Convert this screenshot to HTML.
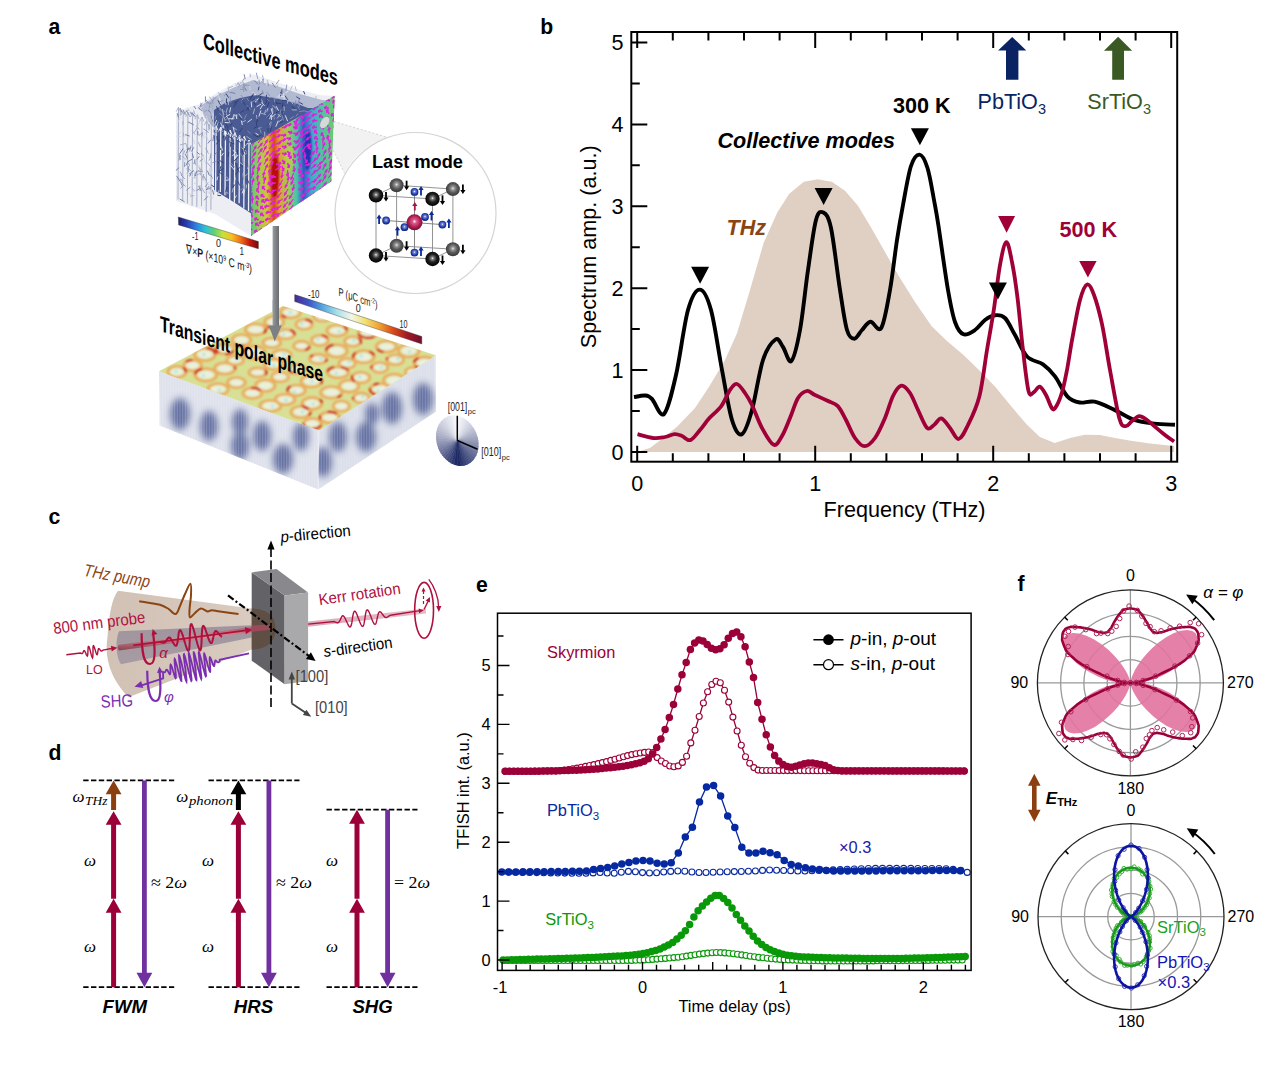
<!DOCTYPE html>
<html><head><meta charset="utf-8"><style>
html,body{margin:0;padding:0;background:#fff;overflow:hidden;}
svg{display:block;}
</style></head><body>
<svg width="1275" height="1086" viewBox="0 0 1275 1086">
<rect width="1275" height="1086" fill="#fff"/>
<path d="M637.0,452.0 L649.8,448.0 L662.0,439.0 L677.5,426.2 L695.0,408.0 L709.2,386.6 L725.0,360.0 L737.0,333.2 L750.0,290.0 L763.6,243.0 L777.4,212.2 L789.0,194.0 L803.8,181.8 L817.8,179.3 L831.8,181.8 L845.0,190.8 L858.0,205.7 L871.2,227.7 L885.0,252.0 L898.0,274.8 L915.0,302.0 L931.7,326.3 L947.0,341.0 L963.5,354.9 L980.0,371.0 L995.2,386.7 L1011.0,406.0 L1027.0,424.8 L1039.9,437.0 L1054.8,443.0 L1070.0,438.0 L1084.7,434.8 L1100.0,435.0 L1115.0,438.0 L1129.4,440.5 L1150.0,443.5 L1174.1,446.0 L1174.1,452.0 Z" fill="#e0d0c4"/>
<path d="M634.0,397.2 C635.8,396.9 642.0,395.2 645.0,395.5 C648.0,395.8 648.8,395.9 652.0,399.0 C655.2,402.1 660.0,418.0 664.0,414.0 C668.0,410.0 672.0,392.3 676.0,375.0 C680.0,357.7 684.0,324.2 688.0,310.0 C692.0,295.8 695.9,289.6 699.7,289.6 C703.5,289.6 707.3,296.6 711.0,310.0 C714.7,323.4 718.5,351.7 722.0,370.0 C725.5,388.3 728.7,409.3 732.0,420.0 C735.3,430.7 738.6,435.9 741.9,434.2 C745.2,432.5 748.5,422.4 752.0,410.0 C755.5,397.6 759.1,371.8 763.0,360.0 C766.9,348.2 772.2,341.7 775.5,339.5 C778.8,337.3 780.4,343.4 783.0,347.0 C785.6,350.6 788.5,363.8 791.3,361.0 C794.1,358.2 797.2,345.2 800.0,330.0 C802.8,314.8 805.3,288.3 808.0,270.0 C810.7,251.7 813.4,229.6 816.0,220.0 C818.6,210.4 820.9,211.3 823.4,212.6 C825.9,213.9 828.2,215.1 831.0,228.0 C833.8,240.9 837.3,273.0 840.0,290.0 C842.7,307.0 844.6,321.9 847.0,330.0 C849.4,338.1 851.9,338.7 854.4,338.7 C856.9,338.7 859.3,332.8 862.0,330.0 C864.7,327.2 867.3,322.2 870.5,321.8 C873.7,321.4 878.0,333.2 881.3,327.9 C884.5,322.6 887.4,304.6 890.0,290.0 C892.6,275.4 894.8,254.2 897.0,240.0 C899.2,225.8 900.7,217.3 903.0,205.0 C905.3,192.7 908.2,174.4 911.0,166.0 C913.8,157.6 916.9,154.3 919.6,154.6 C922.4,154.9 925.1,160.4 927.5,168.0 C929.9,175.6 932.2,190.3 934.0,200.0 C935.8,209.7 936.2,211.0 938.5,226.0 C940.8,241.0 945.2,274.0 948.0,290.0 C950.8,306.0 952.4,314.6 955.0,322.0 C957.6,329.4 960.2,333.0 963.5,334.3 C966.8,335.6 971.4,332.4 975.0,330.0 C978.6,327.6 981.6,322.5 985.0,320.0 C988.4,317.5 991.9,315.5 995.2,315.2 C998.5,314.9 1001.7,314.7 1005.0,318.0 C1008.3,321.3 1011.3,328.6 1015.0,335.0 C1018.7,341.4 1022.3,351.6 1027.0,356.5 C1031.7,361.4 1038.3,361.1 1043.0,364.4 C1047.7,367.7 1051.0,371.1 1055.0,376.4 C1059.0,381.7 1063.2,391.9 1067.3,396.3 C1071.4,400.7 1075.2,401.6 1079.7,402.5 C1084.2,403.4 1088.8,400.5 1094.6,401.7 C1100.4,402.9 1107.9,406.9 1114.5,409.9 C1121.1,412.9 1127.7,417.6 1134.3,419.9 C1140.9,422.2 1147.4,422.8 1154.2,423.6 C1161.0,424.4 1171.5,424.6 1175.0,424.8" fill="none" stroke="#000" stroke-width="3.9" stroke-linejoin="round"/>
<path d="M637.5,434.2 C640.2,434.9 649.2,437.6 653.8,438.1 C658.4,438.6 661.5,437.6 665.0,437.0 C668.5,436.4 671.8,434.4 674.6,434.2 C677.4,434.0 679.4,435.0 682.0,436.0 C684.6,437.0 687.4,441.1 690.4,440.1 C693.4,439.1 696.9,433.6 700.0,430.0 C703.1,426.4 705.7,422.2 709.2,418.3 C712.7,414.4 717.6,411.1 721.1,406.4 C724.6,401.7 727.4,393.7 730.0,390.0 C732.6,386.3 734.4,383.5 736.9,384.0 C739.4,384.5 742.5,389.5 745.0,393.0 C747.5,396.5 749.2,399.2 752.0,405.0 C754.8,410.8 758.4,421.4 762.0,428.0 C765.6,434.6 770.4,443.5 773.7,444.8 C777.0,446.1 779.3,440.5 782.0,436.0 C784.7,431.5 787.3,424.3 790.0,418.0 C792.7,411.7 795.2,402.5 798.0,398.0 C800.8,393.5 804.0,391.5 806.8,391.0 C809.6,390.5 811.5,393.4 815.0,395.0 C818.5,396.6 823.7,399.0 827.5,400.8 C831.3,402.6 834.5,402.7 837.6,405.9 C840.7,409.1 843.1,414.6 846.0,420.0 C848.9,425.4 851.9,433.6 855.0,438.0 C858.1,442.4 861.2,446.2 864.5,446.2 C867.8,446.2 871.6,442.7 875.0,438.0 C878.4,433.3 882.0,425.0 885.0,418.0 C888.0,411.0 890.3,401.4 893.0,396.0 C895.7,390.6 898.6,386.2 901.4,385.7 C904.2,385.2 907.2,388.9 910.0,393.0 C912.8,397.1 915.2,404.2 918.0,410.0 C920.8,415.8 924.3,425.4 927.0,427.9 C929.7,430.4 931.6,426.6 934.0,425.0 C936.4,423.4 938.6,417.9 941.3,418.4 C944.0,418.9 947.1,424.6 950.0,428.0 C952.9,431.4 955.7,439.5 958.7,439.0 C961.7,438.5 964.5,432.1 968.0,425.0 C971.5,417.9 976.2,408.7 979.4,396.2 C982.6,383.7 984.6,364.3 987.0,350.0 C989.4,335.7 991.5,324.7 993.7,310.5 C995.9,296.3 997.9,276.4 1000.0,265.0 C1002.1,253.6 1004.3,242.7 1006.3,242.2 C1008.3,241.7 1010.1,252.7 1012.0,262.0 C1013.9,271.3 1015.7,283.1 1017.5,297.8 C1019.3,312.5 1021.1,334.4 1023.0,350.0 C1024.8,365.6 1026.8,384.4 1028.6,391.4 C1030.4,398.4 1032.2,392.8 1034.0,392.0 C1035.8,391.2 1037.7,386.2 1039.7,386.7 C1041.7,387.2 1043.9,391.3 1046.0,395.0 C1048.1,398.7 1050.6,407.2 1052.4,408.9 C1054.2,410.6 1055.3,407.9 1057.0,405.0 C1058.7,402.1 1060.6,397.1 1062.3,391.3 C1064.0,385.5 1065.3,378.7 1067.0,370.0 C1068.7,361.3 1070.0,350.8 1072.2,339.1 C1074.4,327.4 1077.5,309.1 1080.0,300.0 C1082.5,290.9 1084.8,285.3 1087.1,284.5 C1089.4,283.7 1091.5,288.4 1094.0,295.0 C1096.5,301.6 1099.3,311.7 1102.0,324.2 C1104.7,336.7 1107.1,354.3 1110.0,370.0 C1112.9,385.7 1116.8,409.2 1119.4,418.6 C1122.0,428.0 1123.6,425.7 1125.7,426.1 C1127.8,426.5 1129.7,422.7 1132.0,421.0 C1134.3,419.3 1136.8,416.3 1139.3,416.1 C1141.8,415.9 1144.5,418.3 1147.0,420.0 C1149.5,421.7 1151.2,423.6 1154.2,426.1 C1157.2,428.6 1161.7,432.4 1165.0,435.0 C1168.3,437.6 1172.6,440.4 1174.1,441.5" fill="none" stroke="#a00038" stroke-width="3.8" stroke-linejoin="round"/>
<rect x="631.3" y="32.0" width="545.9000000000001" height="429.7" fill="none" stroke="#000" stroke-width="2"/>
<path d="M631.3,452.0h16 M631.3,411.1h8.5 M631.3,370.1h16 M631.3,329.1h8.5 M631.3,288.2h16 M631.3,247.2h8.5 M631.3,206.3h16 M631.3,165.3h8.5 M631.3,124.4h16 M631.3,83.4h8.5 M631.3,42.5h16 M637.2,461.7v-16 M637.2,32.0v16 M672.8,461.7v-8.5 M672.8,32.0v8.5 M708.4,461.7v-8.5 M708.4,32.0v8.5 M744.0,461.7v-8.5 M744.0,32.0v8.5 M779.6,461.7v-8.5 M779.6,32.0v8.5 M815.2,461.7v-16 M815.2,32.0v16 M850.8,461.7v-8.5 M850.8,32.0v8.5 M886.4,461.7v-8.5 M886.4,32.0v8.5 M922.0,461.7v-8.5 M922.0,32.0v8.5 M957.6,461.7v-8.5 M957.6,32.0v8.5 M993.2,461.7v-16 M993.2,32.0v16 M1028.8,461.7v-8.5 M1028.8,32.0v8.5 M1064.4,461.7v-8.5 M1064.4,32.0v8.5 M1100.0,461.7v-8.5 M1100.0,32.0v8.5 M1135.6,461.7v-8.5 M1135.6,32.0v8.5 M1171.2,461.7v-16 M1171.2,32.0v16" stroke="#000" stroke-width="2" fill="none"/>
<text x="623.5" y="459.6" font-family='"Liberation Sans", sans-serif' font-size="21.6" fill="#000" font-weight="normal" font-style="normal" text-anchor="end" >0</text>
<text x="623.5" y="377.7" font-family='"Liberation Sans", sans-serif' font-size="21.6" fill="#000" font-weight="normal" font-style="normal" text-anchor="end" >1</text>
<text x="623.5" y="295.8" font-family='"Liberation Sans", sans-serif' font-size="21.6" fill="#000" font-weight="normal" font-style="normal" text-anchor="end" >2</text>
<text x="623.5" y="213.9" font-family='"Liberation Sans", sans-serif' font-size="21.6" fill="#000" font-weight="normal" font-style="normal" text-anchor="end" >3</text>
<text x="623.5" y="132.0" font-family='"Liberation Sans", sans-serif' font-size="21.6" fill="#000" font-weight="normal" font-style="normal" text-anchor="end" >4</text>
<text x="623.5" y="50.1" font-family='"Liberation Sans", sans-serif' font-size="21.6" fill="#000" font-weight="normal" font-style="normal" text-anchor="end" >5</text>
<text x="637.2" y="491.0" font-family='"Liberation Sans", sans-serif' font-size="21.6" fill="#000" font-weight="normal" font-style="normal" text-anchor="middle" >0</text>
<text x="815.2" y="491.0" font-family='"Liberation Sans", sans-serif' font-size="21.6" fill="#000" font-weight="normal" font-style="normal" text-anchor="middle" >1</text>
<text x="993.2" y="491.0" font-family='"Liberation Sans", sans-serif' font-size="21.6" fill="#000" font-weight="normal" font-style="normal" text-anchor="middle" >2</text>
<text x="1171.2" y="491.0" font-family='"Liberation Sans", sans-serif' font-size="21.6" fill="#000" font-weight="normal" font-style="normal" text-anchor="middle" >3</text>
<text x="904.5" y="517.3" font-family='"Liberation Sans", sans-serif' font-size="21.6" fill="#000" font-weight="normal" font-style="normal" text-anchor="middle" >Frequency (THz)</text>
<text transform="translate(596.3,246.8) rotate(-90)" font-family='"Liberation Sans", sans-serif' font-size="21.6" text-anchor="middle">Spectrum amp. (a.u.)</text>
<path d="M691.1,266.8 L709.1,266.8 L700.1,283.8Z" fill="#000"/>
<path d="M814.6,188.0 L832.6,188.0 L823.6,205.0Z" fill="#000"/>
<path d="M910.9,128.3 L928.9,128.3 L919.9,145.3Z" fill="#000"/>
<path d="M988.9,282.5 L1006.9,282.5 L997.9,299.5Z" fill="#000"/>
<path d="M998.1,215.9 L1015.1,215.9 L1006.6,232.7Z" fill="#a00038"/>
<path d="M1079.2,260.9 L1096.6,260.9 L1087.9,277.5Z" fill="#a00038"/>
<text x="893.0" y="112.8" font-family='"Liberation Sans", sans-serif' font-size="21.6" fill="#000" font-weight="bold" font-style="normal" text-anchor="start" >300 K</text>
<text x="1059.5" y="237.3" font-family='"Liberation Sans", sans-serif' font-size="21.6" fill="#a00038" font-weight="bold" font-style="normal" text-anchor="start" >500 K</text>
<text x="717.5" y="148.3" font-family='"Liberation Sans", sans-serif' font-size="21.6" fill="#000" font-weight="bold" font-style="italic" text-anchor="start" >Collective modes</text>
<text x="726.5" y="235.3" font-family='"Liberation Sans", sans-serif' font-size="21.6" fill="#8b4513" font-weight="bold" font-style="italic" text-anchor="start" >THz</text>
<path d="M1012.2,36.9 L1026.3,50.6 L1018.4,50.6 L1018.4,79.7 L1006.0,79.7 L1006.0,50.6 L998.1,50.6Z" fill="#0a2463"/>
<path d="M1118.1,36.8 L1132.2,50.7 L1124.0,50.7 L1124.0,79.7 L1112.2,79.7 L1112.2,50.7 L1104.0,50.7Z" fill="#3b5a23"/>
<text x="977.5" y="109.2" font-family='"Liberation Sans", sans-serif' font-size="21.6" fill="#0a2463">PbTiO<tspan font-size="14.5" dy="5">3</tspan></text>
<text x="1087.3" y="109.0" font-family='"Liberation Sans", sans-serif' font-size="21.6" fill="#3b5a23">SrTiO<tspan font-size="14.5" dy="5">3</tspan></text>
<path d="M505.5,771.3 L509.7,771.2 L514.0,771.2 L518.2,771.2 L522.4,771.2 L526.6,771.2 L530.8,771.2 L535.0,771.1 L539.2,771.1 L543.4,771.0 L547.6,770.9 L551.8,770.8 L556.1,770.7 L560.3,770.5 L564.5,770.1 L568.7,769.6 L572.9,768.8 L577.1,768.1 L581.3,767.2 L585.5,766.4 L589.7,765.5 L593.9,764.6 L598.2,763.6 L602.4,762.6 L606.6,761.6 L610.8,760.4 L615.0,759.2 L619.2,758.0 L623.4,756.8 L627.6,755.6 L631.8,754.6 L636.0,753.7 L640.3,753.0 L644.5,752.4 L648.7,752.0 L652.9,752.6 L657.1,757.6 L661.3,761.0 L665.5,763.5 L669.7,766.0 L673.9,766.7 L678.2,765.9 L682.4,762.4 L686.6,756.3 L690.8,742.9 L695.0,730.2 L699.2,716.5 L703.4,703.0 L707.6,691.7 L711.8,684.5 L716.0,681.2 L720.3,682.8 L724.5,690.2 L728.7,702.1 L732.9,717.1 L737.1,731.0 L741.3,745.2 L745.5,756.8 L749.7,763.3 L753.9,767.6 L758.1,770.1 L762.4,770.5 L766.6,770.5 L770.8,770.5 L775.0,770.5 L779.2,770.6 L783.4,770.6 L787.6,770.6 L791.8,770.6 L796.0,770.6 L800.2,770.6 L804.5,770.7 L808.7,770.7 L812.9,770.7 L817.1,770.7 L821.3,770.7 L825.5,770.7 L829.7,770.7 L833.9,770.7 L838.1,770.8 L842.3,770.8 L846.6,770.8 L850.8,770.8 L855.0,770.8 L859.2,770.8 L863.4,770.8 L867.6,770.8 L871.8,770.8 L876.0,770.8 L880.2,770.8 L884.4,770.8 L888.7,770.9 L892.9,770.9 L897.1,770.9 L901.3,770.9 L905.5,770.9 L909.7,770.9 L913.9,770.9 L918.1,770.9 L922.3,770.9 L926.5,770.9 L930.8,770.9 L935.0,770.9 L939.2,770.9 L943.4,770.9 L947.6,771.0 L951.8,771.0 L956.0,771.0 L960.2,771.0 L964.4,771.0" fill="none" stroke="#9b0038" stroke-width="1.3"/>
<g fill="#fff" stroke="#9b0038" stroke-width="1.1"><circle cx="505.5" cy="771.3" r="3.0"/><circle cx="509.7" cy="771.2" r="3.0"/><circle cx="514.0" cy="771.2" r="3.0"/><circle cx="518.2" cy="771.2" r="3.0"/><circle cx="522.4" cy="771.2" r="3.0"/><circle cx="526.6" cy="771.2" r="3.0"/><circle cx="530.8" cy="771.2" r="3.0"/><circle cx="535.0" cy="771.1" r="3.0"/><circle cx="539.2" cy="771.1" r="3.0"/><circle cx="543.4" cy="771.0" r="3.0"/><circle cx="547.6" cy="770.9" r="3.0"/><circle cx="551.8" cy="770.8" r="3.0"/><circle cx="556.1" cy="770.7" r="3.0"/><circle cx="560.3" cy="770.5" r="3.0"/><circle cx="564.5" cy="770.1" r="3.0"/><circle cx="568.7" cy="769.6" r="3.0"/><circle cx="572.9" cy="768.8" r="3.0"/><circle cx="577.1" cy="768.1" r="3.0"/><circle cx="581.3" cy="767.2" r="3.0"/><circle cx="585.5" cy="766.4" r="3.0"/><circle cx="589.7" cy="765.5" r="3.0"/><circle cx="593.9" cy="764.6" r="3.0"/><circle cx="598.2" cy="763.6" r="3.0"/><circle cx="602.4" cy="762.6" r="3.0"/><circle cx="606.6" cy="761.6" r="3.0"/><circle cx="610.8" cy="760.4" r="3.0"/><circle cx="615.0" cy="759.2" r="3.0"/><circle cx="619.2" cy="758.0" r="3.0"/><circle cx="623.4" cy="756.8" r="3.0"/><circle cx="627.6" cy="755.6" r="3.0"/><circle cx="631.8" cy="754.6" r="3.0"/><circle cx="636.0" cy="753.7" r="3.0"/><circle cx="640.3" cy="753.0" r="3.0"/><circle cx="644.5" cy="752.4" r="3.0"/><circle cx="648.7" cy="752.0" r="3.0"/><circle cx="652.9" cy="752.6" r="3.0"/><circle cx="657.1" cy="757.6" r="3.0"/><circle cx="661.3" cy="761.0" r="3.0"/><circle cx="665.5" cy="763.5" r="3.0"/><circle cx="669.7" cy="766.0" r="3.0"/><circle cx="673.9" cy="766.7" r="3.0"/><circle cx="678.2" cy="765.9" r="3.0"/><circle cx="682.4" cy="762.4" r="3.0"/><circle cx="686.6" cy="756.3" r="3.0"/><circle cx="690.8" cy="742.9" r="3.0"/><circle cx="695.0" cy="730.2" r="3.0"/><circle cx="699.2" cy="716.5" r="3.0"/><circle cx="703.4" cy="703.0" r="3.0"/><circle cx="707.6" cy="691.7" r="3.0"/><circle cx="711.8" cy="684.5" r="3.0"/><circle cx="716.0" cy="681.2" r="3.0"/><circle cx="720.3" cy="682.8" r="3.0"/><circle cx="724.5" cy="690.2" r="3.0"/><circle cx="728.7" cy="702.1" r="3.0"/><circle cx="732.9" cy="717.1" r="3.0"/><circle cx="737.1" cy="731.0" r="3.0"/><circle cx="741.3" cy="745.2" r="3.0"/><circle cx="745.5" cy="756.8" r="3.0"/><circle cx="749.7" cy="763.3" r="3.0"/><circle cx="753.9" cy="767.6" r="3.0"/><circle cx="758.1" cy="770.1" r="3.0"/><circle cx="762.4" cy="770.5" r="3.0"/><circle cx="766.6" cy="770.5" r="3.0"/><circle cx="770.8" cy="770.5" r="3.0"/><circle cx="775.0" cy="770.5" r="3.0"/><circle cx="779.2" cy="770.6" r="3.0"/><circle cx="783.4" cy="770.6" r="3.0"/><circle cx="787.6" cy="770.6" r="3.0"/><circle cx="791.8" cy="770.6" r="3.0"/><circle cx="796.0" cy="770.6" r="3.0"/><circle cx="800.2" cy="770.6" r="3.0"/><circle cx="804.5" cy="770.7" r="3.0"/><circle cx="808.7" cy="770.7" r="3.0"/><circle cx="812.9" cy="770.7" r="3.0"/><circle cx="817.1" cy="770.7" r="3.0"/><circle cx="821.3" cy="770.7" r="3.0"/><circle cx="825.5" cy="770.7" r="3.0"/><circle cx="829.7" cy="770.7" r="3.0"/><circle cx="833.9" cy="770.7" r="3.0"/><circle cx="838.1" cy="770.8" r="3.0"/><circle cx="842.3" cy="770.8" r="3.0"/><circle cx="846.6" cy="770.8" r="3.0"/><circle cx="850.8" cy="770.8" r="3.0"/><circle cx="855.0" cy="770.8" r="3.0"/><circle cx="859.2" cy="770.8" r="3.0"/><circle cx="863.4" cy="770.8" r="3.0"/><circle cx="867.6" cy="770.8" r="3.0"/><circle cx="871.8" cy="770.8" r="3.0"/><circle cx="876.0" cy="770.8" r="3.0"/><circle cx="880.2" cy="770.8" r="3.0"/><circle cx="884.4" cy="770.8" r="3.0"/><circle cx="888.7" cy="770.9" r="3.0"/><circle cx="892.9" cy="770.9" r="3.0"/><circle cx="897.1" cy="770.9" r="3.0"/><circle cx="901.3" cy="770.9" r="3.0"/><circle cx="905.5" cy="770.9" r="3.0"/><circle cx="909.7" cy="770.9" r="3.0"/><circle cx="913.9" cy="770.9" r="3.0"/><circle cx="918.1" cy="770.9" r="3.0"/><circle cx="922.3" cy="770.9" r="3.0"/><circle cx="926.5" cy="770.9" r="3.0"/><circle cx="930.8" cy="770.9" r="3.0"/><circle cx="935.0" cy="770.9" r="3.0"/><circle cx="939.2" cy="770.9" r="3.0"/><circle cx="943.4" cy="770.9" r="3.0"/><circle cx="947.6" cy="771.0" r="3.0"/><circle cx="951.8" cy="771.0" r="3.0"/><circle cx="956.0" cy="771.0" r="3.0"/><circle cx="960.2" cy="771.0" r="3.0"/><circle cx="964.4" cy="771.0" r="3.0"/></g>
<g fill="#9b0038"><path d="M505.1,771.3 L509.3,771.3 L513.6,771.3 L517.8,771.3 L522.0,771.3 L526.2,771.3 L530.4,771.3 L534.6,771.3 L538.8,771.2 L543.0,771.1 L547.2,771.1 L551.4,771.0 L555.7,770.9 L559.9,770.8 L564.1,770.6 L568.3,770.5 L572.5,770.3 L576.7,770.2 L580.9,770.0 L585.1,769.7 L589.3,769.5 L593.5,769.2 L597.8,768.9 L602.0,768.5 L606.2,768.1 L610.4,767.8 L614.6,767.3 L618.8,766.8 L623.0,766.2 L627.2,765.5 L631.4,764.7 L635.6,763.8 L639.9,762.8 L644.1,761.2 L648.3,758.7 L652.5,754.0 L656.7,747.6 L660.9,739.0 L665.1,729.6 L669.3,717.5 L673.5,704.5 L677.8,689.0 L682.0,674.8 L686.2,662.6 L690.4,649.4 L694.6,643.0 L698.8,640.1 L703.0,641.0 L707.2,644.6 L711.4,648.3 L715.6,649.8 L719.9,648.7 L724.1,644.7 L728.3,638.2 L732.5,633.6 L736.7,631.9 L740.9,636.8 L745.1,646.7 L749.3,662.0 L753.5,677.5 L757.7,702.5 L762.0,719.2 L766.2,734.8 L770.4,747.1 L774.6,755.5 L778.8,761.1 L783.0,764.6 L787.2,766.6 L791.4,767.2 L795.6,766.2 L799.8,764.9 L804.1,763.7 L808.3,763.1 L812.5,763.0 L816.7,763.7 L820.9,764.4 L825.1,765.5 L829.3,767.8 L833.5,769.8 L837.7,770.6 L841.9,770.9 L846.2,771.0 L850.4,771.0 L854.6,771.0 L858.8,771.1 L863.0,771.1 L867.2,771.1 L871.4,771.1 L875.6,771.1 L879.8,771.1 L884.0,771.1 L888.3,771.1 L892.5,771.1 L896.7,771.1 L900.9,771.1 L905.1,771.1 L909.3,771.1 L913.5,771.0 L917.7,771.0 L921.9,771.0 L926.1,771.0 L930.4,771.0 L934.6,771.0 L938.8,771.0 L943.0,770.9 L947.2,770.9 L951.4,770.9 L955.6,770.9 L959.8,770.9 L964.0,770.9" fill="none" stroke="#9b0038" stroke-width="1.3"/>
<circle cx="505.1" cy="771.3" r="3.75"/><circle cx="509.3" cy="771.3" r="3.75"/><circle cx="513.6" cy="771.3" r="3.75"/><circle cx="517.8" cy="771.3" r="3.75"/><circle cx="522.0" cy="771.3" r="3.75"/><circle cx="526.2" cy="771.3" r="3.75"/><circle cx="530.4" cy="771.3" r="3.75"/><circle cx="534.6" cy="771.3" r="3.75"/><circle cx="538.8" cy="771.2" r="3.75"/><circle cx="543.0" cy="771.1" r="3.75"/><circle cx="547.2" cy="771.1" r="3.75"/><circle cx="551.4" cy="771.0" r="3.75"/><circle cx="555.7" cy="770.9" r="3.75"/><circle cx="559.9" cy="770.8" r="3.75"/><circle cx="564.1" cy="770.6" r="3.75"/><circle cx="568.3" cy="770.5" r="3.75"/><circle cx="572.5" cy="770.3" r="3.75"/><circle cx="576.7" cy="770.2" r="3.75"/><circle cx="580.9" cy="770.0" r="3.75"/><circle cx="585.1" cy="769.7" r="3.75"/><circle cx="589.3" cy="769.5" r="3.75"/><circle cx="593.5" cy="769.2" r="3.75"/><circle cx="597.8" cy="768.9" r="3.75"/><circle cx="602.0" cy="768.5" r="3.75"/><circle cx="606.2" cy="768.1" r="3.75"/><circle cx="610.4" cy="767.8" r="3.75"/><circle cx="614.6" cy="767.3" r="3.75"/><circle cx="618.8" cy="766.8" r="3.75"/><circle cx="623.0" cy="766.2" r="3.75"/><circle cx="627.2" cy="765.5" r="3.75"/><circle cx="631.4" cy="764.7" r="3.75"/><circle cx="635.6" cy="763.8" r="3.75"/><circle cx="639.9" cy="762.8" r="3.75"/><circle cx="644.1" cy="761.2" r="3.75"/><circle cx="648.3" cy="758.7" r="3.75"/><circle cx="652.5" cy="754.0" r="3.75"/><circle cx="656.7" cy="747.6" r="3.75"/><circle cx="660.9" cy="739.0" r="3.75"/><circle cx="665.1" cy="729.6" r="3.75"/><circle cx="669.3" cy="717.5" r="3.75"/><circle cx="673.5" cy="704.5" r="3.75"/><circle cx="677.8" cy="689.0" r="3.75"/><circle cx="682.0" cy="674.8" r="3.75"/><circle cx="686.2" cy="662.6" r="3.75"/><circle cx="690.4" cy="649.4" r="3.75"/><circle cx="694.6" cy="643.0" r="3.75"/><circle cx="698.8" cy="640.1" r="3.75"/><circle cx="703.0" cy="641.0" r="3.75"/><circle cx="707.2" cy="644.6" r="3.75"/><circle cx="711.4" cy="648.3" r="3.75"/><circle cx="715.6" cy="649.8" r="3.75"/><circle cx="719.9" cy="648.7" r="3.75"/><circle cx="724.1" cy="644.7" r="3.75"/><circle cx="728.3" cy="638.2" r="3.75"/><circle cx="732.5" cy="633.6" r="3.75"/><circle cx="736.7" cy="631.9" r="3.75"/><circle cx="740.9" cy="636.8" r="3.75"/><circle cx="745.1" cy="646.7" r="3.75"/><circle cx="749.3" cy="662.0" r="3.75"/><circle cx="753.5" cy="677.5" r="3.75"/><circle cx="757.7" cy="702.5" r="3.75"/><circle cx="762.0" cy="719.2" r="3.75"/><circle cx="766.2" cy="734.8" r="3.75"/><circle cx="770.4" cy="747.1" r="3.75"/><circle cx="774.6" cy="755.5" r="3.75"/><circle cx="778.8" cy="761.1" r="3.75"/><circle cx="783.0" cy="764.6" r="3.75"/><circle cx="787.2" cy="766.6" r="3.75"/><circle cx="791.4" cy="767.2" r="3.75"/><circle cx="795.6" cy="766.2" r="3.75"/><circle cx="799.8" cy="764.9" r="3.75"/><circle cx="804.1" cy="763.7" r="3.75"/><circle cx="808.3" cy="763.1" r="3.75"/><circle cx="812.5" cy="763.0" r="3.75"/><circle cx="816.7" cy="763.7" r="3.75"/><circle cx="820.9" cy="764.4" r="3.75"/><circle cx="825.1" cy="765.5" r="3.75"/><circle cx="829.3" cy="767.8" r="3.75"/><circle cx="833.5" cy="769.8" r="3.75"/><circle cx="837.7" cy="770.6" r="3.75"/><circle cx="841.9" cy="770.9" r="3.75"/><circle cx="846.2" cy="771.0" r="3.75"/><circle cx="850.4" cy="771.0" r="3.75"/><circle cx="854.6" cy="771.0" r="3.75"/><circle cx="858.8" cy="771.1" r="3.75"/><circle cx="863.0" cy="771.1" r="3.75"/><circle cx="867.2" cy="771.1" r="3.75"/><circle cx="871.4" cy="771.1" r="3.75"/><circle cx="875.6" cy="771.1" r="3.75"/><circle cx="879.8" cy="771.1" r="3.75"/><circle cx="884.0" cy="771.1" r="3.75"/><circle cx="888.3" cy="771.1" r="3.75"/><circle cx="892.5" cy="771.1" r="3.75"/><circle cx="896.7" cy="771.1" r="3.75"/><circle cx="900.9" cy="771.1" r="3.75"/><circle cx="905.1" cy="771.1" r="3.75"/><circle cx="909.3" cy="771.1" r="3.75"/><circle cx="913.5" cy="771.0" r="3.75"/><circle cx="917.7" cy="771.0" r="3.75"/><circle cx="921.9" cy="771.0" r="3.75"/><circle cx="926.1" cy="771.0" r="3.75"/><circle cx="930.4" cy="771.0" r="3.75"/><circle cx="934.6" cy="771.0" r="3.75"/><circle cx="938.8" cy="771.0" r="3.75"/><circle cx="943.0" cy="770.9" r="3.75"/><circle cx="947.2" cy="770.9" r="3.75"/><circle cx="951.4" cy="770.9" r="3.75"/><circle cx="955.6" cy="770.9" r="3.75"/><circle cx="959.8" cy="770.9" r="3.75"/><circle cx="964.0" cy="770.9" r="3.75"/></g>

<g fill="#fff" stroke="#0628a0" stroke-width="1.1"><circle cx="508.3" cy="872.1" r="3.0"/><circle cx="515.4" cy="872.2" r="3.0"/><circle cx="522.5" cy="872.4" r="3.0"/><circle cx="529.5" cy="872.5" r="3.0"/><circle cx="536.6" cy="872.6" r="3.0"/><circle cx="543.6" cy="872.8" r="3.0"/><circle cx="550.7" cy="872.9" r="3.0"/><circle cx="557.8" cy="873.0" r="3.0"/><circle cx="564.8" cy="873.1" r="3.0"/><circle cx="571.9" cy="873.2" r="3.0"/><circle cx="578.9" cy="873.3" r="3.0"/><circle cx="586.0" cy="873.3" r="3.0"/><circle cx="593.1" cy="872.9" r="3.0"/><circle cx="600.1" cy="872.5" r="3.0"/><circle cx="607.2" cy="873.0" r="3.0"/><circle cx="614.2" cy="873.3" r="3.0"/><circle cx="621.3" cy="872.3" r="3.0"/><circle cx="628.4" cy="871.4" r="3.0"/><circle cx="635.4" cy="871.8" r="3.0"/><circle cx="642.5" cy="872.6" r="3.0"/><circle cx="649.5" cy="873.0" r="3.0"/><circle cx="656.6" cy="872.7" r="3.0"/><circle cx="663.7" cy="872.0" r="3.0"/><circle cx="670.7" cy="871.4" r="3.0"/><circle cx="677.8" cy="871.0" r="3.0"/><circle cx="684.8" cy="871.3" r="3.0"/><circle cx="691.9" cy="872.0" r="3.0"/><circle cx="699.0" cy="872.5" r="3.0"/><circle cx="706.0" cy="872.5" r="3.0"/><circle cx="713.1" cy="872.3" r="3.0"/><circle cx="720.1" cy="872.0" r="3.0"/><circle cx="727.2" cy="871.8" r="3.0"/><circle cx="734.3" cy="871.6" r="3.0"/><circle cx="741.3" cy="871.5" r="3.0"/><circle cx="748.4" cy="871.2" r="3.0"/><circle cx="755.4" cy="871.0" r="3.0"/><circle cx="762.5" cy="870.4" r="3.0"/><circle cx="769.6" cy="870.0" r="3.0"/><circle cx="776.6" cy="870.2" r="3.0"/><circle cx="783.7" cy="870.5" r="3.0"/><circle cx="790.7" cy="870.8" r="3.0"/><circle cx="797.8" cy="871.0" r="3.0"/><circle cx="804.9" cy="871.0" r="3.0"/><circle cx="811.9" cy="870.8" r="3.0"/><circle cx="819.0" cy="870.5" r="3.0"/><circle cx="826.0" cy="870.2" r="3.0"/><circle cx="833.1" cy="869.9" r="3.0"/><circle cx="840.2" cy="869.6" r="3.0"/><circle cx="847.2" cy="869.3" r="3.0"/><circle cx="854.3" cy="869.0" r="3.0"/><circle cx="861.3" cy="868.7" r="3.0"/><circle cx="868.4" cy="868.5" r="3.0"/><circle cx="875.5" cy="868.4" r="3.0"/><circle cx="882.5" cy="868.4" r="3.0"/><circle cx="889.6" cy="868.4" r="3.0"/><circle cx="896.6" cy="868.4" r="3.0"/><circle cx="903.7" cy="868.4" r="3.0"/><circle cx="910.8" cy="868.4" r="3.0"/><circle cx="917.8" cy="868.5" r="3.0"/><circle cx="924.9" cy="868.5" r="3.0"/><circle cx="931.9" cy="868.5" r="3.0"/><circle cx="939.0" cy="868.5" r="3.0"/><circle cx="946.1" cy="868.7" r="3.0"/><circle cx="953.1" cy="869.4" r="3.0"/><circle cx="960.2" cy="870.9" r="3.0"/><circle cx="967.2" cy="872.4" r="3.0"/></g>
<g fill="#0628a0"><path d="M501.8,872.0 L508.8,871.9 L515.9,871.9 L523.0,871.8 L530.0,871.8 L537.1,871.7 L544.1,871.7 L551.2,871.6 L558.3,871.5 L565.3,871.4 L572.4,871.3 L579.4,871.2 L586.5,871.0 L593.6,869.6 L600.6,868.6 L607.7,867.6 L614.7,866.0 L621.8,864.0 L628.9,862.4 L635.9,861.1 L643.0,860.6 L650.0,860.9 L657.1,863.2 L664.2,864.1 L671.2,862.8 L678.3,853.0 L685.3,836.9 L692.4,827.2 L699.5,802.0 L706.5,786.9 L713.6,785.6 L720.6,796.1 L727.7,816.1 L734.8,827.6 L741.8,847.2 L748.9,852.9 L755.9,852.9 L763.0,851.2 L770.1,852.7 L777.1,854.7 L784.2,860.5 L791.2,864.4 L798.3,866.0 L805.4,867.7 L812.4,869.0 L819.5,869.6 L826.5,870.4 L833.6,870.9 L840.7,870.9 L847.7,870.9 L854.8,870.9 L861.8,870.9 L868.9,870.9 L876.0,870.9 L883.0,870.8 L890.1,870.8 L897.1,870.8 L904.2,870.8 L911.3,870.7 L918.3,870.7 L925.4,870.7 L932.4,870.6 L939.5,870.6 L946.6,870.6 L953.6,870.5 L960.7,870.5" fill="none" stroke="#0628a0" stroke-width="1.3"/>
<circle cx="501.8" cy="872.0" r="3.75"/><circle cx="508.8" cy="871.9" r="3.75"/><circle cx="515.9" cy="871.9" r="3.75"/><circle cx="523.0" cy="871.8" r="3.75"/><circle cx="530.0" cy="871.8" r="3.75"/><circle cx="537.1" cy="871.7" r="3.75"/><circle cx="544.1" cy="871.7" r="3.75"/><circle cx="551.2" cy="871.6" r="3.75"/><circle cx="558.3" cy="871.5" r="3.75"/><circle cx="565.3" cy="871.4" r="3.75"/><circle cx="572.4" cy="871.3" r="3.75"/><circle cx="579.4" cy="871.2" r="3.75"/><circle cx="586.5" cy="871.0" r="3.75"/><circle cx="593.6" cy="869.6" r="3.75"/><circle cx="600.6" cy="868.6" r="3.75"/><circle cx="607.7" cy="867.6" r="3.75"/><circle cx="614.7" cy="866.0" r="3.75"/><circle cx="621.8" cy="864.0" r="3.75"/><circle cx="628.9" cy="862.4" r="3.75"/><circle cx="635.9" cy="861.1" r="3.75"/><circle cx="643.0" cy="860.6" r="3.75"/><circle cx="650.0" cy="860.9" r="3.75"/><circle cx="657.1" cy="863.2" r="3.75"/><circle cx="664.2" cy="864.1" r="3.75"/><circle cx="671.2" cy="862.8" r="3.75"/><circle cx="678.3" cy="853.0" r="3.75"/><circle cx="685.3" cy="836.9" r="3.75"/><circle cx="692.4" cy="827.2" r="3.75"/><circle cx="699.5" cy="802.0" r="3.75"/><circle cx="706.5" cy="786.9" r="3.75"/><circle cx="713.6" cy="785.6" r="3.75"/><circle cx="720.6" cy="796.1" r="3.75"/><circle cx="727.7" cy="816.1" r="3.75"/><circle cx="734.8" cy="827.6" r="3.75"/><circle cx="741.8" cy="847.2" r="3.75"/><circle cx="748.9" cy="852.9" r="3.75"/><circle cx="755.9" cy="852.9" r="3.75"/><circle cx="763.0" cy="851.2" r="3.75"/><circle cx="770.1" cy="852.7" r="3.75"/><circle cx="777.1" cy="854.7" r="3.75"/><circle cx="784.2" cy="860.5" r="3.75"/><circle cx="791.2" cy="864.4" r="3.75"/><circle cx="798.3" cy="866.0" r="3.75"/><circle cx="805.4" cy="867.7" r="3.75"/><circle cx="812.4" cy="869.0" r="3.75"/><circle cx="819.5" cy="869.6" r="3.75"/><circle cx="826.5" cy="870.4" r="3.75"/><circle cx="833.6" cy="870.9" r="3.75"/><circle cx="840.7" cy="870.9" r="3.75"/><circle cx="847.7" cy="870.9" r="3.75"/><circle cx="854.8" cy="870.9" r="3.75"/><circle cx="861.8" cy="870.9" r="3.75"/><circle cx="868.9" cy="870.9" r="3.75"/><circle cx="876.0" cy="870.9" r="3.75"/><circle cx="883.0" cy="870.8" r="3.75"/><circle cx="890.1" cy="870.8" r="3.75"/><circle cx="897.1" cy="870.8" r="3.75"/><circle cx="904.2" cy="870.8" r="3.75"/><circle cx="911.3" cy="870.7" r="3.75"/><circle cx="918.3" cy="870.7" r="3.75"/><circle cx="925.4" cy="870.7" r="3.75"/><circle cx="932.4" cy="870.6" r="3.75"/><circle cx="939.5" cy="870.6" r="3.75"/><circle cx="946.6" cy="870.6" r="3.75"/><circle cx="953.6" cy="870.5" r="3.75"/><circle cx="960.7" cy="870.5" r="3.75"/></g>

<g fill="#fff" stroke="#089808" stroke-width="1.1"><circle cx="504.3" cy="960.5" r="3.0"/><circle cx="508.6" cy="960.5" r="3.0"/><circle cx="512.8" cy="960.5" r="3.0"/><circle cx="517.0" cy="960.5" r="3.0"/><circle cx="521.3" cy="960.5" r="3.0"/><circle cx="525.5" cy="960.5" r="3.0"/><circle cx="529.8" cy="960.5" r="3.0"/><circle cx="534.0" cy="960.5" r="3.0"/><circle cx="538.2" cy="960.5" r="3.0"/><circle cx="542.5" cy="960.5" r="3.0"/><circle cx="546.7" cy="960.5" r="3.0"/><circle cx="551.0" cy="960.5" r="3.0"/><circle cx="555.2" cy="960.5" r="3.0"/><circle cx="559.4" cy="960.5" r="3.0"/><circle cx="563.7" cy="960.5" r="3.0"/><circle cx="567.9" cy="960.5" r="3.0"/><circle cx="572.2" cy="960.5" r="3.0"/><circle cx="576.4" cy="960.5" r="3.0"/><circle cx="580.6" cy="960.5" r="3.0"/><circle cx="584.9" cy="960.5" r="3.0"/><circle cx="589.1" cy="960.5" r="3.0"/><circle cx="593.4" cy="960.5" r="3.0"/><circle cx="597.6" cy="960.5" r="3.0"/><circle cx="601.8" cy="960.5" r="3.0"/><circle cx="606.1" cy="960.5" r="3.0"/><circle cx="610.3" cy="960.5" r="3.0"/><circle cx="614.6" cy="960.5" r="3.0"/><circle cx="618.8" cy="960.5" r="3.0"/><circle cx="623.0" cy="960.5" r="3.0"/><circle cx="627.3" cy="960.4" r="3.0"/><circle cx="631.5" cy="960.4" r="3.0"/><circle cx="635.8" cy="960.3" r="3.0"/><circle cx="640.0" cy="960.1" r="3.0"/><circle cx="644.2" cy="959.9" r="3.0"/><circle cx="648.5" cy="959.7" r="3.0"/><circle cx="652.7" cy="959.4" r="3.0"/><circle cx="657.0" cy="959.1" r="3.0"/><circle cx="661.2" cy="958.7" r="3.0"/><circle cx="665.4" cy="958.4" r="3.0"/><circle cx="669.7" cy="958.0" r="3.0"/><circle cx="673.9" cy="957.6" r="3.0"/><circle cx="678.2" cy="957.2" r="3.0"/><circle cx="682.4" cy="956.7" r="3.0"/><circle cx="686.6" cy="956.1" r="3.0"/><circle cx="690.9" cy="955.4" r="3.0"/><circle cx="695.1" cy="954.7" r="3.0"/><circle cx="699.4" cy="954.1" r="3.0"/><circle cx="703.6" cy="953.6" r="3.0"/><circle cx="707.8" cy="953.1" r="3.0"/><circle cx="712.1" cy="952.7" r="3.0"/><circle cx="716.3" cy="952.5" r="3.0"/><circle cx="720.6" cy="952.6" r="3.0"/><circle cx="724.8" cy="952.9" r="3.0"/><circle cx="729.0" cy="953.3" r="3.0"/><circle cx="733.3" cy="953.8" r="3.0"/><circle cx="737.5" cy="954.3" r="3.0"/><circle cx="741.8" cy="954.9" r="3.0"/><circle cx="746.0" cy="955.5" r="3.0"/><circle cx="750.2" cy="956.2" r="3.0"/><circle cx="754.5" cy="956.8" r="3.0"/><circle cx="758.7" cy="957.4" r="3.0"/><circle cx="763.0" cy="957.8" r="3.0"/><circle cx="767.2" cy="958.3" r="3.0"/><circle cx="771.4" cy="958.7" r="3.0"/><circle cx="775.7" cy="959.1" r="3.0"/><circle cx="779.9" cy="959.4" r="3.0"/><circle cx="784.2" cy="959.7" r="3.0"/><circle cx="788.4" cy="959.9" r="3.0"/><circle cx="792.6" cy="960.1" r="3.0"/><circle cx="796.9" cy="960.3" r="3.0"/><circle cx="801.1" cy="960.4" r="3.0"/><circle cx="805.4" cy="960.5" r="3.0"/><circle cx="809.6" cy="960.7" r="3.0"/><circle cx="813.8" cy="960.8" r="3.0"/><circle cx="818.1" cy="960.8" r="3.0"/><circle cx="822.3" cy="960.9" r="3.0"/><circle cx="826.6" cy="960.9" r="3.0"/><circle cx="830.8" cy="961.0" r="3.0"/><circle cx="835.0" cy="961.0" r="3.0"/><circle cx="839.3" cy="961.0" r="3.0"/><circle cx="843.5" cy="961.0" r="3.0"/><circle cx="847.8" cy="961.0" r="3.0"/><circle cx="852.0" cy="961.0" r="3.0"/><circle cx="856.2" cy="961.0" r="3.0"/><circle cx="860.5" cy="961.0" r="3.0"/><circle cx="864.7" cy="960.9" r="3.0"/><circle cx="869.0" cy="960.9" r="3.0"/><circle cx="873.2" cy="960.9" r="3.0"/><circle cx="877.4" cy="960.8" r="3.0"/><circle cx="881.7" cy="960.8" r="3.0"/><circle cx="885.9" cy="960.8" r="3.0"/><circle cx="890.2" cy="960.7" r="3.0"/><circle cx="894.4" cy="960.7" r="3.0"/><circle cx="898.6" cy="960.7" r="3.0"/><circle cx="902.9" cy="960.6" r="3.0"/><circle cx="907.1" cy="960.6" r="3.0"/><circle cx="911.4" cy="960.5" r="3.0"/><circle cx="915.6" cy="960.5" r="3.0"/><circle cx="919.8" cy="960.5" r="3.0"/><circle cx="924.1" cy="960.4" r="3.0"/><circle cx="928.3" cy="960.4" r="3.0"/><circle cx="932.6" cy="960.3" r="3.0"/><circle cx="936.8" cy="960.3" r="3.0"/><circle cx="941.0" cy="960.2" r="3.0"/><circle cx="945.3" cy="960.2" r="3.0"/><circle cx="949.5" cy="960.1" r="3.0"/><circle cx="953.8" cy="960.1" r="3.0"/><circle cx="958.0" cy="960.1" r="3.0"/><circle cx="962.2" cy="960.0" r="3.0"/></g>
<g fill="#089808">
<circle cx="503.1" cy="960.0" r="3.75"/><circle cx="507.3" cy="959.9" r="3.75"/><circle cx="511.6" cy="959.8" r="3.75"/><circle cx="515.8" cy="959.7" r="3.75"/><circle cx="520.0" cy="959.6" r="3.75"/><circle cx="524.3" cy="959.4" r="3.75"/><circle cx="528.5" cy="959.3" r="3.75"/><circle cx="532.8" cy="959.2" r="3.75"/><circle cx="537.0" cy="959.1" r="3.75"/><circle cx="541.2" cy="959.0" r="3.75"/><circle cx="545.5" cy="958.9" r="3.75"/><circle cx="549.7" cy="958.8" r="3.75"/><circle cx="554.0" cy="958.7" r="3.75"/><circle cx="558.2" cy="958.6" r="3.75"/><circle cx="562.4" cy="958.4" r="3.75"/><circle cx="566.7" cy="958.3" r="3.75"/><circle cx="570.9" cy="958.2" r="3.75"/><circle cx="575.2" cy="958.1" r="3.75"/><circle cx="579.4" cy="957.9" r="3.75"/><circle cx="583.6" cy="957.8" r="3.75"/><circle cx="587.9" cy="957.6" r="3.75"/><circle cx="592.1" cy="957.4" r="3.75"/><circle cx="596.4" cy="957.2" r="3.75"/><circle cx="600.6" cy="957.0" r="3.75"/><circle cx="604.8" cy="956.7" r="3.75"/><circle cx="609.1" cy="956.5" r="3.75"/><circle cx="613.3" cy="956.3" r="3.75"/><circle cx="617.6" cy="956.1" r="3.75"/><circle cx="621.8" cy="955.9" r="3.75"/><circle cx="626.0" cy="955.6" r="3.75"/><circle cx="630.3" cy="955.2" r="3.75"/><circle cx="634.5" cy="954.7" r="3.75"/><circle cx="638.8" cy="954.2" r="3.75"/><circle cx="643.0" cy="953.5" r="3.75"/><circle cx="647.2" cy="952.7" r="3.75"/><circle cx="651.5" cy="951.6" r="3.75"/><circle cx="655.7" cy="950.4" r="3.75"/><circle cx="660.0" cy="948.9" r="3.75"/><circle cx="664.2" cy="947.1" r="3.75"/><circle cx="668.4" cy="945.0" r="3.75"/><circle cx="672.7" cy="942.4" r="3.75"/><circle cx="676.9" cy="939.1" r="3.75"/><circle cx="681.2" cy="935.2" r="3.75"/><circle cx="685.4" cy="930.7" r="3.75"/><circle cx="689.6" cy="924.6" r="3.75"/><circle cx="693.9" cy="917.0" r="3.75"/><circle cx="698.1" cy="910.8" r="3.75"/><circle cx="702.4" cy="906.0" r="3.75"/><circle cx="706.6" cy="901.9" r="3.75"/><circle cx="710.8" cy="898.3" r="3.75"/><circle cx="715.1" cy="895.6" r="3.75"/><circle cx="719.3" cy="895.6" r="3.75"/><circle cx="723.6" cy="898.4" r="3.75"/><circle cx="727.8" cy="902.5" r="3.75"/><circle cx="732.0" cy="908.1" r="3.75"/><circle cx="736.3" cy="914.5" r="3.75"/><circle cx="740.5" cy="920.3" r="3.75"/><circle cx="744.8" cy="925.9" r="3.75"/><circle cx="749.0" cy="931.1" r="3.75"/><circle cx="753.2" cy="936.3" r="3.75"/><circle cx="757.5" cy="940.9" r="3.75"/><circle cx="761.7" cy="944.5" r="3.75"/><circle cx="766.0" cy="947.4" r="3.75"/><circle cx="770.2" cy="949.7" r="3.75"/><circle cx="774.4" cy="951.6" r="3.75"/><circle cx="778.7" cy="953.1" r="3.75"/><circle cx="782.9" cy="954.3" r="3.75"/><circle cx="787.2" cy="955.2" r="3.75"/><circle cx="791.4" cy="955.8" r="3.75"/><circle cx="795.6" cy="956.3" r="3.75"/><circle cx="799.9" cy="956.7" r="3.75"/><circle cx="804.1" cy="956.9" r="3.75"/><circle cx="808.4" cy="957.1" r="3.75"/><circle cx="812.6" cy="957.3" r="3.75"/><circle cx="816.8" cy="957.4" r="3.75"/><circle cx="821.1" cy="957.5" r="3.75"/><circle cx="825.3" cy="957.7" r="3.75"/><circle cx="829.6" cy="957.8" r="3.75"/><circle cx="833.8" cy="957.9" r="3.75"/><circle cx="838.0" cy="958.0" r="3.75"/><circle cx="842.3" cy="958.1" r="3.75"/><circle cx="846.5" cy="958.1" r="3.75"/><circle cx="850.8" cy="958.2" r="3.75"/><circle cx="855.0" cy="958.3" r="3.75"/><circle cx="859.2" cy="958.3" r="3.75"/><circle cx="863.5" cy="958.4" r="3.75"/><circle cx="867.7" cy="958.4" r="3.75"/><circle cx="872.0" cy="958.5" r="3.75"/><circle cx="876.2" cy="958.5" r="3.75"/><circle cx="880.4" cy="958.5" r="3.75"/><circle cx="884.7" cy="958.5" r="3.75"/><circle cx="888.9" cy="958.5" r="3.75"/><circle cx="893.2" cy="958.5" r="3.75"/><circle cx="897.4" cy="958.4" r="3.75"/><circle cx="901.6" cy="958.4" r="3.75"/><circle cx="905.9" cy="958.3" r="3.75"/><circle cx="910.1" cy="958.2" r="3.75"/><circle cx="914.4" cy="958.1" r="3.75"/><circle cx="918.6" cy="958.0" r="3.75"/><circle cx="922.8" cy="957.9" r="3.75"/><circle cx="927.1" cy="957.8" r="3.75"/><circle cx="931.3" cy="957.7" r="3.75"/><circle cx="935.6" cy="957.6" r="3.75"/><circle cx="939.8" cy="957.4" r="3.75"/><circle cx="944.0" cy="957.3" r="3.75"/><circle cx="948.3" cy="957.1" r="3.75"/><circle cx="952.5" cy="957.0" r="3.75"/><circle cx="956.8" cy="956.8" r="3.75"/><circle cx="961.0" cy="956.7" r="3.75"/><circle cx="965.2" cy="956.5" r="3.75"/></g>
<rect x="497.5" y="613.2" width="473.6" height="357.19999999999993" fill="none" stroke="#000" stroke-width="1.5"/>
<path d="M497.5,960.0h12 M497.5,930.5h6 M497.5,901.1h12 M497.5,871.6h6 M497.5,842.2h12 M497.5,812.8h6 M497.5,783.3h12 M497.5,753.9h6 M497.5,724.4h12 M497.5,695.0h6 M497.5,665.5h12 M497.5,636.0h6 M502.1,970.4v-8.5 M516.1,970.4v-5.7 M530.2,970.4v-5.7 M544.2,970.4v-5.7 M558.3,970.4v-5.7 M572.3,970.4v-8.5 M586.3,970.4v-5.7 M600.4,970.4v-5.7 M614.4,970.4v-5.7 M628.5,970.4v-5.7 M642.5,970.4v-8.5 M656.5,970.4v-5.7 M670.6,970.4v-5.7 M684.6,970.4v-5.7 M698.7,970.4v-5.7 M712.7,970.4v-8.5 M726.7,970.4v-5.7 M740.8,970.4v-5.7 M754.8,970.4v-5.7 M768.9,970.4v-5.7 M782.9,970.4v-8.5 M796.9,970.4v-5.7 M811.0,970.4v-5.7 M825.0,970.4v-5.7 M839.1,970.4v-5.7 M853.1,970.4v-8.5 M867.1,970.4v-5.7 M881.2,970.4v-5.7 M895.2,970.4v-5.7 M909.3,970.4v-5.7 M923.3,970.4v-8.5 M937.3,970.4v-5.7 M951.4,970.4v-5.7 M965.4,970.4v-5.7" stroke="#000" stroke-width="1.4" fill="none"/>
<text x="490.5" y="965.9" font-family='"Liberation Sans", sans-serif' font-size="16.4" fill="#000" font-weight="normal" font-style="normal" text-anchor="end" >0</text>
<text x="490.5" y="907.0" font-family='"Liberation Sans", sans-serif' font-size="16.4" fill="#000" font-weight="normal" font-style="normal" text-anchor="end" >1</text>
<text x="490.5" y="848.1" font-family='"Liberation Sans", sans-serif' font-size="16.4" fill="#000" font-weight="normal" font-style="normal" text-anchor="end" >2</text>
<text x="490.5" y="789.2" font-family='"Liberation Sans", sans-serif' font-size="16.4" fill="#000" font-weight="normal" font-style="normal" text-anchor="end" >3</text>
<text x="490.5" y="730.3" font-family='"Liberation Sans", sans-serif' font-size="16.4" fill="#000" font-weight="normal" font-style="normal" text-anchor="end" >4</text>
<text x="490.5" y="671.4" font-family='"Liberation Sans", sans-serif' font-size="16.4" fill="#000" font-weight="normal" font-style="normal" text-anchor="end" >5</text>
<text x="500.1" y="992.6" font-family='"Liberation Sans", sans-serif' font-size="16.4" fill="#000" font-weight="normal" font-style="normal" text-anchor="middle" >-1</text>
<text x="642.5" y="992.6" font-family='"Liberation Sans", sans-serif' font-size="16.4" fill="#000" font-weight="normal" font-style="normal" text-anchor="middle" >0</text>
<text x="782.9" y="992.6" font-family='"Liberation Sans", sans-serif' font-size="16.4" fill="#000" font-weight="normal" font-style="normal" text-anchor="middle" >1</text>
<text x="923.3" y="992.6" font-family='"Liberation Sans", sans-serif' font-size="16.4" fill="#000" font-weight="normal" font-style="normal" text-anchor="middle" >2</text>
<text x="734.6" y="1011.8" font-family='"Liberation Sans", sans-serif' font-size="16.4" fill="#000" font-weight="normal" font-style="normal" text-anchor="middle" >Time delay (ps)</text>
<text transform="translate(468.9,790.6) rotate(-90)" font-family='"Liberation Sans", sans-serif' font-size="16.4" text-anchor="middle">TFISH int. (a.u.)</text>
<text x="547.0" y="658.1" font-family='"Liberation Sans", sans-serif' font-size="16.4" fill="#9b0038" font-weight="normal" font-style="normal" text-anchor="start" >Skyrmion</text>
<text x="546.9" y="815.7" font-family='"Liberation Sans", sans-serif' font-size="16.4" fill="#0628a0">PbTiO<tspan font-size="11.5" dy="4">3</tspan></text>
<text x="545.3" y="925.0" font-family='"Liberation Sans", sans-serif' font-size="16.4" fill="#089808">SrTiO<tspan font-size="11.5" dy="4">3</tspan></text>
<text x="839.0" y="853.2" font-family='"Liberation Sans", sans-serif' font-size="16.4" fill="#1a1aa8" font-weight="normal" font-style="normal" text-anchor="start" >×0.3</text>
<path d="M813.4,639.7h30.1 M813.4,664.7h30.1" stroke="#000" stroke-width="1.5"/>
<circle cx="828.5" cy="639.7" r="5.4" fill="#000"/><circle cx="828.5" cy="664.7" r="5.0" fill="#fff" stroke="#000" stroke-width="1.2"/>
<text x="850.5" y="645.4" font-family='"Liberation Sans", sans-serif' font-size="19"><tspan font-style="italic">p</tspan>-in, <tspan font-style="italic">p</tspan>-out</text>
<text x="850.5" y="670.4" font-family='"Liberation Sans", sans-serif' font-size="19"><tspan font-style="italic">s</tspan>-in, <tspan font-style="italic">p</tspan>-out</text>
<path d="M83.2,780.4h91 M83.2,987.2h91" stroke="#000" stroke-width="1.8" stroke-dasharray="5.4 2.4"/>
<path d="M208.5,780.4h91 M208.5,987.2h91" stroke="#000" stroke-width="1.8" stroke-dasharray="5.4 2.4"/>
<path d="M326.5,809.7h91 M326.5,987.2h91" stroke="#000" stroke-width="1.8" stroke-dasharray="5.4 2.4"/>
<path d="M113.6,898.8 L121.5,912.8 L116.1,912.8 L116.1,987.2 L111.1,987.2 L111.1,912.8 L105.7,912.8Z" fill="#9b0038"/>
<path d="M113.6,811.2 L121.5,824.8 L116.1,824.8 L116.1,898.8 L111.1,898.8 L111.1,824.8 L105.7,824.8Z" fill="#9b0038"/>
<path d="M113.6,780.4 L121.5,794.2 L116.1,794.2 L116.1,809.9 L111.1,809.9 L111.1,794.2 L105.7,794.2Z" fill="#8b3f10"/>
<path d="M142.0,780.4 L146.8,780.4 L146.8,972.8 L152.3,972.8 L144.4,987.2 L136.5,972.8 L142.0,972.8Z" fill="#7030a0"/>
<path d="M238.4,898.8 L246.3,912.8 L240.9,912.8 L240.9,987.2 L235.9,987.2 L235.9,912.8 L230.5,912.8Z" fill="#9b0038"/>
<path d="M238.4,811.2 L246.3,824.8 L240.9,824.8 L240.9,898.8 L235.9,898.8 L235.9,824.8 L230.5,824.8Z" fill="#9b0038"/>
<path d="M238.4,780.4 L246.3,794.2 L240.9,794.2 L240.9,809.9 L235.9,809.9 L235.9,794.2 L230.5,794.2Z" fill="#000"/>
<path d="M266.5,780.4 L271.3,780.4 L271.3,972.8 L276.8,972.8 L268.9,987.2 L261.0,972.8 L266.5,972.8Z" fill="#7030a0"/>
<path d="M357.0,898.8 L364.9,912.8 L359.5,912.8 L359.5,987.2 L354.5,987.2 L354.5,912.8 L349.1,912.8Z" fill="#9b0038"/>
<path d="M357.0,809.7 L364.9,823.7 L359.5,823.7 L359.5,898.8 L354.5,898.8 L354.5,823.7 L349.1,823.7Z" fill="#9b0038"/>
<path d="M385.2,809.7 L390.0,809.7 L390.0,972.8 L395.5,972.8 L387.6,987.2 L379.7,972.8 L385.2,972.8Z" fill="#7030a0"/>
<text x="84.0" y="866.3" font-family='"Liberation Serif", serif' font-size="17" font-style="italic">ω</text>
<text x="84.0" y="952.0" font-family='"Liberation Serif", serif' font-size="17" font-style="italic">ω</text>
<text x="202.0" y="866.3" font-family='"Liberation Serif", serif' font-size="17" font-style="italic">ω</text>
<text x="202.0" y="952.0" font-family='"Liberation Serif", serif' font-size="17" font-style="italic">ω</text>
<text x="326.0" y="866.3" font-family='"Liberation Serif", serif' font-size="17" font-style="italic">ω</text>
<text x="326.0" y="952.0" font-family='"Liberation Serif", serif' font-size="17" font-style="italic">ω</text>
<text x="151" y="888.1" font-family='"Liberation Serif", serif' font-size="16.4" textLength="36" lengthAdjust="spacingAndGlyphs">≈ 2<tspan font-style="italic">ω</tspan></text>
<text x="276" y="888.1" font-family='"Liberation Serif", serif' font-size="16.4" textLength="36" lengthAdjust="spacingAndGlyphs">≈ 2<tspan font-style="italic">ω</tspan></text>
<text x="394" y="888.1" font-family='"Liberation Serif", serif' font-size="16.4" textLength="36" lengthAdjust="spacingAndGlyphs">= 2<tspan font-style="italic">ω</tspan></text>
<text x="72.4" y="801.9" font-family='"Liberation Serif", serif' font-size="17" font-style="italic">ω</text>
<text x="85.0" y="804.8" font-family='"Liberation Serif", serif' font-size="11.5" font-style="italic" textLength="22.4" lengthAdjust="spacingAndGlyphs">THz</text>
<text x="176.3" y="801.9" font-family='"Liberation Serif", serif' font-size="17" font-style="italic">ω</text>
<text x="189.0" y="804.8" font-family='"Liberation Serif", serif' font-size="11.5" font-style="italic" textLength="44" lengthAdjust="spacingAndGlyphs">phonon</text>
<text x="124.8" y="1013.0" font-family='"Liberation Sans", sans-serif' font-size="18.6" fill="#000" font-weight="bold" font-style="italic" text-anchor="middle" >FWM</text>
<text x="253.5" y="1013.0" font-family='"Liberation Sans", sans-serif' font-size="18.6" fill="#000" font-weight="bold" font-style="italic" text-anchor="middle" >HRS</text>
<text x="372.6" y="1013.0" font-family='"Liberation Sans", sans-serif' font-size="18.6" fill="#000" font-weight="bold" font-style="italic" text-anchor="middle" >SHG</text>
<g fill="none" stroke="#999" stroke-width="1.3"><circle cx="1130.4" cy="682.9" r="23.25"/><circle cx="1130.4" cy="682.9" r="46.5"/><circle cx="1130.4" cy="682.9" r="69.75"/><path d="M1037.4,682.9H1223.4 M1130.4,589.9V775.9"/></g>
<path d="M1130.4,682.9 L1130.4,682.9 L1130.4,682.9 L1130.4,682.9 L1130.4,682.9 L1130.4,682.9 L1130.4,682.9 L1130.4,682.9 L1130.4,682.9 L1130.4,682.9 L1130.5,682.9 L1130.6,683.0 L1130.8,683.0 L1131.2,683.1 L1131.8,683.2 L1132.9,683.3 L1134.6,683.3 L1137.0,683.1 L1140.2,682.7 L1144.5,681.9 L1149.7,680.5 L1155.9,678.4 L1162.7,675.4 L1170.0,671.5 L1177.3,666.7 L1184.2,661.2 L1190.0,655.1 L1194.4,648.9 L1196.9,642.9 L1197.5,637.7 L1195.9,633.6 L1192.4,630.9 L1187.2,630.0 L1180.7,630.8 L1173.5,633.3 L1166.1,637.2 L1158.9,642.2 L1152.3,647.9 L1146.5,653.9 L1141.7,659.7 L1138.0,665.0 L1135.2,669.6 L1133.3,673.5 L1132.0,676.5 L1131.2,678.8 L1130.8,680.4 L1130.5,681.4 L1130.4,682.1 L1130.4,682.5 L1130.4,682.7 L1130.4,682.8 L1130.4,682.9 L1130.4,682.9 L1130.4,682.9 L1130.4,682.9 L1130.4,682.9 L1130.4,682.9 L1130.4,682.9 L1130.4,682.9 L1130.4,682.9 L1130.4,682.9Z M1130.4,682.9 L1130.4,682.9 L1130.4,682.9 L1130.4,682.9 L1130.4,682.9 L1130.4,682.9 L1130.4,682.9 L1130.4,682.9 L1130.4,682.9 L1130.4,682.9 L1130.4,682.8 L1130.4,682.7 L1130.4,682.5 L1130.3,682.1 L1130.2,681.5 L1130.0,680.4 L1129.5,678.9 L1128.6,676.7 L1127.3,673.8 L1125.2,670.1 L1122.3,665.6 L1118.5,660.5 L1113.6,655.0 L1107.8,649.3 L1101.1,644.0 L1093.8,639.3 L1086.4,635.7 L1079.2,633.5 L1072.9,632.9 L1067.8,634.0 L1064.5,636.7 L1063.1,640.8 L1063.8,646.0 L1066.5,651.7 L1071.0,657.7 L1076.9,663.4 L1083.8,668.7 L1091.1,673.1 L1098.4,676.7 L1105.3,679.4 L1111.4,681.2 L1116.6,682.4 L1120.7,683.1 L1123.9,683.4 L1126.3,683.4 L1127.9,683.3 L1129.0,683.2 L1129.6,683.1 L1130.0,683.0 L1130.2,683.0 L1130.3,682.9 L1130.4,682.9 L1130.4,682.9 L1130.4,682.9 L1130.4,682.9 L1130.4,682.9 L1130.4,682.9 L1130.4,682.9 L1130.4,682.9 L1130.4,682.9 L1130.4,682.9Z M1130.4,682.9 L1130.4,682.9 L1130.4,682.9 L1130.4,682.9 L1130.4,682.9 L1130.4,682.9 L1130.4,682.9 L1130.4,682.9 L1130.4,682.9 L1130.4,682.9 L1130.3,682.9 L1130.2,682.8 L1130.0,682.8 L1129.6,682.7 L1129.0,682.6 L1127.9,682.5 L1126.3,682.5 L1124.0,682.6 L1120.8,682.9 L1116.6,683.6 L1111.5,684.9 L1105.5,686.8 L1098.7,689.6 L1091.5,693.3 L1084.3,697.9 L1077.6,703.2 L1071.8,709.0 L1067.4,715.0 L1064.8,720.8 L1064.2,725.9 L1065.7,729.9 L1069.1,732.6 L1074.1,733.6 L1080.4,732.9 L1087.5,730.6 L1094.8,726.9 L1101.9,722.1 L1108.5,716.6 L1114.2,710.9 L1118.9,705.4 L1122.7,700.2 L1125.5,695.8 L1127.4,692.0 L1128.7,689.1 L1129.5,686.9 L1130.0,685.4 L1130.2,684.3 L1130.4,683.7 L1130.4,683.3 L1130.4,683.1 L1130.4,683.0 L1130.4,682.9 L1130.4,682.9 L1130.4,682.9 L1130.4,682.9 L1130.4,682.9 L1130.4,682.9 L1130.4,682.9 L1130.4,682.9 L1130.4,682.9 L1130.4,682.9Z M1130.4,682.9 L1130.4,682.9 L1130.4,682.9 L1130.4,682.9 L1130.4,682.9 L1130.4,682.9 L1130.4,682.9 L1130.4,682.9 L1130.4,682.9 L1130.4,682.9 L1130.4,683.0 L1130.4,683.1 L1130.4,683.3 L1130.5,683.7 L1130.6,684.3 L1130.8,685.3 L1131.3,686.9 L1132.1,689.0 L1133.5,691.9 L1135.5,695.5 L1138.3,699.9 L1142.1,704.9 L1146.9,710.3 L1152.6,715.8 L1159.2,721.1 L1166.3,725.7 L1173.6,729.2 L1180.6,731.4 L1186.8,732.0 L1191.8,730.9 L1195.1,728.2 L1196.5,724.2 L1195.8,719.2 L1193.1,713.5 L1188.7,707.6 L1182.9,702.0 L1176.1,696.9 L1169.0,692.5 L1161.8,689.0 L1155.1,686.4 L1149.1,684.5 L1144.0,683.4 L1139.9,682.7 L1136.7,682.5 L1134.4,682.4 L1132.8,682.5 L1131.8,682.6 L1131.1,682.7 L1130.8,682.8 L1130.6,682.8 L1130.5,682.9 L1130.4,682.9 L1130.4,682.9 L1130.4,682.9 L1130.4,682.9 L1130.4,682.9 L1130.4,682.9 L1130.4,682.9 L1130.4,682.9 L1130.4,682.9 L1130.4,682.9Z" fill="#e2729f" fill-opacity="0.9"/>
<path d="M1130.4,682.9 L1131.6,682.9 L1132.8,682.8 L1134.0,682.7 L1135.2,682.6 L1136.4,682.4 L1137.7,682.1 L1139.1,681.8 L1140.5,681.5 L1141.8,681.1 L1143.1,680.7 L1144.9,680.1 L1147.9,679.2 L1150.8,678.2 L1153.6,677.1 L1156.5,675.9 L1159.3,674.6 L1162.0,673.2 L1166.1,671.3 L1170.6,669.1 L1175.0,666.7 L1179.4,664.1 L1183.0,661.7 L1185.8,659.4 L1188.5,657.0 L1191.2,654.6 L1193.8,652.0 L1195.0,650.0 L1195.8,648.1 L1196.6,646.2 L1197.3,644.3 L1198.0,642.3 L1198.7,640.2 L1198.6,638.6 L1198.5,637.0 L1198.4,635.3 L1198.2,633.6 L1197.7,632.2 L1196.9,630.9 L1196.0,629.8 L1195.1,628.6 L1193.6,628.0 L1192.0,627.4 L1190.4,626.9 L1188.4,626.9 L1186.3,627.0 L1184.3,627.1 L1182.3,627.2 L1180.3,627.4 L1178.4,627.7 L1176.5,628.0 L1174.5,628.4 L1172.6,628.8 L1170.8,629.3 L1168.9,629.8 L1167.1,630.4 L1165.4,631.1 L1163.6,631.7 L1162.1,632.1 L1160.8,632.3 L1159.5,632.5 L1158.2,632.7 L1156.9,633.0 L1156.0,632.7 L1155.0,632.5 L1154.0,632.2 L1153.1,632.0 L1152.3,631.2 L1151.7,630.3 L1150.9,629.4 L1150.2,628.5 L1149.4,627.6 L1148.8,626.2 L1148.1,624.9 L1147.4,623.5 L1146.7,622.2 L1145.9,620.9 L1145.0,619.5 L1144.2,618.1 L1143.3,616.8 L1142.3,615.4 L1141.3,614.1 L1140.3,612.8 L1139.2,611.5 L1138.0,610.2 L1136.8,609.7 L1135.5,609.3 L1134.3,609.0 L1133.0,608.7 L1131.7,608.5 L1130.4,608.2 L1129.1,608.5 L1127.8,608.7 L1126.5,609.0 L1125.3,609.3 L1124.0,609.7 L1122.8,610.2 L1121.6,611.5 L1120.5,612.8 L1119.5,614.1 L1118.5,615.4 L1117.5,616.8 L1116.6,618.1 L1115.8,619.5 L1114.9,620.9 L1114.1,622.2 L1113.4,623.5 L1112.7,624.9 L1112.0,626.2 L1111.4,627.6 L1110.6,628.5 L1109.9,629.4 L1109.1,630.3 L1108.5,631.2 L1107.7,632.0 L1106.8,632.2 L1105.8,632.5 L1104.8,632.7 L1103.9,633.0 L1102.6,632.7 L1101.3,632.5 L1100.0,632.3 L1098.7,632.1 L1097.2,631.7 L1095.4,631.1 L1093.7,630.4 L1091.9,629.8 L1090.0,629.3 L1088.2,628.8 L1086.3,628.4 L1084.3,628.0 L1082.4,627.7 L1080.5,627.4 L1078.5,627.2 L1076.5,627.1 L1074.5,627.0 L1072.4,626.9 L1070.4,626.9 L1068.8,627.4 L1067.2,628.0 L1065.7,628.6 L1064.8,629.8 L1063.9,630.9 L1063.1,632.2 L1062.6,633.6 L1062.4,635.3 L1062.3,637.0 L1062.2,638.6 L1062.1,640.2 L1062.8,642.3 L1063.5,644.3 L1064.2,646.2 L1065.0,648.1 L1065.8,650.0 L1067.0,652.0 L1069.6,654.6 L1072.3,657.0 L1075.0,659.4 L1077.8,661.7 L1081.4,664.1 L1085.8,666.7 L1090.2,669.1 L1094.7,671.3 L1098.8,673.2 L1101.5,674.6 L1104.3,675.9 L1107.2,677.1 L1110.0,678.2 L1112.9,679.2 L1115.9,680.1 L1117.7,680.7 L1119.0,681.1 L1120.3,681.5 L1121.7,681.8 L1123.1,682.1 L1124.4,682.4 L1125.6,682.6 L1126.8,682.7 L1128.0,682.8 L1129.2,682.9 L1130.4,682.9 L1129.2,682.9 L1128.0,683.0 L1126.8,683.1 L1125.6,683.2 L1124.4,683.4 L1123.1,683.7 L1121.7,684.0 L1120.3,684.3 L1119.0,684.7 L1117.7,685.1 L1115.9,685.7 L1112.9,686.6 L1110.0,687.6 L1107.2,688.7 L1104.3,689.9 L1101.5,691.2 L1098.8,692.6 L1094.7,694.5 L1090.2,696.7 L1085.8,699.1 L1081.4,701.7 L1077.8,704.1 L1075.0,706.4 L1072.3,708.8 L1069.6,711.2 L1067.0,713.8 L1065.8,715.8 L1065.0,717.7 L1064.2,719.6 L1063.5,721.5 L1062.8,723.5 L1062.1,725.6 L1062.2,727.2 L1062.3,728.8 L1062.4,730.5 L1062.6,732.2 L1063.1,733.6 L1063.9,734.9 L1064.8,736.0 L1065.7,737.2 L1067.2,737.8 L1068.8,738.4 L1070.4,738.9 L1072.4,738.9 L1074.5,738.8 L1076.5,738.7 L1078.5,738.6 L1080.5,738.4 L1082.4,738.1 L1084.3,737.8 L1086.3,737.4 L1088.2,737.0 L1090.0,736.5 L1091.9,736.0 L1093.7,735.4 L1095.4,734.7 L1097.2,734.1 L1098.7,733.7 L1100.0,733.5 L1101.3,733.3 L1102.6,733.1 L1103.9,732.8 L1104.8,733.1 L1105.8,733.3 L1106.8,733.6 L1107.7,733.8 L1108.5,734.6 L1109.1,735.5 L1109.9,736.4 L1110.6,737.3 L1111.4,738.2 L1112.0,739.6 L1112.7,740.9 L1113.4,742.3 L1114.1,743.6 L1114.9,744.9 L1115.8,746.3 L1116.6,747.7 L1117.5,749.0 L1118.5,750.4 L1119.5,751.7 L1120.5,753.0 L1121.6,754.3 L1122.8,755.6 L1124.0,756.1 L1125.3,756.5 L1126.5,756.8 L1127.8,757.1 L1129.1,757.3 L1130.4,757.6 L1131.7,757.3 L1133.0,757.1 L1134.3,756.8 L1135.5,756.5 L1136.8,756.1 L1138.0,755.6 L1139.2,754.3 L1140.3,753.0 L1141.3,751.7 L1142.3,750.4 L1143.3,749.0 L1144.2,747.7 L1145.0,746.3 L1145.9,744.9 L1146.7,743.6 L1147.4,742.3 L1148.1,740.9 L1148.8,739.6 L1149.4,738.2 L1150.2,737.3 L1150.9,736.4 L1151.7,735.5 L1152.3,734.6 L1153.1,733.8 L1154.0,733.6 L1155.0,733.3 L1156.0,733.1 L1156.9,732.8 L1158.2,733.1 L1159.5,733.3 L1160.8,733.5 L1162.1,733.7 L1163.6,734.1 L1165.4,734.7 L1167.1,735.4 L1168.9,736.0 L1170.8,736.5 L1172.6,737.0 L1174.5,737.4 L1176.5,737.8 L1178.4,738.1 L1180.3,738.4 L1182.3,738.6 L1184.3,738.7 L1186.3,738.8 L1188.4,738.9 L1190.4,738.9 L1192.0,738.4 L1193.6,737.8 L1195.1,737.2 L1196.0,736.0 L1196.9,734.9 L1197.7,733.6 L1198.2,732.2 L1198.4,730.5 L1198.5,728.8 L1198.6,727.2 L1198.7,725.6 L1198.0,723.5 L1197.3,721.5 L1196.6,719.6 L1195.8,717.7 L1195.0,715.8 L1193.8,713.8 L1191.2,711.2 L1188.5,708.8 L1185.8,706.4 L1183.0,704.1 L1179.4,701.7 L1175.0,699.1 L1170.6,696.7 L1166.1,694.5 L1162.0,692.6 L1159.3,691.2 L1156.5,689.9 L1153.6,688.7 L1150.8,687.6 L1147.9,686.6 L1144.9,685.7 L1143.1,685.1 L1141.8,684.7 L1140.5,684.3 L1139.1,684.0 L1137.7,683.7 L1136.4,683.4 L1135.2,683.2 L1134.0,683.1 L1132.8,683.0 L1131.6,682.9 L1130.4,682.9Z" fill="none" stroke="#9b0038" stroke-width="2.6" stroke-linejoin="round"/>
<g fill="none" stroke="#b0245a" stroke-width="1.0"><circle cx="1130.4" cy="682.9" r="2.3"/><circle cx="1136.4" cy="682.4" r="2.3"/><circle cx="1143.1" cy="680.6" r="2.3"/><circle cx="1155.7" cy="676.1" r="2.3"/><circle cx="1175.0" cy="666.1" r="2.3"/><circle cx="1189.6" cy="655.8" r="2.3"/><circle cx="1197.6" cy="643.1" r="2.3"/><circle cx="1201.6" cy="634.7" r="2.3"/><circle cx="1198.6" cy="623.7" r="2.3"/><circle cx="1190.2" cy="622.6" r="2.3"/><circle cx="1179.6" cy="626.2" r="2.3"/><circle cx="1170.2" cy="627.9" r="2.3"/><circle cx="1161.1" cy="630.8" r="2.3"/><circle cx="1154.4" cy="631.7" r="2.3"/><circle cx="1150.1" cy="626.6" r="2.3"/><circle cx="1146.0" cy="623.4" r="2.3"/><circle cx="1141.8" cy="616.1" r="2.3"/><circle cx="1137.3" cy="610.4" r="2.3"/><circle cx="1129.1" cy="606.1" r="2.3"/><circle cx="1123.6" cy="610.8" r="2.3"/><circle cx="1119.7" cy="618.5" r="2.3"/><circle cx="1116.2" cy="626.4" r="2.3"/><circle cx="1111.8" cy="631.2" r="2.3"/><circle cx="1107.7" cy="633.6" r="2.3"/><circle cx="1100.9" cy="633.1" r="2.3"/><circle cx="1096.6" cy="633.6" r="2.3"/><circle cx="1085.8" cy="629.6" r="2.3"/><circle cx="1075.0" cy="627.1" r="2.3"/><circle cx="1068.5" cy="631.4" r="2.3"/><circle cx="1064.9" cy="636.3" r="2.3"/><circle cx="1068.2" cy="646.5" r="2.3"/><circle cx="1067.9" cy="654.5" r="2.3"/><circle cx="1086.8" cy="666.6" r="2.3"/><circle cx="1106.9" cy="676.2" r="2.3"/><circle cx="1117.7" cy="680.5" r="2.3"/><circle cx="1124.4" cy="682.4" r="2.3"/><circle cx="1130.4" cy="682.9" r="2.3"/><circle cx="1124.4" cy="683.5" r="2.3"/><circle cx="1117.7" cy="685.1" r="2.3"/><circle cx="1107.7" cy="688.8" r="2.3"/><circle cx="1085.7" cy="699.7" r="2.3"/><circle cx="1070.8" cy="711.7" r="2.3"/><circle cx="1061.5" cy="722.3" r="2.3"/><circle cx="1058.9" cy="733.5" r="2.3"/><circle cx="1064.8" cy="739.9" r="2.3"/><circle cx="1072.9" cy="739.5" r="2.3"/><circle cx="1081.5" cy="740.5" r="2.3"/><circle cx="1091.2" cy="737.2" r="2.3"/><circle cx="1100.8" cy="734.5" r="2.3"/><circle cx="1106.5" cy="734.7" r="2.3"/><circle cx="1109.9" cy="738.8" r="2.3"/><circle cx="1113.9" cy="744.4" r="2.3"/><circle cx="1119.2" cy="751.4" r="2.3"/><circle cx="1123.2" cy="755.0" r="2.3"/><circle cx="1131.2" cy="759.0" r="2.3"/><circle cx="1135.7" cy="751.8" r="2.3"/><circle cx="1142.8" cy="747.2" r="2.3"/><circle cx="1146.3" cy="738.6" r="2.3"/><circle cx="1149.5" cy="734.8" r="2.3"/><circle cx="1151.9" cy="730.6" r="2.3"/><circle cx="1157.2" cy="727.6" r="2.3"/><circle cx="1163.7" cy="729.8" r="2.3"/><circle cx="1172.7" cy="732.1" r="2.3"/><circle cx="1182.3" cy="735.6" r="2.3"/><circle cx="1190.7" cy="732.7" r="2.3"/><circle cx="1191.8" cy="726.7" r="2.3"/><circle cx="1192.7" cy="717.9" r="2.3"/><circle cx="1190.5" cy="711.5" r="2.3"/><circle cx="1176.5" cy="700.2" r="2.3"/><circle cx="1155.1" cy="689.7" r="2.3"/><circle cx="1143.1" cy="685.3" r="2.3"/><circle cx="1136.4" cy="683.5" r="2.3"/></g>
<circle cx="1130.4" cy="682.9" r="93.0" fill="none" stroke="#222" stroke-width="1.3"/>
<path d="M1196.2,617.1L1193.0,620.3 M1064.6,617.1L1067.8,620.3 M1064.6,748.7L1067.8,745.5 M1196.2,748.7L1193.0,745.5" stroke="#000" stroke-width="1.5"/>
<path d="M1214.2,620.2 A104.6,104.6 0 0 0 1190.4,597.2" fill="none" stroke="#000" stroke-width="2"/>
<path d="M1186.1,594.4 L1197.7,595.8 L1192.4,604.2Z" fill="#000"/>
<text x="1130.4" y="581.2" font-family='"Liberation Sans", sans-serif' font-size="16" fill="#000" font-weight="normal" font-style="normal" text-anchor="middle" >0</text>
<text x="1028.2" y="687.8" font-family='"Liberation Sans", sans-serif' font-size="16" fill="#000" font-weight="normal" font-style="normal" text-anchor="end" >90</text>
<text x="1227.0" y="687.8" font-family='"Liberation Sans", sans-serif' font-size="16" fill="#000" font-weight="normal" font-style="normal" text-anchor="start" >270</text>
<text x="1130.8" y="793.6" font-family='"Liberation Sans", sans-serif' font-size="16" fill="#000" font-weight="normal" font-style="normal" text-anchor="middle" >180</text>
<text x="1203.3" y="598.0" font-family='"Liberation Sans", sans-serif' font-size="17" font-style="italic">α = φ</text>
<g fill="none" stroke="#999" stroke-width="1.3"><circle cx="1131.0" cy="916.7" r="23.25"/><circle cx="1131.0" cy="916.7" r="46.5"/><circle cx="1131.0" cy="916.7" r="69.75"/><path d="M1038.0,916.7H1224.0 M1131.0,823.7V1009.7"/></g>
<g fill="none" stroke="#33b033" stroke-width="1"><circle cx="1131.1" cy="868.8" r="2.0"/><circle cx="1134.2" cy="866.8" r="2.0"/><circle cx="1138.5" cy="869.0" r="2.0"/><circle cx="1141.1" cy="870.8" r="2.0"/><circle cx="1142.6" cy="874.1" r="2.0"/><circle cx="1145.7" cy="874.1" r="2.0"/><circle cx="1148.4" cy="878.4" r="2.0"/><circle cx="1148.9" cy="881.7" r="2.0"/><circle cx="1150.0" cy="886.2" r="2.0"/><circle cx="1150.7" cy="889.2" r="2.0"/><circle cx="1149.7" cy="893.7" r="2.0"/><circle cx="1149.3" cy="898.0" r="2.0"/><circle cx="1147.6" cy="902.0" r="2.0"/><circle cx="1146.4" cy="905.0" r="2.0"/><circle cx="1144.3" cy="907.6" r="2.0"/><circle cx="1142.2" cy="910.5" r="2.0"/><circle cx="1140.3" cy="912.1" r="2.0"/><circle cx="1137.2" cy="914.3" r="2.0"/><circle cx="1135.0" cy="915.4" r="2.0"/><circle cx="1134.0" cy="916.0" r="2.0"/><circle cx="1133.1" cy="916.3" r="2.0"/><circle cx="1132.5" cy="916.6" r="2.0"/><circle cx="1130.7" cy="916.7" r="2.0"/><circle cx="1131.3" cy="916.7" r="2.0"/><circle cx="1132.5" cy="916.9" r="2.0"/><circle cx="1133.0" cy="917.0" r="2.0"/><circle cx="1133.7" cy="917.3" r="2.0"/><circle cx="1134.7" cy="917.9" r="2.0"/><circle cx="1137.6" cy="919.4" r="2.0"/><circle cx="1140.7" cy="921.5" r="2.0"/><circle cx="1140.1" cy="921.8" r="2.0"/><circle cx="1143.9" cy="925.3" r="2.0"/><circle cx="1144.6" cy="927.1" r="2.0"/><circle cx="1148.0" cy="932.4" r="2.0"/><circle cx="1149.4" cy="935.7" r="2.0"/><circle cx="1149.7" cy="938.8" r="2.0"/><circle cx="1149.7" cy="941.9" r="2.0"/><circle cx="1150.2" cy="948.2" r="2.0"/><circle cx="1148.6" cy="950.8" r="2.0"/><circle cx="1147.3" cy="953.7" r="2.0"/><circle cx="1146.2" cy="956.8" r="2.0"/><circle cx="1143.3" cy="961.7" r="2.0"/><circle cx="1140.7" cy="964.1" r="2.0"/><circle cx="1137.9" cy="963.1" r="2.0"/><circle cx="1134.4" cy="964.7" r="2.0"/><circle cx="1131.5" cy="965.4" r="2.0"/><circle cx="1127.4" cy="965.3" r="2.0"/><circle cx="1124.5" cy="965.4" r="2.0"/><circle cx="1120.6" cy="961.9" r="2.0"/><circle cx="1119.4" cy="959.4" r="2.0"/><circle cx="1116.3" cy="955.5" r="2.0"/><circle cx="1114.1" cy="953.9" r="2.0"/><circle cx="1112.8" cy="951.6" r="2.0"/><circle cx="1113.0" cy="946.6" r="2.0"/><circle cx="1113.0" cy="941.6" r="2.0"/><circle cx="1113.1" cy="937.5" r="2.0"/><circle cx="1114.1" cy="934.6" r="2.0"/><circle cx="1114.9" cy="931.1" r="2.0"/><circle cx="1116.1" cy="928.2" r="2.0"/><circle cx="1117.5" cy="925.6" r="2.0"/><circle cx="1121.4" cy="922.2" r="2.0"/><circle cx="1123.4" cy="920.4" r="2.0"/><circle cx="1124.2" cy="919.6" r="2.0"/><circle cx="1127.7" cy="917.8" r="2.0"/><circle cx="1128.5" cy="917.3" r="2.0"/><circle cx="1129.6" cy="916.9" r="2.0"/><circle cx="1129.7" cy="916.8" r="2.0"/><circle cx="1130.1" cy="916.7" r="2.0"/><circle cx="1132.1" cy="916.8" r="2.0"/><circle cx="1129.6" cy="916.5" r="2.0"/><circle cx="1129.9" cy="916.5" r="2.0"/><circle cx="1126.9" cy="915.7" r="2.0"/><circle cx="1126.5" cy="915.2" r="2.0"/><circle cx="1123.4" cy="913.5" r="2.0"/><circle cx="1122.2" cy="912.2" r="2.0"/><circle cx="1121.0" cy="910.9" r="2.0"/><circle cx="1117.3" cy="907.3" r="2.0"/><circle cx="1115.7" cy="904.6" r="2.0"/><circle cx="1114.0" cy="901.7" r="2.0"/><circle cx="1112.2" cy="896.5" r="2.0"/><circle cx="1111.9" cy="893.9" r="2.0"/><circle cx="1111.4" cy="890.1" r="2.0"/><circle cx="1112.7" cy="886.5" r="2.0"/><circle cx="1113.0" cy="883.9" r="2.0"/><circle cx="1114.1" cy="878.5" r="2.0"/><circle cx="1116.7" cy="877.4" r="2.0"/><circle cx="1119.3" cy="874.0" r="2.0"/><circle cx="1121.9" cy="871.5" r="2.0"/><circle cx="1123.9" cy="868.4" r="2.0"/><circle cx="1127.1" cy="869.2" r="2.0"/></g>
<path d="M1131.0,867.7 L1132.7,867.8 L1134.4,868.1 L1136.1,868.5 L1137.7,869.1 L1139.3,869.9 L1140.7,870.8 L1142.2,871.9 L1143.5,873.2 L1144.7,874.5 L1145.8,876.0 L1146.8,877.6 L1147.6,879.3 L1148.4,881.1 L1148.9,883.0 L1149.4,884.9 L1149.7,886.8 L1149.8,888.8 L1149.9,890.8 L1149.7,892.7 L1149.5,894.7 L1149.1,896.6 L1148.6,898.5 L1148.0,900.3 L1147.3,902.0 L1146.5,903.7 L1145.6,905.3 L1144.7,906.7 L1143.7,908.1 L1142.7,909.4 L1141.6,910.6 L1140.5,911.6 L1139.5,912.6 L1138.4,913.4 L1137.4,914.1 L1136.4,914.7 L1135.5,915.3 L1134.6,915.7 L1133.8,916.0 L1133.1,916.3 L1132.5,916.4 L1131.9,916.6 L1131.5,916.6 L1131.2,916.7 L1131.1,916.7 L1131.0,916.7 L1131.1,916.7 L1131.2,916.7 L1131.5,916.8 L1131.9,916.8 L1132.5,917.0 L1133.1,917.1 L1133.8,917.4 L1134.6,917.7 L1135.5,918.1 L1136.4,918.7 L1137.4,919.3 L1138.4,920.0 L1139.5,920.8 L1140.5,921.8 L1141.6,922.8 L1142.7,924.0 L1143.7,925.3 L1144.7,926.7 L1145.6,928.1 L1146.5,929.7 L1147.3,931.4 L1148.0,933.1 L1148.6,934.9 L1149.1,936.8 L1149.5,938.7 L1149.7,940.7 L1149.9,942.6 L1149.8,944.6 L1149.7,946.6 L1149.4,948.5 L1148.9,950.4 L1148.4,952.3 L1147.6,954.1 L1146.8,955.8 L1145.8,957.4 L1144.7,958.9 L1143.5,960.2 L1142.2,961.5 L1140.7,962.6 L1139.3,963.5 L1137.7,964.3 L1136.1,964.9 L1134.4,965.3 L1132.7,965.6 L1131.0,965.7 L1129.3,965.6 L1127.6,965.3 L1125.9,964.9 L1124.3,964.3 L1122.7,963.5 L1121.3,962.6 L1119.8,961.5 L1118.5,960.2 L1117.3,958.9 L1116.2,957.4 L1115.2,955.8 L1114.4,954.1 L1113.6,952.3 L1113.1,950.4 L1112.6,948.5 L1112.3,946.6 L1112.2,944.6 L1112.1,942.6 L1112.3,940.7 L1112.5,938.7 L1112.9,936.8 L1113.4,934.9 L1114.0,933.1 L1114.7,931.4 L1115.5,929.7 L1116.4,928.1 L1117.3,926.7 L1118.3,925.3 L1119.3,924.0 L1120.4,922.8 L1121.5,921.8 L1122.5,920.8 L1123.6,920.0 L1124.6,919.3 L1125.6,918.7 L1126.5,918.1 L1127.4,917.7 L1128.2,917.4 L1128.9,917.1 L1129.5,917.0 L1130.1,916.8 L1130.5,916.8 L1130.8,916.7 L1130.9,916.7 L1131.0,916.7 L1130.9,916.7 L1130.8,916.7 L1130.5,916.6 L1130.1,916.6 L1129.5,916.4 L1128.9,916.3 L1128.2,916.0 L1127.4,915.7 L1126.5,915.3 L1125.6,914.7 L1124.6,914.1 L1123.6,913.4 L1122.5,912.6 L1121.5,911.6 L1120.4,910.6 L1119.3,909.4 L1118.3,908.1 L1117.3,906.7 L1116.4,905.3 L1115.5,903.7 L1114.7,902.0 L1114.0,900.3 L1113.4,898.5 L1112.9,896.6 L1112.5,894.7 L1112.3,892.7 L1112.1,890.8 L1112.2,888.8 L1112.3,886.8 L1112.6,884.9 L1113.1,883.0 L1113.6,881.1 L1114.4,879.3 L1115.2,877.6 L1116.2,876.0 L1117.3,874.5 L1118.5,873.2 L1119.8,871.9 L1121.3,870.8 L1122.7,869.9 L1124.3,869.1 L1125.9,868.5 L1127.6,868.1 L1129.3,867.8 L1131.0,867.7" fill="none" stroke="#1a9a1a" stroke-width="2.4"/>
<g fill="none" stroke="#3a3ab0" stroke-width="1"><circle cx="1131.0" cy="845.0" r="2.1"/><circle cx="1139.0" cy="848.4" r="2.1"/><circle cx="1144.6" cy="857.3" r="2.1"/><circle cx="1147.1" cy="869.7" r="2.1"/><circle cx="1147.9" cy="877.8" r="2.1"/><circle cx="1146.5" cy="889.4" r="2.1"/><circle cx="1142.6" cy="900.9" r="2.1"/><circle cx="1138.7" cy="908.3" r="2.1"/><circle cx="1135.7" cy="912.5" r="2.1"/><circle cx="1135.2" cy="920.4" r="2.1"/><circle cx="1140.2" cy="927.1" r="2.1"/><circle cx="1142.3" cy="932.3" r="2.1"/><circle cx="1145.9" cy="941.8" r="2.1"/><circle cx="1147.4" cy="955.1" r="2.1"/><circle cx="1146.6" cy="966.4" r="2.1"/><circle cx="1144.2" cy="975.7" r="2.1"/><circle cx="1137.7" cy="984.8" r="2.1"/><circle cx="1131.4" cy="988.1" r="2.1"/><circle cx="1124.6" cy="986.4" r="2.1"/><circle cx="1118.7" cy="978.7" r="2.1"/><circle cx="1115.2" cy="966.8" r="2.1"/><circle cx="1114.3" cy="954.1" r="2.1"/><circle cx="1116.0" cy="942.9" r="2.1"/><circle cx="1119.9" cy="931.9" r="2.1"/><circle cx="1122.4" cy="926.5" r="2.1"/><circle cx="1126.3" cy="920.9" r="2.1"/><circle cx="1125.2" cy="911.4" r="2.1"/><circle cx="1123.2" cy="907.7" r="2.1"/><circle cx="1118.8" cy="900.0" r="2.1"/><circle cx="1115.7" cy="890.3" r="2.1"/><circle cx="1114.8" cy="881.4" r="2.1"/><circle cx="1115.0" cy="869.6" r="2.1"/><circle cx="1118.1" cy="855.7" r="2.1"/><circle cx="1124.1" cy="849.3" r="2.1"/></g>
<path d="M1131.0,845.7 L1133.5,846.0 L1135.9,846.9 L1138.2,848.4 L1140.3,850.4 L1142.2,852.9 L1143.9,855.9 L1145.3,859.2 L1146.4,862.9 L1147.2,866.7 L1147.7,870.8 L1147.9,874.9 L1147.8,879.0 L1147.4,883.1 L1146.8,887.0 L1146.0,890.8 L1145.0,894.3 L1143.9,897.6 L1142.7,900.6 L1141.5,903.3 L1140.2,905.7 L1139.0,907.8 L1137.8,909.6 L1136.7,911.2 L1135.7,912.4 L1134.8,913.5 L1134.0,914.3 L1133.4,915.0 L1132.8,915.5 L1132.3,915.9 L1132.0,916.1 L1131.7,916.3 L1131.5,916.5 L1131.3,916.6 L1131.2,916.6 L1131.1,916.7 L1131.1,916.7 L1131.0,916.7 L1131.0,916.7 L1131.0,916.7 L1131.0,916.7 L1131.0,916.7 L1131.0,916.7 L1131.0,916.7 L1131.0,916.7 L1131.0,916.7 L1131.0,916.7 L1131.0,916.7 L1131.0,916.7 L1131.0,916.7 L1131.0,916.7 L1131.0,916.7 L1131.0,916.7 L1131.0,916.7 L1131.1,916.7 L1131.1,916.7 L1131.2,916.8 L1131.3,916.8 L1131.5,916.9 L1131.7,917.1 L1132.0,917.3 L1132.3,917.5 L1132.8,917.9 L1133.4,918.4 L1134.0,919.1 L1134.8,919.9 L1135.7,921.0 L1136.7,922.2 L1137.8,923.8 L1139.0,925.6 L1140.2,927.7 L1141.5,930.1 L1142.7,932.8 L1143.9,935.8 L1145.0,939.1 L1146.0,942.6 L1146.8,946.4 L1147.4,950.3 L1147.8,954.4 L1147.9,958.5 L1147.7,962.6 L1147.2,966.7 L1146.4,970.5 L1145.3,974.2 L1143.9,977.5 L1142.2,980.5 L1140.3,983.0 L1138.2,985.0 L1135.9,986.5 L1133.5,987.4 L1131.0,987.7 L1128.5,987.4 L1126.1,986.5 L1123.8,985.0 L1121.7,983.0 L1119.8,980.5 L1118.1,977.5 L1116.7,974.2 L1115.6,970.5 L1114.8,966.7 L1114.3,962.6 L1114.1,958.5 L1114.2,954.4 L1114.6,950.3 L1115.2,946.4 L1116.0,942.6 L1117.0,939.1 L1118.1,935.8 L1119.3,932.8 L1120.5,930.1 L1121.8,927.7 L1123.0,925.6 L1124.2,923.8 L1125.3,922.2 L1126.3,921.0 L1127.2,919.9 L1128.0,919.1 L1128.6,918.4 L1129.2,917.9 L1129.7,917.5 L1130.0,917.3 L1130.3,917.1 L1130.5,916.9 L1130.7,916.8 L1130.8,916.8 L1130.9,916.7 L1130.9,916.7 L1131.0,916.7 L1131.0,916.7 L1131.0,916.7 L1131.0,916.7 L1131.0,916.7 L1131.0,916.7 L1131.0,916.7 L1131.0,916.7 L1131.0,916.7 L1131.0,916.7 L1131.0,916.7 L1131.0,916.7 L1131.0,916.7 L1131.0,916.7 L1131.0,916.7 L1131.0,916.7 L1131.0,916.7 L1130.9,916.7 L1130.9,916.7 L1130.8,916.6 L1130.7,916.6 L1130.5,916.5 L1130.3,916.3 L1130.0,916.1 L1129.7,915.9 L1129.2,915.5 L1128.6,915.0 L1128.0,914.3 L1127.2,913.5 L1126.3,912.4 L1125.3,911.2 L1124.2,909.6 L1123.0,907.8 L1121.8,905.7 L1120.5,903.3 L1119.3,900.6 L1118.1,897.6 L1117.0,894.3 L1116.0,890.8 L1115.2,887.0 L1114.6,883.1 L1114.2,879.0 L1114.1,874.9 L1114.3,870.8 L1114.8,866.7 L1115.6,862.9 L1116.7,859.2 L1118.1,855.9 L1119.8,852.9 L1121.7,850.4 L1123.8,848.4 L1126.1,846.9 L1128.5,846.0 L1131.0,845.7" fill="none" stroke="#0a14a0" stroke-width="2.6"/>
<circle cx="1131.0" cy="916.7" r="93.0" fill="none" stroke="#222" stroke-width="1.3"/>
<path d="M1196.8,850.9L1193.6,854.1 M1065.2,850.9L1068.4,854.1 M1065.2,982.5L1068.4,979.3 M1196.8,982.5L1193.6,979.3" stroke="#000" stroke-width="1.5"/>
<path d="M1214.8,854.0 A104.6,104.6 0 0 0 1191.0,831.0" fill="none" stroke="#000" stroke-width="2"/>
<path d="M1186.7,828.2 L1198.3,829.6 L1193.0,838.0Z" fill="#000"/>
<text x="1131.0" y="815.5" font-family='"Liberation Sans", sans-serif' font-size="16" fill="#000" font-weight="normal" font-style="normal" text-anchor="middle" >0</text>
<text x="1029.0" y="921.7" font-family='"Liberation Sans", sans-serif' font-size="16" fill="#000" font-weight="normal" font-style="normal" text-anchor="end" >90</text>
<text x="1227.5" y="921.7" font-family='"Liberation Sans", sans-serif' font-size="16" fill="#000" font-weight="normal" font-style="normal" text-anchor="start" >270</text>
<text x="1131.0" y="1027.4" font-family='"Liberation Sans", sans-serif' font-size="16" fill="#000" font-weight="normal" font-style="normal" text-anchor="middle" >180</text>
<text x="1157.0" y="932.9" font-family='"Liberation Sans", sans-serif' font-size="16.5" fill="#1aa01a">SrTiO<tspan font-size="11.5" dy="3.5">3</tspan></text>
<text x="1157.0" y="967.7" font-family='"Liberation Sans", sans-serif' font-size="16.5" fill="#1414b4">PbTiO<tspan font-size="11.5" dy="3.5">3</tspan></text>
<text x="1157.6" y="988.4" font-family='"Liberation Sans", sans-serif' font-size="16.5" fill="#1414b4">×0.3</text>
<path d="M1034.3,773.7 L1040.6,785.7 L1036.6,785.7 L1036.6,809.7 L1040.6,809.7 L1034.3,821.7 L1028.0,809.7 L1032.0,809.7 L1032.0,785.7 L1028.0,785.7Z" fill="#8b3f10"/>
<text x="1045.8" y="803.6" font-family='"Liberation Sans", sans-serif' font-size="17" font-weight="bold" font-style="italic">E<tspan font-size="11" font-style="normal" dy="2.5">THz</tspan></text>
<defs><linearGradient id="cone1" x1="0" y1="0" x2="1" y2="0"><stop offset="0" stop-color="#d2c1b5"/><stop offset="1" stop-color="#d9cbc0"/></linearGradient><linearGradient id="cone2" x1="0" y1="0" x2="0" y2="1"><stop offset="0" stop-color="#9d929c"/><stop offset="1" stop-color="#a59aa3"/></linearGradient><linearGradient id="rod" x1="0" y1="0" x2="0" y2="1"><stop offset="0" stop-color="#a85060"/><stop offset="0.45" stop-color="#d49098"/><stop offset="1" stop-color="#8a4050"/></linearGradient><linearGradient id="kerrb" x1="0" y1="0" x2="0" y2="1"><stop offset="0" stop-color="#e8c0cc"/><stop offset="1" stop-color="#d8a8b8"/></linearGradient></defs>
<path d="M118,590.8 L251.7,608.6 L251.7,649.5 L128.4,697.2 C112,680 104,660 107.5,637 C109,615 112,598 118,590.8Z" fill="url(#cone1)"/>
<path d="M119,631.3 L251.7,625.2 L251.7,637.6 L120.9,664.2 C116,658 115,640 119,631.3Z" fill="url(#cone2)" opacity="0.95"/>
<path d="M119,644.8 L262,625.8 L262,631.0 L119,650.4 C117.3,649 117.3,646 119,644.8Z" fill="url(#rod)"/>
<path d="M139.2,601.3 C141.0,601.6 146.5,602.4 150.0,603.0 C153.5,603.6 157.0,603.9 160.0,604.8 C163.0,605.7 165.4,607.0 168.0,608.5 C170.6,610.0 173.5,614.5 175.5,614.1 C177.5,613.7 178.4,609.4 180.0,606.0 C181.6,602.6 183.3,597.7 185.0,594.0 C186.7,590.3 189.4,583.6 190.4,583.8 C191.4,584.0 191.2,590.6 191.0,595.0 C190.8,599.4 189.7,606.2 189.5,610.0 C189.3,613.8 189.1,617.0 190.0,617.5 C190.9,618.0 193.2,614.5 195.0,613.0 C196.8,611.5 198.8,608.9 200.9,608.6 C203.0,608.3 205.7,611.1 207.5,611.4 C209.3,611.7 209.8,610.3 211.9,610.3 C214.0,610.3 215.6,610.9 220.0,611.5 C224.4,612.1 235.4,613.7 238.5,614.1" fill="none" stroke="#8b4513" stroke-width="2" stroke-linejoin="round"/>
<path d="M133.2,645.3 L246,630.4" stroke="#b0103e" stroke-width="1.8"/>
<path d="M252.3,629.7 L245.8,634.2 L244.9,627.0Z" fill="#b0103e"/>
<path d="M160.0,641.8 L160.5,642.0 L161.1,642.2 L161.6,642.4 L162.2,642.6 L162.7,642.8 L163.3,642.8 L163.8,642.8 L164.3,642.6 L164.8,642.4 L165.3,642.0 L165.7,641.4 L166.2,640.8 L166.6,640.1 L167.1,639.4 L167.5,638.7 L168.0,638.2 L168.4,637.8 L168.9,637.6 L169.5,637.6 L170.0,637.9 L170.6,638.5 L171.2,639.3 L171.9,640.3 L172.5,641.5 L173.2,642.7 L173.9,643.8 L174.5,644.8 L175.1,645.5 L175.7,645.8 L176.2,645.8 L176.6,645.2 L177.0,644.2 L177.4,642.7 L177.7,640.9 L178.0,638.9 L178.3,636.7 L178.5,634.6 L178.8,632.8 L179.2,631.3 L179.6,630.4 L180.1,630.1 L180.7,630.5 L181.3,631.7 L182.1,633.5 L182.9,635.8 L183.7,638.6 L184.6,641.5 L185.4,644.3 L186.3,646.9 L187.0,649.0 L187.7,650.4 L188.3,650.9 L188.8,650.5 L189.2,649.2 L189.4,647.1 L189.6,644.2 L189.7,640.8 L189.8,637.2 L189.9,633.5 L190.1,630.2 L190.3,627.4 L190.5,625.3 L190.9,624.3 L191.5,624.2 L192.1,625.2 L192.8,627.1 L193.7,629.8 L194.6,633.1 L195.5,636.7 L196.5,640.4 L197.4,643.8 L198.3,646.7 L199.1,648.9 L199.7,650.2 L200.3,650.4 L200.7,649.7 L201.1,648.1 L201.3,645.7 L201.5,642.8 L201.6,639.5 L201.8,636.1 L201.9,632.9 L202.1,630.2 L202.4,628.0 L202.7,626.5 L203.2,625.9 L203.7,626.1 L204.4,627.0 L205.1,628.6 L205.8,630.7 L206.6,633.0 L207.4,635.4 L208.2,637.8 L209.0,639.8 L209.7,641.5 L210.4,642.6 L211.0,643.1 L211.5,643.1 L211.9,642.5 L212.3,641.5 L212.7,640.1 L213.0,638.5 L213.4,636.9 L213.7,635.2 L214.1,633.8 L214.4,632.6 L214.9,631.7 L215.3,631.1 L215.8,631.0 L216.4,631.1 L216.9,631.5 L217.5,632.1 L218.1,632.9 L218.8,633.7 L219.4,634.5 L220.0,635.2 L220.6,635.8 L221.2,636.2 L221.7,636.5 L222.2,636.6" fill="none" stroke="#b0103e" stroke-width="2"/>
<path d="M141.6,633.2 C141.8,650 143,664 150,664 C156,664 155,648 153.2,634" fill="none" stroke="#b0103e" stroke-width="2.2"/>
<path d="M152.7,629.0 L157.3,633.9 L151.6,635.6Z" fill="#b0103e"/>
<path d="M66.3,654.8 L80.4,653 L80.4,653.0 L80.8,653.2 L81.2,653.4 L81.6,653.5 L82.0,653.6 L82.4,653.4 L82.7,653.0 L83.0,652.5 L83.3,651.8 L83.6,651.1 L83.9,650.6 L84.3,650.6 L84.7,651.0 L85.2,652.0 L85.8,653.2 L86.3,654.6 L86.9,655.6 L87.3,656.0 L87.6,655.5 L87.8,654.1 L87.9,652.0 L88.0,649.7 L88.1,647.7 L88.4,646.4 L88.7,646.4 L89.3,647.6 L90.0,649.8 L90.7,652.7 L91.4,655.4 L92.1,657.3 L92.5,658.0 L92.8,657.2 L92.9,655.2 L93.0,652.4 L93.0,649.5 L93.0,647.1 L93.3,645.8 L93.6,645.7 L94.2,646.9 L94.8,648.8 L95.5,651.1 L96.1,653.0 L96.6,654.3 L97.1,654.7 L97.4,654.2 L97.6,653.1 L97.8,651.7 L98.1,650.3 L98.3,649.3 L98.6,648.7 L99.0,648.7 L99.4,649.1 L99.9,649.6 L100.3,650.2 L100.8,650.7 L101.2,651.0 L101.6,651.1 L102.0,650.9 L102.3,650.7 L102.7,650.4 L103.0,650.1 L113,648.3" fill="none" stroke="#b0103e" stroke-width="1.4"/>
<path d="M117.3,647.8 L111.7,651.4 L111.0,645.8Z" fill="#b0103e"/>
<text x="86.0" y="673.6" font-family='"Liberation Sans", sans-serif' font-size="12.5" fill="#b0103e" font-weight="normal" font-style="normal" text-anchor="start" >LO</text>
<path d="M249,653.4 L219.7,659.8 L219.7,661.5 L219.4,661.7 L219.2,661.9 L218.9,662.1 L218.7,662.3 L218.4,662.4 L218.1,662.4 L217.8,662.4 L217.5,662.2 L217.1,661.9 L216.8,661.5 L216.4,661.1 L216.0,660.8 L215.7,660.5 L215.4,660.5 L215.2,660.8 L215.0,661.3 L214.8,662.1 L214.7,663.0 L214.6,664.0 L214.5,665.0 L214.3,665.7 L214.1,666.1 L213.8,666.0 L213.4,665.5 L212.9,664.4 L212.4,663.0 L211.8,661.4 L211.2,659.7 L210.6,658.4 L210.2,657.5 L209.8,657.3 L209.7,657.9 L209.6,659.3 L209.7,661.4 L209.9,663.9 L210.1,666.5 L210.2,668.9 L210.3,670.8 L210.2,671.8 L209.9,671.7 L209.3,670.5 L208.6,668.3 L207.8,665.4 L206.9,662.0 L206.0,658.7 L205.2,656.0 L204.6,654.2 L204.2,653.6 L204.0,654.3 L204.1,656.4 L204.4,659.6 L204.8,663.5 L205.3,667.7 L205.7,671.5 L206.0,674.5 L206.0,676.2 L205.8,676.4 L205.2,675.1 L204.4,672.3 L203.4,668.5 L202.3,664.1 L201.2,659.7 L200.2,655.9 L199.4,653.2 L198.9,651.9 L198.7,652.4 L198.8,654.5 L199.1,658.0 L199.6,662.4 L200.2,667.3 L200.8,671.9 L201.2,675.6 L201.4,678.1 L201.2,678.9 L200.8,678.0 L200.0,675.4 L199.0,671.5 L197.8,666.9 L196.6,662.0 L195.5,657.7 L194.6,654.3 L194.0,652.4 L193.7,652.3 L193.7,653.9 L194.0,657.0 L194.5,661.4 L195.1,666.3 L195.7,671.2 L196.2,675.4 L196.5,678.5 L196.4,680.0 L196.1,679.7 L195.4,677.6 L194.5,674.2 L193.4,669.7 L192.2,664.8 L191.0,660.2 L190.0,656.3 L189.2,653.8 L188.8,653.0 L188.7,653.9 L188.9,656.5 L189.3,660.5 L189.9,665.2 L190.5,670.2 L191.1,674.8 L191.5,678.4 L191.6,680.5 L191.3,680.9 L190.8,679.5 L189.9,676.6 L188.9,672.4 L187.7,667.6 L186.5,662.8 L185.4,658.6 L184.6,655.6 L184.0,654.1 L183.8,654.3 L183.8,656.3 L184.2,659.8 L184.7,664.2 L185.4,669.2 L185.9,674.0 L186.4,677.9 L186.6,680.6 L186.5,681.6 L186.1,680.9 L185.3,678.6 L184.4,674.9 L183.2,670.4 L182.1,665.7 L181.0,661.3 L180.0,657.9 L179.4,656.0 L179.0,655.6 L179.0,656.9 L179.2,659.8 L179.6,663.7 L180.2,668.2 L180.7,672.7 L181.2,676.7 L181.4,679.5 L181.4,680.9 L181.1,680.8 L180.5,679.2 L179.6,676.3 L178.7,672.6 L177.6,668.6 L176.6,664.8 L175.7,661.7 L175.1,659.7 L174.7,659.0 L174.5,659.7 L174.6,661.7 L174.8,664.5 L175.1,667.9 L175.5,671.3 L175.8,674.4 L175.9,676.7 L175.8,678.0 L175.6,678.2 L175.1,677.3 L174.5,675.6 L173.8,673.2 L173.0,670.7 L172.3,668.3 L171.6,666.4 L171.1,665.1 L170.7,664.6 L170.5,664.9 L170.4,665.8 L170.3,667.3 L170.4,669.0 L170.4,670.8 L170.4,672.3 L170.3,673.5 L170.1,674.1 L169.9,674.3 L169.5,674.0 L169.1,673.4 L168.7,672.5 L168.2,671.6 L167.8,670.8 L167.3,670.1 L167.0,669.7 L166.7,669.6 L166.4,669.7 L166.1,670.0 L165.9,670.4 L165.7,670.9 L165.5,671.4 L165.3,671.8 L165.1,672.1 L164.8,672.3 L164.5,672.4 L164.2,672.4 L163.9,672.3 L163.6,672.2 L163.3,672.1 L163.0,672.0 L163.2,678.4 L140,685.8" fill="none" stroke="#7b2fb0" stroke-width="1.8"/>
<path d="M134.5,686.8 L141.1,680.9 L143.3,688.1Z" fill="#7b2fb0"/>
<path d="M147.2,670.8 C147.5,688 149,701 155.7,701 C161,701 161,688 159.6,671" fill="none" stroke="#7b2fb0" stroke-width="2.2"/>
<path d="M159.4,666.8 L163.0,672.5 L157.0,673.1Z" fill="#7b2fb0"/>
<path d="M251.7,572.4 L284.6,595.4 L284.6,684.2 L251.7,660.7Z" fill="#636367"/>
<path d="M251.7,572.4 L276.5,568.9 L308.1,592.4 L284.6,595.4Z" fill="#89898d"/>
<path d="M284.6,595.4 L308.1,592.4 L308.1,681.1 L284.6,684.2Z" fill="#a9a9ac"/>
<path d="M251.7,608.6 C262,608.6 275.5,612 275.5,629 C275.5,645 262,649.5 251.7,649.5Z" fill="#5e4a3e" opacity="0.85"/>
<path d="M251.7,625.4 L272,624.4 L272,629.6 L251.7,631.8Z" fill="#b04a60" opacity="0.75"/>
<path d="M228,595.4 L311.5,657.9" stroke="#000" stroke-width="2.2" stroke-dasharray="7 2.5 2 2.5"/>
<path d="M315.6,661.0 L305.9,659.0 L310.9,652.2Z" fill="#000"/>
<path d="M271,548 V709.6" stroke="#000" stroke-width="1.6" stroke-dasharray="9 3.5"/>
<path d="M271.0,540.4 L274.6,549.4 L267.4,549.4Z" fill="#000"/>
<text transform="translate(281.0,542.4) rotate(-5.5)" font-family='"Liberation Sans", sans-serif' font-size="16" fill="#000" font-style="normal" font-weight="normal" text-anchor="start" textLength="70.5" lengthAdjust="spacingAndGlyphs"><tspan font-style="italic">p</tspan>-direction</text>
<text transform="translate(324.3,657.1) rotate(-7.9)" font-family='"Liberation Sans", sans-serif' font-size="16" fill="#000" font-style="normal" font-weight="normal" text-anchor="start" textLength="69.5" lengthAdjust="spacingAndGlyphs"><tspan font-style="italic">s</tspan>-direction</text>
<path d="M308.1,621.6 L426,608.6 L426,613.6 L308.1,626.8Z" fill="url(#kerrb)"/>
<path d="M308.1,624.1 L334,621.5 L334.0,621.7 L334.4,621.8 L334.8,621.9 L335.2,622.1 L335.5,622.2 L335.9,622.4 L336.3,622.5 L336.7,622.6 L337.1,622.7 L337.4,622.7 L337.8,622.7 L338.2,622.6 L338.5,622.4 L338.8,622.1 L339.2,621.7 L339.5,621.3 L339.8,620.7 L340.1,620.1 L340.4,619.5 L340.7,618.8 L341.0,618.1 L341.3,617.5 L341.6,616.9 L341.9,616.4 L342.2,616.1 L342.6,615.8 L342.9,615.8 L343.3,615.9 L343.7,616.2 L344.1,616.7 L344.5,617.3 L345.0,618.1 L345.5,619.0 L345.9,620.1 L346.4,621.1 L346.9,622.2 L347.4,623.3 L347.9,624.3 L348.3,625.2 L348.8,625.9 L349.2,626.5 L349.6,626.9 L350.0,627.0 L350.4,626.9 L350.7,626.5 L351.0,625.9 L351.3,625.1 L351.5,624.1 L351.8,622.9 L352.0,621.6 L352.2,620.2 L352.4,618.8 L352.6,617.4 L352.8,616.0 L353.1,614.8 L353.3,613.7 L353.6,612.7 L353.9,612.0 L354.2,611.5 L354.5,611.3 L354.9,611.3 L355.3,611.6 L355.7,612.1 L356.2,612.9 L356.6,613.8 L357.1,615.0 L357.6,616.2 L358.1,617.6 L358.7,619.0 L359.2,620.3 L359.7,621.7 L360.2,622.9 L360.7,624.0 L361.2,625.0 L361.6,625.7 L362.0,626.2 L362.4,626.4 L362.8,626.4 L363.1,626.1 L363.4,625.6 L363.7,624.8 L364.0,623.9 L364.2,622.7 L364.4,621.4 L364.7,620.0 L364.9,618.6 L365.1,617.1 L365.3,615.7 L365.5,614.3 L365.7,613.1 L366.0,612.0 L366.2,611.1 L366.5,610.5 L366.9,610.1 L367.2,609.9 L367.6,610.0 L368.0,610.4 L368.4,611.0 L368.9,611.8 L369.4,612.8 L369.9,613.9 L370.4,615.2 L370.9,616.5 L371.4,617.9 L371.9,619.2 L372.4,620.4 L372.9,621.6 L373.4,622.5 L373.8,623.3 L374.2,623.9 L374.6,624.2 L375.0,624.3 L375.4,624.2 L375.7,623.8 L376.0,623.2 L376.3,622.4 L376.5,621.4 L376.8,620.4 L377.0,619.2 L377.3,618.0 L377.5,616.9 L377.8,615.7 L378.0,614.7 L378.3,613.8 L378.6,613.0 L378.9,612.4 L379.2,612.0 L379.5,611.8 L379.9,611.7 L380.3,611.8 L380.7,612.1 L381.1,612.4 L381.5,612.9 L381.9,613.5 L382.3,614.1 L382.8,614.7 L383.2,615.3 L383.6,615.8 L384.1,616.3 L384.5,616.8 L384.9,617.1 L385.3,617.3 L385.6,617.5 L386.0,617.5 L386.4,617.5 L386.7,617.4 L387.1,617.2 L387.4,617.0 L387.8,616.8 L388.1,616.6 L388.5,616.3 L388.8,616.1 L389.1,615.9 L389.5,615.7 L389.8,615.5 L390.2,615.4 L390.5,615.3 L390.9,615.2 L391.3,615.1 L391.6,615.0 L392.0,615.0 L420,610.6" fill="none" stroke="#b0103e" stroke-width="1.4"/>
<path d="M423.8,610.3 L419.1,613.2 L418.6,608.5Z" fill="#b0103e"/>
<ellipse cx="424.1" cy="610.3" rx="9.4" ry="27.9" fill="none" stroke="#b0103e" stroke-width="1.6"/>
<path d="M428.8,579.4 C434,586 438.6,597 438.6,607" fill="none" stroke="#b0103e" stroke-width="1.3"/>
<path d="M438.8,612.0 L436.2,606.0 L441.4,606.0Z" fill="#b0103e"/>
<path d="M423.5,604 V591" stroke="#b0103e" stroke-width="1.2" stroke-dasharray="3 2"/>
<path d="M423.5,587.6 L425.5,591.6 L421.5,591.6Z" fill="#b0103e"/>
<path d="M424,609.5 L428.5,600.5" stroke="#b0103e" stroke-width="1.4"/>
<path d="M430.0,597.1 L429.9,602.6 L425.6,600.5Z" fill="#b0103e"/>
<text transform="translate(319.4,605.3) rotate(-8.2)" font-family='"Liberation Sans", sans-serif' font-size="16" fill="#b0103e" font-style="normal" font-weight="normal" text-anchor="start" textLength="82.6" lengthAdjust="spacingAndGlyphs">Kerr rotation</text>
<text transform="translate(83.0,575.8) rotate(10.3)" font-family='"Liberation Sans", sans-serif' font-size="17.4" fill="#8b4513" font-style="italic" font-weight="normal" text-anchor="start" textLength="67.0" lengthAdjust="spacingAndGlyphs">THz pump</text>
<text transform="translate(54.0,634.0) rotate(-7.1)" font-family='"Liberation Sans", sans-serif' font-size="16.4" fill="#b0103e" font-style="normal" font-weight="normal" text-anchor="start" textLength="92.5" lengthAdjust="spacingAndGlyphs">800 nm probe</text>
<text transform="translate(101.1,707.8) rotate(-3.0)" font-family='"Liberation Sans", sans-serif' font-size="17.5" fill="#7b2fb0" font-style="normal" font-weight="normal" text-anchor="start" textLength="32.2" lengthAdjust="spacingAndGlyphs">SHG</text>
<text x="159.3" y="658.4" font-family='"Liberation Sans", sans-serif' font-size="15" font-style="italic" fill="#b0103e">α</text>
<text x="164.0" y="702.0" font-family='"Liberation Sans", sans-serif' font-size="15" font-style="italic" fill="#7b2fb0">φ</text>
<path d="M291.8,703.5 V676 M291.8,703.5 L307.5,714" stroke="#444" stroke-width="1.8" fill="none"/>
<path d="M291.8,671.5 L295.0,679.5 L288.6,679.5Z" fill="#444"/>
<path d="M311.3,716.8 L302.9,715.1 L306.4,709.7Z" fill="#444"/>
<text x="295.6" y="682.1" font-family='"Liberation Sans", sans-serif' font-size="16" fill="#444" font-weight="normal" font-style="normal" text-anchor="start" textLength="32.7" lengthAdjust="spacingAndGlyphs">[100]</text>
<text x="315.0" y="712.7" font-family='"Liberation Sans", sans-serif' font-size="16" fill="#444" font-weight="normal" font-style="normal" text-anchor="start" textLength="32.7" lengthAdjust="spacingAndGlyphs">[010]</text>
<defs><linearGradient id="jet" x1="0" y1="0" x2="1" y2="0"><stop offset="0.000" stop-color="#1e1b6e"/><stop offset="0.111" stop-color="#2a3fb5"/><stop offset="0.222" stop-color="#2f7fe0"/><stop offset="0.333" stop-color="#2cc0d8"/><stop offset="0.444" stop-color="#5ed07a"/><stop offset="0.556" stop-color="#c8e03a"/><stop offset="0.667" stop-color="#f8c020"/><stop offset="0.778" stop-color="#f07018"/><stop offset="0.889" stop-color="#c81810"/><stop offset="1.000" stop-color="#7a0808"/></linearGradient><linearGradient id="pbar" x1="0" y1="0" x2="1" y2="0"><stop offset="0.000" stop-color="#4a2a8c"/><stop offset="0.111" stop-color="#3a58c8"/><stop offset="0.222" stop-color="#58a8e0"/><stop offset="0.333" stop-color="#a8e0e8"/><stop offset="0.444" stop-color="#f4f6e8"/><stop offset="0.556" stop-color="#f0e070"/><stop offset="0.667" stop-color="#f0a030"/><stop offset="0.778" stop-color="#d84818"/><stop offset="0.889" stop-color="#a01828"/><stop offset="1.000" stop-color="#70102c"/></linearGradient><linearGradient id="cubeL" x1="176" y1="0" x2="252" y2="0" gradientUnits="userSpaceOnUse"><stop offset="0" stop-color="#e4e6ee"/><stop offset="0.45" stop-color="#c8ccdc"/><stop offset="0.55" stop-color="#4a5a90"/><stop offset="1" stop-color="#2e3f7a"/></linearGradient><linearGradient id="cubeT" x1="180" y1="0" x2="335" y2="0" gradientUnits="userSpaceOnUse"><stop offset="0" stop-color="#d8dbe6"/><stop offset="0.25" stop-color="#a8b0c8"/><stop offset="0.4" stop-color="#3e4e88"/><stop offset="0.8" stop-color="#3a4a84"/><stop offset="1" stop-color="#8a94b4"/></linearGradient><linearGradient id="slabg" x1="0" y1="0" x2="100" y2="0" gradientUnits="userSpaceOnUse"><stop offset="0" stop-color="#58c488"/><stop offset="0.1" stop-color="#9ccc50"/><stop offset="0.2" stop-color="#d8c038"/><stop offset="0.28" stop-color="#d84818"/><stop offset="0.34" stop-color="#e0a030"/><stop offset="0.45" stop-color="#a0cc58"/><stop offset="0.55" stop-color="#48c0b0"/><stop offset="0.63" stop-color="#3858c8"/><stop offset="0.72" stop-color="#40a8d0"/><stop offset="0.85" stop-color="#50c4a0"/><stop offset="1" stop-color="#70c870"/></linearGradient><linearGradient id="shaft" x1="0" y1="0" x2="1" y2="0"><stop offset="0" stop-color="#9a9ea2"/><stop offset="0.5" stop-color="#7e8286"/><stop offset="1" stop-color="#6a6e72"/></linearGradient><radialGradient id="sphK" cx="0.5" cy="0.45" r="0.55"><stop offset="0" stop-color="#fff"/><stop offset="0.15" stop-color="#888"/><stop offset="0.5" stop-color="#222"/><stop offset="1" stop-color="#000"/></radialGradient><radialGradient id="sphG" cx="0.5" cy="0.45" r="0.55"><stop offset="0" stop-color="#eee"/><stop offset="0.2" stop-color="#999"/><stop offset="0.6" stop-color="#555"/><stop offset="1" stop-color="#3a3a3a"/></radialGradient><radialGradient id="sphB" cx="0.5" cy="0.45" r="0.55"><stop offset="0" stop-color="#fff"/><stop offset="0.2" stop-color="#7a90e0"/><stop offset="0.7" stop-color="#1e3aa8"/><stop offset="1" stop-color="#102070"/></radialGradient><radialGradient id="sphM" cx="0.5" cy="0.45" r="0.55"><stop offset="0" stop-color="#fff"/><stop offset="0.2" stop-color="#e06090"/><stop offset="0.7" stop-color="#a8184c"/><stop offset="1" stop-color="#701030"/></radialGradient><linearGradient id="axg" x1="0" y1="0" x2="0" y2="1"><stop offset="0" stop-color="#fafafe"/><stop offset="0.5" stop-color="#9ca4c4"/><stop offset="1" stop-color="#14215e"/></linearGradient><clipPath id="topclip"><path d="M158.9,371.3 L282.9,305.9 L435.9,355.3 L319.4,430.6Z"/></clipPath><clipPath id="lclip"><path d="M158.9,371.3 L319.4,430.6 L318.2,489.4 L160.6,425.9Z"/></clipPath><clipPath id="rclip"><path d="M319.4,430.6 L435.9,355.3 L435.9,411.8 L318.2,489.4Z"/></clipPath><clipPath id="slabclipG"><path d="M250.5,144.5 L334.8,95.5 L331.3,181.6 L251.1,236Z"/></clipPath><filter id="blur1" x="-20%" y="-20%" width="140%" height="140%"><feGaussianBlur stdDeviation="1.2"/></filter><filter id="blur3" x="-50%" y="-50%" width="200%" height="200%"><feGaussianBlur stdDeviation="3.5"/></filter></defs>
<path d="M176.0,113.0 L186.0,108.0 L200.0,104.0 L216.5,93.0 L233.0,84.2 L252.7,74.3 L277.0,82.0 L298.9,89.7 L320.9,95.2 L334.6,95.7 L336.0,101.0 L252.0,150.0 L251.0,236.0 L215.0,214.0 L176.0,201.0Z" fill="#eceef4"/>
<path d="M200.0,106.0 L218.0,95.0 L235.0,87.0 L253.0,80.0 L277.0,86.0 L300.0,94.0 L322.0,100.0 L336.0,101.0 L252.0,150.0 L214.0,128.0 L205.0,118.0Z" fill="#b2bad2"/>
<path d="M214.0,110.0 L225.0,103.0 L240.0,98.0 L255.0,95.0 L275.0,98.0 L295.0,103.0 L308.0,108.0 L320.0,108.0 L252.0,150.0 L252.0,214.0 L232.0,201.0 L214.0,190.0Z" fill="#4a5a92"/>
<g><path d="M178.0,199.5 L178.5,107.2" stroke="#a8afc6" stroke-width="1.0"/><path d="M176.2,111.7 L178.5,107.2 L180.3,111.7" stroke="#a8afc6" stroke-width="0.9" fill="none"/><path d="M182.7,200.4 L183.2,110.7" stroke="#a8afc6" stroke-width="1.0"/><path d="M180.9,115.2 L183.2,110.7 L185.0,115.2" stroke="#a8afc6" stroke-width="0.9" fill="none"/><path d="M187.4,203.6 L187.9,112.4" stroke="#a8afc6" stroke-width="1.0"/><path d="M185.6,116.9 L187.9,112.4 L189.7,116.9" stroke="#a8afc6" stroke-width="0.9" fill="none"/><path d="M192.1,205.9 L192.6,112.6" stroke="#a8afc6" stroke-width="1.0"/><path d="M190.3,117.1 L192.6,112.6 L194.4,117.1" stroke="#a8afc6" stroke-width="0.9" fill="none"/><path d="M196.8,206.8 L197.3,114.7" stroke="#a8afc6" stroke-width="1.0"/><path d="M195.0,119.2 L197.3,114.7 L199.1,119.2" stroke="#a8afc6" stroke-width="0.9" fill="none"/><path d="M201.5,206.2 L202.0,117.0" stroke="#a8afc6" stroke-width="1.0"/><path d="M199.7,121.5 L202.0,117.0 L203.8,121.5" stroke="#a8afc6" stroke-width="0.9" fill="none"/><path d="M206.2,212.0 L206.7,120.6" stroke="#a8afc6" stroke-width="1.0"/><path d="M204.4,125.1 L206.7,120.6 L208.5,125.1" stroke="#a8afc6" stroke-width="0.9" fill="none"/><path d="M210.9,209.8 L211.4,121.5" stroke="#a8afc6" stroke-width="1.0"/><path d="M209.1,126.0 L211.4,121.5 L213.2,126.0" stroke="#a8afc6" stroke-width="0.9" fill="none"/><path d="M215.6,191.3 L216.1,125.7" stroke="#eef0f8" stroke-width="1.3"/><path d="M213.8,130.2 L216.1,125.7 L217.9,130.2" stroke="#eef0f8" stroke-width="0.9" fill="none"/><path d="M220.3,192.0 L220.8,127.0" stroke="#eef0f8" stroke-width="1.3"/><path d="M218.5,131.5 L220.8,127.0 L222.6,131.5" stroke="#eef0f8" stroke-width="0.9" fill="none"/><path d="M225.0,195.2 L225.5,131.0" stroke="#eef0f8" stroke-width="1.3"/><path d="M223.2,135.5 L225.5,131.0 L227.3,135.5" stroke="#eef0f8" stroke-width="0.9" fill="none"/><path d="M229.7,200.7 L230.2,130.2" stroke="#eef0f8" stroke-width="1.3"/><path d="M227.9,134.7 L230.2,130.2 L232.0,134.7" stroke="#eef0f8" stroke-width="0.9" fill="none"/><path d="M234.4,202.8 L234.9,132.6" stroke="#eef0f8" stroke-width="1.3"/><path d="M232.6,137.1 L234.9,132.6 L236.7,137.1" stroke="#eef0f8" stroke-width="0.9" fill="none"/><path d="M239.1,203.3 L239.6,135.5" stroke="#eef0f8" stroke-width="1.3"/><path d="M237.3,140.0 L239.6,135.5 L241.4,140.0" stroke="#eef0f8" stroke-width="0.9" fill="none"/><path d="M243.8,208.6 L244.3,136.4" stroke="#eef0f8" stroke-width="1.3"/><path d="M242.0,140.9 L244.3,136.4 L246.1,140.9" stroke="#eef0f8" stroke-width="0.9" fill="none"/><path d="M248.5,211.0 L249.0,140.1" stroke="#eef0f8" stroke-width="1.3"/><path d="M246.7,144.6 L249.0,140.1 L250.8,144.6" stroke="#eef0f8" stroke-width="0.9" fill="none"/><path d="M248.7,110.4 l-1.3,-4.0" stroke="#2c3c76" stroke-width="0.9"/><path d="M224.8,135.4 l-0.5,-5.3" stroke="#e8eaf2" stroke-width="0.9"/><path d="M196.4,125.5 l2.9,4.1" stroke="#a0a8c4" stroke-width="0.9"/><path d="M232.6,135.6 l3.4,1.6" stroke="#8490b8" stroke-width="0.9"/><path d="M187.5,161.8 l5.2,-2.9" stroke="#6a76a4" stroke-width="0.9"/><path d="M232.1,192.4 l1.3,-4.8" stroke="#b0b8d0" stroke-width="0.9"/><path d="M216.6,122.0 l4.2,2.3" stroke="#2c3c76" stroke-width="0.9"/><path d="M245.2,142.4 l5.5,-0.5" stroke="#2c3c76" stroke-width="0.9"/><path d="M205.5,101.7 l-0.1,-5.3" stroke="#6a76a4" stroke-width="0.9"/><path d="M227.7,88.1 l5.2,-1.7" stroke="#a0a8c4" stroke-width="0.9"/><path d="M249.2,183.5 l-2.2,-4.7" stroke="#2c3c76" stroke-width="0.9"/><path d="M240.2,85.3 l-2.9,-2.3" stroke="#8a94b4" stroke-width="0.9"/><path d="M246.7,86.1 l-3.8,-3.6" stroke="#a0a8c4" stroke-width="0.9"/><path d="M236.7,153.2 l-3.9,-2.9" stroke="#e8eaf2" stroke-width="0.9"/><path d="M250.7,133.9 l-3.3,-3.1" stroke="#8490b8" stroke-width="0.9"/><path d="M258.5,98.3 l-3.6,4.3" stroke="#e8eaf2" stroke-width="0.9"/><path d="M296.3,110.2 l-4.5,-4.0" stroke="#2c3c76" stroke-width="0.9"/><path d="M235.2,93.4 l-5.7,-1.2" stroke="#6a76a4" stroke-width="0.9"/><path d="M208.4,102.6 l2.5,-3.2" stroke="#d0d4e2" stroke-width="0.9"/><path d="M218.4,160.6 l-6.0,2.1" stroke="#8490b8" stroke-width="0.9"/><path d="M212.4,101.0 l-3.0,-4.4" stroke="#a0a8c4" stroke-width="0.9"/><path d="M252.6,94.9 l-2.9,5.1" stroke="#2c3c76" stroke-width="0.9"/><path d="M270.2,131.6 l1.3,-5.1" stroke="#2c3c76" stroke-width="0.9"/><path d="M280.5,116.9 l-2.4,-2.6" stroke="#e8eaf2" stroke-width="0.9"/><path d="M245.7,183.6 l1.0,4.1" stroke="#8490b8" stroke-width="0.9"/><path d="M228.9,141.7 l5.3,2.1" stroke="#2c3c76" stroke-width="0.9"/><path d="M201.7,137.4 l0.9,-5.3" stroke="#8a94b4" stroke-width="0.9"/><path d="M204.9,132.6 l-4.2,-1.5" stroke="#d0d4e2" stroke-width="0.9"/><path d="M265.4,103.8 l2.8,-4.2" stroke="#2c3c76" stroke-width="0.9"/><path d="M182.3,186.4 l-2.2,-6.0" stroke="#8a94b4" stroke-width="0.9"/><path d="M261.2,133.2 l-1.9,-5.8" stroke="#8490b8" stroke-width="0.9"/><path d="M209.6,129.3 l-0.9,-4.4" stroke="#8a94b4" stroke-width="0.9"/><path d="M244.8,99.2 l-4.1,-4.2" stroke="#8490b8" stroke-width="0.9"/><path d="M200.3,185.0 l1.2,6.2" stroke="#d0d4e2" stroke-width="0.9"/><path d="M282.2,100.6 l4.7,-0.2" stroke="#2c3c76" stroke-width="0.9"/><path d="M208.5,112.8 l5.1,0.6" stroke="#d0d4e2" stroke-width="0.9"/><path d="M287.7,121.2 l-2.5,-5.9" stroke="#e8eaf2" stroke-width="0.9"/><path d="M299.5,106.6 l-0.9,-6.2" stroke="#8490b8" stroke-width="0.9"/><path d="M241.3,140.7 l0.0,-4.5" stroke="#8490b8" stroke-width="0.9"/><path d="M187.0,160.1 l-4.9,-4.0" stroke="#a0a8c4" stroke-width="0.9"/><path d="M230.9,142.8 l-0.4,3.9" stroke="#2c3c76" stroke-width="0.9"/><path d="M206.3,191.3 l0.4,-4.1" stroke="#d0d4e2" stroke-width="0.9"/><path d="M256.0,94.8 l-3.6,-2.3" stroke="#e8eaf2" stroke-width="0.9"/><path d="M180.9,136.7 l-4.2,-0.4" stroke="#d0d4e2" stroke-width="0.9"/><path d="M194.6,176.8 l0.1,-6.0" stroke="#d0d4e2" stroke-width="0.9"/><path d="M211.6,101.4 l4.2,-3.9" stroke="#8a94b4" stroke-width="0.9"/><path d="M241.1,116.5 l-2.5,-2.7" stroke="#8490b8" stroke-width="0.9"/><path d="M245.2,79.1 l-1.1,-4.9" stroke="#6a76a4" stroke-width="0.9"/><path d="M234.8,114.1 l-1.6,3.2" stroke="#8490b8" stroke-width="0.9"/><path d="M221.5,156.0 l2.1,-3.1" stroke="#e8eaf2" stroke-width="0.9"/><path d="M200.4,147.1 l-2.1,-5.0" stroke="#a0a8c4" stroke-width="0.9"/><path d="M238.8,113.7 l3.4,4.6" stroke="#b0b8d0" stroke-width="0.9"/><path d="M184.8,178.9 l-4.0,-4.1" stroke="#8a94b4" stroke-width="0.9"/><path d="M180.5,159.9 l-1.6,-6.2" stroke="#8a94b4" stroke-width="0.9"/><path d="M236.8,129.8 l-4.3,-2.8" stroke="#b0b8d0" stroke-width="0.9"/><path d="M292.9,104.3 l-2.6,-5.1" stroke="#b0b8d0" stroke-width="0.9"/><path d="M214.0,155.2 l2.5,-2.7" stroke="#6a76a4" stroke-width="0.9"/><path d="M201.0,104.5 l-1.7,4.9" stroke="#a0a8c4" stroke-width="0.9"/><path d="M253.3,134.2 l3.4,2.4" stroke="#2c3c76" stroke-width="0.9"/><path d="M223.4,138.1 l-0.2,-3.9" stroke="#2c3c76" stroke-width="0.9"/><path d="M209.1,197.2 l4.8,0.5" stroke="#d0d4e2" stroke-width="0.9"/><path d="M294.6,105.5 l1.3,-5.2" stroke="#8490b8" stroke-width="0.9"/><path d="M214.1,186.9 l-2.9,-2.0" stroke="#2c3c76" stroke-width="0.9"/><path d="M236.7,87.5 l-1.5,-4.2" stroke="#d0d4e2" stroke-width="0.9"/><path d="M196.7,190.6 l3.6,-2.5" stroke="#6a76a4" stroke-width="0.9"/><path d="M188.1,121.9 l5.6,2.9" stroke="#6a76a4" stroke-width="0.9"/><path d="M186.1,156.7 l-4.2,-4.8" stroke="#d0d4e2" stroke-width="0.9"/><path d="M257.7,96.3 l5.1,-3.4" stroke="#2c3c76" stroke-width="0.9"/><path d="M185.7,165.7 l2.8,-4.6" stroke="#6a76a4" stroke-width="0.9"/><path d="M263.8,93.9 l-1.8,-3.9" stroke="#8490b8" stroke-width="0.9"/><path d="M241.4,102.5 l1.4,-3.6" stroke="#b0b8d0" stroke-width="0.9"/><path d="M189.7,136.1 l-4.6,-1.5" stroke="#6a76a4" stroke-width="0.9"/><path d="M192.2,115.8 l-2.2,-3.7" stroke="#8a94b4" stroke-width="0.9"/><path d="M242.4,125.0 l-1.1,-4.4" stroke="#e8eaf2" stroke-width="0.9"/><path d="M234.2,159.9 l3.6,-4.9" stroke="#e8eaf2" stroke-width="0.9"/><path d="M220.3,103.8 l-0.6,-6.3" stroke="#e8eaf2" stroke-width="0.9"/><path d="M197.9,126.4 l2.1,-6.0" stroke="#d0d4e2" stroke-width="0.9"/><path d="M178.0,122.1 l2.8,-5.4" stroke="#d0d4e2" stroke-width="0.9"/><path d="M202.1,138.9 l4.6,-3.3" stroke="#d0d4e2" stroke-width="0.9"/><path d="M191.3,171.4 l-3.6,-3.8" stroke="#a0a8c4" stroke-width="0.9"/><path d="M278.7,110.9 l-2.6,-4.7" stroke="#e8eaf2" stroke-width="0.9"/><path d="M193.5,110.4 l1.5,4.0" stroke="#a0a8c4" stroke-width="0.9"/><path d="M252.1,102.1 l4.7,-3.1" stroke="#8490b8" stroke-width="0.9"/><path d="M244.2,119.4 l2.4,-5.1" stroke="#8490b8" stroke-width="0.9"/><path d="M284.5,97.4 l-0.4,-5.0" stroke="#b0b8d0" stroke-width="0.9"/><path d="M255.3,97.7 l1.7,4.6" stroke="#8490b8" stroke-width="0.9"/><path d="M296.6,109.8 l-4.1,0.1" stroke="#b0b8d0" stroke-width="0.9"/><path d="M186.8,148.1 l3.4,1.2" stroke="#8a94b4" stroke-width="0.9"/><path d="M242.8,162.9 l-0.5,-5.6" stroke="#8490b8" stroke-width="0.9"/><path d="M206.9,191.8 l5.4,1.1" stroke="#d0d4e2" stroke-width="0.9"/><path d="M247.0,85.9 l-3.6,-3.1" stroke="#a0a8c4" stroke-width="0.9"/><path d="M237.3,170.4 l2.3,-3.0" stroke="#2c3c76" stroke-width="0.9"/><path d="M208.5,141.3 l-2.0,-5.4" stroke="#d0d4e2" stroke-width="0.9"/><path d="M182.7,124.6 l0.4,-3.6" stroke="#a0a8c4" stroke-width="0.9"/><path d="M187.8,149.5 l-2.0,-6.0" stroke="#a0a8c4" stroke-width="0.9"/><path d="M218.9,163.7 l-1.5,-3.2" stroke="#2c3c76" stroke-width="0.9"/><path d="M214.5,132.8 l4.5,-1.3" stroke="#8490b8" stroke-width="0.9"/><path d="M198.7,135.6 l3.5,-2.7" stroke="#8a94b4" stroke-width="0.9"/><path d="M272.7,114.0 l-1.6,-5.6" stroke="#e8eaf2" stroke-width="0.9"/><path d="M257.9,122.1 l-0.9,-5.4" stroke="#2c3c76" stroke-width="0.9"/><path d="M264.2,113.7 l4.8,-4.3" stroke="#8490b8" stroke-width="0.9"/><path d="M275.4,98.7 l5.6,-3.2" stroke="#b0b8d0" stroke-width="0.9"/><path d="M214.5,125.4 l2.2,-5.3" stroke="#e8eaf2" stroke-width="0.9"/><path d="M299.6,109.6 l-1.9,-3.8" stroke="#8490b8" stroke-width="0.9"/><path d="M209.1,103.7 l-4.0,-4.7" stroke="#8a94b4" stroke-width="0.9"/><path d="M228.9,122.7 l-4.2,-0.2" stroke="#e8eaf2" stroke-width="0.9"/><path d="M194.0,132.8 l3.3,-5.3" stroke="#a0a8c4" stroke-width="0.9"/><path d="M314.8,101.8 l1.4,-5.8" stroke="#b0b8d0" stroke-width="0.9"/><path d="M218.6,171.6 l4.2,3.3" stroke="#2c3c76" stroke-width="0.9"/><path d="M241.8,119.6 l-2.7,-2.3" stroke="#2c3c76" stroke-width="0.9"/><path d="M263.5,80.1 l-1.0,-5.0" stroke="#a0a8c4" stroke-width="0.9"/><path d="M279.9,122.9 l4.8,-2.8" stroke="#2c3c76" stroke-width="0.9"/><path d="M266.4,117.7 l4.6,-4.6" stroke="#8490b8" stroke-width="0.9"/><path d="M278.5,122.0 l3.9,-2.8" stroke="#b0b8d0" stroke-width="0.9"/><path d="M244.1,177.0 l3.6,-3.3" stroke="#b0b8d0" stroke-width="0.9"/><path d="M200.2,175.2 l1.1,-6.2" stroke="#8a94b4" stroke-width="0.9"/><path d="M200.8,108.3 l3.0,-2.3" stroke="#d0d4e2" stroke-width="0.9"/><path d="M303.5,110.6 l6.0,1.7" stroke="#8490b8" stroke-width="0.9"/><path d="M186.3,190.5 l4.1,-3.5" stroke="#8a94b4" stroke-width="0.9"/><path d="M208.6,132.5 l-5.1,-3.7" stroke="#8a94b4" stroke-width="0.9"/><path d="M237.8,87.8 l2.9,-5.5" stroke="#a0a8c4" stroke-width="0.9"/><path d="M228.6,121.9 l4.0,-4.3" stroke="#2c3c76" stroke-width="0.9"/><path d="M226.1,103.9 l-1.3,-4.8" stroke="#b0b8d0" stroke-width="0.9"/><path d="M181.6,151.2 l-3.0,-5.0" stroke="#d0d4e2" stroke-width="0.9"/><path d="M233.9,118.8 l-5.5,-0.1" stroke="#e8eaf2" stroke-width="0.9"/><path d="M257.8,78.9 l-1.5,-6.2" stroke="#8a94b4" stroke-width="0.9"/><path d="M212.5,178.6 l-2.1,-3.9" stroke="#6a76a4" stroke-width="0.9"/><path d="M217.6,195.4 l1.1,-5.2" stroke="#b0b8d0" stroke-width="0.9"/><path d="M234.1,183.7 l1.2,-6.0" stroke="#e8eaf2" stroke-width="0.9"/><path d="M217.3,140.6 l-0.4,-4.6" stroke="#2c3c76" stroke-width="0.9"/><path d="M234.2,169.9 l-3.5,-4.5" stroke="#e8eaf2" stroke-width="0.9"/><path d="M224.2,138.1 l5.1,-3.3" stroke="#8490b8" stroke-width="0.9"/><path d="M212.6,109.2 l-0.7,-4.5" stroke="#a0a8c4" stroke-width="0.9"/><path d="M178.4,117.4 l-1.1,-4.0" stroke="#6a76a4" stroke-width="0.9"/><path d="M269.9,98.1 l-0.1,-3.9" stroke="#b0b8d0" stroke-width="0.9"/><path d="M281.8,106.5 l3.6,-0.8" stroke="#2c3c76" stroke-width="0.9"/><path d="M258.7,135.1 l-3.2,-1.9" stroke="#e8eaf2" stroke-width="0.9"/><path d="M241.3,102.4 l2.0,-2.9" stroke="#2c3c76" stroke-width="0.9"/><path d="M280.5,97.2 l0.3,-5.4" stroke="#2c3c76" stroke-width="0.9"/><path d="M304.9,94.4 l-1.4,-3.4" stroke="#2c3c76" stroke-width="0.9"/><path d="M248.6,100.9 l-1.9,-3.1" stroke="#8490b8" stroke-width="0.9"/><path d="M186.2,153.4 l2.5,-5.7" stroke="#6a76a4" stroke-width="0.9"/><path d="M224.1,190.9 l4.3,2.6" stroke="#b0b8d0" stroke-width="0.9"/><path d="M218.6,102.2 l5.4,-2.0" stroke="#8490b8" stroke-width="0.9"/><path d="M207.9,121.8 l-1.4,-5.9" stroke="#d0d4e2" stroke-width="0.9"/><path d="M251.7,139.9 l-5.3,-3.6" stroke="#b0b8d0" stroke-width="0.9"/><path d="M267.0,111.4 l1.0,-3.6" stroke="#b0b8d0" stroke-width="0.9"/><path d="M194.6,190.9 l-2.4,-2.7" stroke="#a0a8c4" stroke-width="0.9"/><path d="M199.6,154.4 l-2.8,-2.3" stroke="#6a76a4" stroke-width="0.9"/><path d="M209.1,194.2 l2.2,-5.7" stroke="#d0d4e2" stroke-width="0.9"/><path d="M276.5,108.8 l-4.2,-3.9" stroke="#b0b8d0" stroke-width="0.9"/><path d="M223.9,115.1 l-1.8,-6.0" stroke="#e8eaf2" stroke-width="0.9"/><path d="M289.7,119.1 l4.2,-2.7" stroke="#8490b8" stroke-width="0.9"/><path d="M242.4,127.9 l-3.2,4.6" stroke="#2c3c76" stroke-width="0.9"/><path d="M222.8,127.8 l-2.4,-5.2" stroke="#e8eaf2" stroke-width="0.9"/><path d="M178.7,134.8 l2.4,-3.2" stroke="#d0d4e2" stroke-width="0.9"/><path d="M202.8,176.4 l0.5,4.0" stroke="#a0a8c4" stroke-width="0.9"/><path d="M265.6,85.4 l-4.6,-4.2" stroke="#a0a8c4" stroke-width="0.9"/><path d="M243.9,154.7 l-1.8,-4.4" stroke="#2c3c76" stroke-width="0.9"/><path d="M256.2,120.6 l0.5,4.9" stroke="#2c3c76" stroke-width="0.9"/><path d="M264.4,113.4 l1.7,-3.9" stroke="#b0b8d0" stroke-width="0.9"/><path d="M197.7,131.1 l0.3,4.1" stroke="#6a76a4" stroke-width="0.9"/><path d="M272.1,116.6 l3.5,-2.4" stroke="#e8eaf2" stroke-width="0.9"/><path d="M203.7,156.2 l-2.6,-3.0" stroke="#6a76a4" stroke-width="0.9"/><path d="M208.6,153.7 l-2.6,-3.9" stroke="#a0a8c4" stroke-width="0.9"/><path d="M180.0,181.4 l-3.4,-5.5" stroke="#6a76a4" stroke-width="0.9"/><path d="M250.3,90.2 l-1.0,-5.6" stroke="#d0d4e2" stroke-width="0.9"/><path d="M269.1,101.3 l-3.3,-3.4" stroke="#8490b8" stroke-width="0.9"/><path d="M276.0,84.5 l3.2,-4.6" stroke="#8a94b4" stroke-width="0.9"/><path d="M217.0,126.2 l1.3,-4.5" stroke="#b0b8d0" stroke-width="0.9"/><path d="M179.7,178.5 l3.3,2.6" stroke="#8a94b4" stroke-width="0.9"/><path d="M203.1,172.1 l-3.8,-0.5" stroke="#d0d4e2" stroke-width="0.9"/><path d="M242.0,193.3 l1.9,-4.3" stroke="#e8eaf2" stroke-width="0.9"/><path d="M277.5,104.3 l-2.9,-2.3" stroke="#2c3c76" stroke-width="0.9"/><path d="M268.5,86.0 l-1.2,-6.2" stroke="#8a94b4" stroke-width="0.9"/><path d="M250.1,93.1 l5.4,2.5" stroke="#b0b8d0" stroke-width="0.9"/><path d="M213.3,195.4 l1.8,-5.7" stroke="#d0d4e2" stroke-width="0.9"/><path d="M251.0,109.7 l-4.2,-4.3" stroke="#8490b8" stroke-width="0.9"/><path d="M300.2,101.5 l-2.5,-6.0" stroke="#b0b8d0" stroke-width="0.9"/><path d="M280.1,113.0 l1.0,-3.6" stroke="#8490b8" stroke-width="0.9"/><path d="M201.8,110.8 l-3.9,-3.4" stroke="#6a76a4" stroke-width="0.9"/><path d="M201.8,187.7 l3.0,5.4" stroke="#a0a8c4" stroke-width="0.9"/><path d="M208.8,160.7 l2.4,-4.2" stroke="#a0a8c4" stroke-width="0.9"/><path d="M264.6,105.9 l-3.3,-3.7" stroke="#e8eaf2" stroke-width="0.9"/><path d="M287.3,103.6 l1.3,-5.6" stroke="#b0b8d0" stroke-width="0.9"/><path d="M243.3,195.0 l1.6,-5.2" stroke="#e8eaf2" stroke-width="0.9"/><path d="M242.8,88.2 l1.6,-4.2" stroke="#8a94b4" stroke-width="0.9"/><path d="M222.3,115.8 l-3.5,-2.7" stroke="#8490b8" stroke-width="0.9"/><path d="M256.6,106.8 l4.7,-2.9" stroke="#e8eaf2" stroke-width="0.9"/><path d="M229.6,112.6 l1.1,-5.3" stroke="#e8eaf2" stroke-width="0.9"/><path d="M240.2,142.9 l0.8,-4.6" stroke="#e8eaf2" stroke-width="0.9"/><path d="M284.2,99.2 l-0.4,-5.8" stroke="#e8eaf2" stroke-width="0.9"/><path d="M243.8,84.9 l6.1,0.5" stroke="#8a94b4" stroke-width="0.9"/><path d="M218.2,110.7 l-1.7,-4.5" stroke="#2c3c76" stroke-width="0.9"/><path d="M196.5,175.7 l3.8,-3.0" stroke="#a0a8c4" stroke-width="0.9"/><path d="M202.2,170.5 l-3.7,-3.2" stroke="#8a94b4" stroke-width="0.9"/><path d="M275.8,126.7 l2.4,-6.0" stroke="#e8eaf2" stroke-width="0.9"/><path d="M251.7,107.3 l-0.5,-5.7" stroke="#e8eaf2" stroke-width="0.9"/><path d="M235.1,167.6 l-3.8,-4.3" stroke="#8490b8" stroke-width="0.9"/><path d="M217.6,195.4 l3.5,0.3" stroke="#2c3c76" stroke-width="0.9"/><path d="M190.4,111.8 l3.1,5.3" stroke="#d0d4e2" stroke-width="0.9"/><path d="M273.0,112.5 l-0.7,-4.9" stroke="#b0b8d0" stroke-width="0.9"/><path d="M200.6,174.1 l1.7,-5.1" stroke="#d0d4e2" stroke-width="0.9"/><path d="M248.6,106.8 l-2.2,3.8" stroke="#2c3c76" stroke-width="0.9"/><path d="M226.1,126.9 l-4.0,3.9" stroke="#2c3c76" stroke-width="0.9"/><path d="M298.3,102.0 l1.8,-4.1" stroke="#8490b8" stroke-width="0.9"/><path d="M243.9,147.1 l2.8,-2.4" stroke="#b0b8d0" stroke-width="0.9"/><path d="M267.2,107.1 l1.9,-5.2" stroke="#2c3c76" stroke-width="0.9"/><path d="M209.3,168.0 l0.5,5.3" stroke="#d0d4e2" stroke-width="0.9"/><path d="M250.6,98.4 l3.1,-5.0" stroke="#2c3c76" stroke-width="0.9"/><path d="M240.1,138.7 l2.9,-3.4" stroke="#2c3c76" stroke-width="0.9"/><path d="M269.9,96.2 l-3.4,-4.5" stroke="#8490b8" stroke-width="0.9"/><path d="M268.1,117.9 l2.6,-3.3" stroke="#2c3c76" stroke-width="0.9"/><path d="M236.4,85.6 l2.3,-3.2" stroke="#a0a8c4" stroke-width="0.9"/><path d="M231.8,138.5 l-5.3,-3.7" stroke="#2c3c76" stroke-width="0.9"/><path d="M218.8,171.7 l4.7,-3.3" stroke="#2c3c76" stroke-width="0.9"/><path d="M186.0,143.3 l-6.1,1.7" stroke="#a0a8c4" stroke-width="0.9"/><path d="M192.0,112.8 l-4.7,-4.2" stroke="#d0d4e2" stroke-width="0.9"/><path d="M206.5,180.8 l-2.9,-4.9" stroke="#8a94b4" stroke-width="0.9"/><path d="M232.9,187.6 l1.9,-3.1" stroke="#2c3c76" stroke-width="0.9"/><path d="M200.6,168.6 l-2.0,-3.9" stroke="#d0d4e2" stroke-width="0.9"/><path d="M228.5,104.9 l-0.1,-4.0" stroke="#b0b8d0" stroke-width="0.9"/><path d="M202.5,178.6 l1.2,-4.5" stroke="#8a94b4" stroke-width="0.9"/><path d="M235.1,114.5 l2.1,4.4" stroke="#b0b8d0" stroke-width="0.9"/><path d="M246.5,91.1 l-1.7,-3.1" stroke="#6a76a4" stroke-width="0.9"/><path d="M230.2,93.5 l-2.2,-5.8" stroke="#a0a8c4" stroke-width="0.9"/><path d="M201.9,137.7 l3.7,-5.1" stroke="#d0d4e2" stroke-width="0.9"/><path d="M245.4,105.5 l-2.4,-4.0" stroke="#2c3c76" stroke-width="0.9"/><path d="M291.3,109.6 l5.9,0.6" stroke="#8490b8" stroke-width="0.9"/><path d="M257.7,128.7 l4.1,-1.5" stroke="#8490b8" stroke-width="0.9"/><path d="M245.9,188.7 l0.7,-3.9" stroke="#b0b8d0" stroke-width="0.9"/><path d="M259.4,101.5 l1.4,-5.8" stroke="#2c3c76" stroke-width="0.9"/><path d="M208.0,111.4 l2.1,-4.6" stroke="#a0a8c4" stroke-width="0.9"/><path d="M258.9,116.5 l2.0,-6.0" stroke="#e8eaf2" stroke-width="0.9"/><path d="M180.4,188.5 l3.1,-3.0" stroke="#8a94b4" stroke-width="0.9"/><path d="M183.7,161.9 l3.2,-3.3" stroke="#d0d4e2" stroke-width="0.9"/><path d="M233.6,103.3 l5.0,-3.1" stroke="#2c3c76" stroke-width="0.9"/><path d="M182.0,175.0 l-1.9,-3.3" stroke="#8a94b4" stroke-width="0.9"/><path d="M204.2,111.9 l2.9,-2.0" stroke="#8a94b4" stroke-width="0.9"/><path d="M218.8,179.2 l-0.2,-4.2" stroke="#2c3c76" stroke-width="0.9"/><path d="M194.0,183.3 l3.7,1.1" stroke="#d0d4e2" stroke-width="0.9"/><path d="M213.5,101.1 l-0.3,-4.7" stroke="#a0a8c4" stroke-width="0.9"/><path d="M243.6,179.5 l-1.2,-6.2" stroke="#8490b8" stroke-width="0.9"/><path d="M230.8,102.8 l-0.7,-6.4" stroke="#8490b8" stroke-width="0.9"/><path d="M186.4,138.2 l3.9,-1.7" stroke="#d0d4e2" stroke-width="0.9"/><path d="M228.6,97.7 l-2.5,-4.0" stroke="#2c3c76" stroke-width="0.9"/><path d="M183.4,154.1 l1.7,-4.0" stroke="#a0a8c4" stroke-width="0.9"/><path d="M274.9,104.1 l-0.8,-6.3" stroke="#8490b8" stroke-width="0.9"/><path d="M195.6,116.5 l-5.0,-4.0" stroke="#6a76a4" stroke-width="0.9"/><path d="M191.2,147.6 l-4.7,1.9" stroke="#6a76a4" stroke-width="0.9"/><path d="M220.8,166.2 l-1.1,4.7" stroke="#2c3c76" stroke-width="0.9"/><path d="M212.6,121.5 l-1.6,-6.0" stroke="#6a76a4" stroke-width="0.9"/><path d="M226.4,103.0 l0.2,-4.6" stroke="#2c3c76" stroke-width="0.9"/><path d="M239.8,190.3 l3.7,-2.5" stroke="#8490b8" stroke-width="0.9"/><path d="M254.7,108.5 l-1.6,5.6" stroke="#b0b8d0" stroke-width="0.9"/><path d="M232.3,156.2 l3.0,-3.4" stroke="#e8eaf2" stroke-width="0.9"/><path d="M243.0,157.5 l-3.0,-4.4" stroke="#8490b8" stroke-width="0.9"/><path d="M267.2,125.5 l3.7,-3.8" stroke="#2c3c76" stroke-width="0.9"/><path d="M222.9,117.1 l0.4,-5.3" stroke="#8490b8" stroke-width="0.9"/><path d="M179.1,167.5 l-3.2,3.0" stroke="#6a76a4" stroke-width="0.9"/><path d="M236.8,101.7 l-3.1,5.6" stroke="#2c3c76" stroke-width="0.9"/><path d="M209.9,126.6 l3.6,0.2" stroke="#d0d4e2" stroke-width="0.9"/><path d="M224.8,140.7 l1.3,-4.6" stroke="#2c3c76" stroke-width="0.9"/><path d="M250.4,77.2 l-0.3,-3.5" stroke="#a0a8c4" stroke-width="0.9"/><path d="M259.9,84.7 l-1.0,-5.1" stroke="#8a94b4" stroke-width="0.9"/><path d="M253.9,128.3 l4.0,-2.2" stroke="#2c3c76" stroke-width="0.9"/><path d="M234.6,118.9 l-1.5,-3.7" stroke="#8490b8" stroke-width="0.9"/><path d="M243.7,92.0 l0.2,-5.0" stroke="#8a94b4" stroke-width="0.9"/><path d="M266.1,85.6 l1.7,-5.4" stroke="#d0d4e2" stroke-width="0.9"/><path d="M258.2,90.4 l0.9,-3.8" stroke="#2c3c76" stroke-width="0.9"/><path d="M298.2,113.3 l-2.4,3.2" stroke="#8490b8" stroke-width="0.9"/><path d="M207.9,151.9 l-2.5,-4.0" stroke="#a0a8c4" stroke-width="0.9"/><path d="M246.6,151.4 l-5.1,-3.7" stroke="#b0b8d0" stroke-width="0.9"/><path d="M227.1,187.1 l-1.8,5.0" stroke="#2c3c76" stroke-width="0.9"/><path d="M269.2,124.9 l1.6,-3.2" stroke="#b0b8d0" stroke-width="0.9"/><path d="M234.6,114.9 l-2.8,4.7" stroke="#e8eaf2" stroke-width="0.9"/><path d="M243.9,188.9 l-1.0,-4.8" stroke="#8490b8" stroke-width="0.9"/><path d="M281.6,115.7 l1.7,-3.4" stroke="#8490b8" stroke-width="0.9"/><path d="M264.6,131.8 l0.3,4.6" stroke="#b0b8d0" stroke-width="0.9"/><path d="M213.5,129.9 l1.9,-3.8" stroke="#d0d4e2" stroke-width="0.9"/><path d="M269.7,119.1 l1.0,-4.0" stroke="#e8eaf2" stroke-width="0.9"/><path d="M290.0,90.6 l2.5,-5.0" stroke="#b0b8d0" stroke-width="0.9"/><path d="M228.1,156.8 l0.7,-4.5" stroke="#2c3c76" stroke-width="0.9"/><path d="M296.3,96.7 l3.7,2.3" stroke="#2c3c76" stroke-width="0.9"/><path d="M222.0,123.6 l0.9,-6.1" stroke="#b0b8d0" stroke-width="0.9"/><path d="M235.2,174.3 l2.7,-2.3" stroke="#2c3c76" stroke-width="0.9"/><path d="M216.8,180.4 l1.2,-3.9" stroke="#e8eaf2" stroke-width="0.9"/><path d="M220.3,149.9 l1.8,-4.4" stroke="#2c3c76" stroke-width="0.9"/><path d="M225.3,120.7 l-2.0,-5.0" stroke="#b0b8d0" stroke-width="0.9"/><path d="M266.1,101.1 l0.4,-6.3" stroke="#2c3c76" stroke-width="0.9"/><path d="M195.3,173.3 l4.5,-3.6" stroke="#a0a8c4" stroke-width="0.9"/><path d="M243.1,167.2 l-3.1,-2.8" stroke="#2c3c76" stroke-width="0.9"/><path d="M192.0,193.1 l4.4,-3.4" stroke="#d0d4e2" stroke-width="0.9"/><path d="M210.1,158.2 l0.9,-4.9" stroke="#8a94b4" stroke-width="0.9"/><path d="M184.8,162.0 l-0.4,5.1" stroke="#8a94b4" stroke-width="0.9"/><path d="M262.9,104.0 l-1.3,-4.6" stroke="#b0b8d0" stroke-width="0.9"/><path d="M277.3,89.6 l-0.0,-4.9" stroke="#b0b8d0" stroke-width="0.9"/><path d="M178.9,160.5 l1.7,-5.3" stroke="#8a94b4" stroke-width="0.9"/><path d="M265.9,114.7 l-5.5,-1.7" stroke="#b0b8d0" stroke-width="0.9"/><path d="M283.6,91.8 l2.5,-4.0" stroke="#b0b8d0" stroke-width="0.9"/><path d="M195.9,109.0 l-2.1,-3.0" stroke="#6a76a4" stroke-width="0.9"/><path d="M226.2,195.2 l-0.5,-5.2" stroke="#8490b8" stroke-width="0.9"/><path d="M179.7,199.0 l4.9,2.8" stroke="#6a76a4" stroke-width="0.9"/><path d="M195.0,134.6 l-3.0,-4.1" stroke="#a0a8c4" stroke-width="0.9"/><path d="M222.6,150.5 l-1.7,-5.2" stroke="#e8eaf2" stroke-width="0.9"/><path d="M224.2,95.8 l4.3,-4.6" stroke="#8a94b4" stroke-width="0.9"/><path d="M193.9,164.0 l1.2,-4.5" stroke="#6a76a4" stroke-width="0.9"/><path d="M227.9,119.2 l-1.5,-5.8" stroke="#b0b8d0" stroke-width="0.9"/><path d="M244.0,165.5 l-4.3,-3.2" stroke="#b0b8d0" stroke-width="0.9"/><path d="M285.3,92.9 l3.2,-2.0" stroke="#e8eaf2" stroke-width="0.9"/><path d="M212.1,119.7 l1.5,-5.8" stroke="#d0d4e2" stroke-width="0.9"/><path d="M186.6,163.0 l3.3,1.4" stroke="#8a94b4" stroke-width="0.9"/><path d="M224.1,128.7 l-1.2,-3.9" stroke="#e8eaf2" stroke-width="0.9"/><path d="M244.8,140.4 l-3.0,-3.6" stroke="#2c3c76" stroke-width="0.9"/><path d="M187.4,158.6 l-2.1,-4.8" stroke="#6a76a4" stroke-width="0.9"/><path d="M224.7,116.0 l4.0,0.7" stroke="#2c3c76" stroke-width="0.9"/><path d="M285.9,90.8 l0.9,-6.3" stroke="#8490b8" stroke-width="0.9"/><path d="M239.8,86.6 l3.8,-3.4" stroke="#a0a8c4" stroke-width="0.9"/><path d="M212.5,179.2 l-3.3,-4.4" stroke="#d0d4e2" stroke-width="0.9"/><path d="M213.4,130.6 l2.4,-5.2" stroke="#a0a8c4" stroke-width="0.9"/><path d="M256.5,136.9 l5.1,-1.7" stroke="#2c3c76" stroke-width="0.9"/><path d="M193.9,178.3 l-4.0,-5.0" stroke="#d0d4e2" stroke-width="0.9"/><path d="M215.0,119.7 l0.9,-4.0" stroke="#8490b8" stroke-width="0.9"/><path d="M195.9,165.2 l-1.5,-5.8" stroke="#a0a8c4" stroke-width="0.9"/><path d="M236.2,166.4 l-0.6,-3.6" stroke="#2c3c76" stroke-width="0.9"/><path d="M233.1,117.5 l0.8,-3.5" stroke="#b0b8d0" stroke-width="0.9"/><path d="M217.7,96.7 l3.5,-3.9" stroke="#a0a8c4" stroke-width="0.9"/><path d="M201.4,191.2 l-2.9,-5.3" stroke="#6a76a4" stroke-width="0.9"/><path d="M180.2,115.8 l0.2,-6.1" stroke="#a0a8c4" stroke-width="0.9"/><path d="M189.6,151.4 l1.4,-5.9" stroke="#8a94b4" stroke-width="0.9"/><path d="M213.8,194.6 l-1.4,-4.9" stroke="#6a76a4" stroke-width="0.9"/><path d="M234.3,131.9 l-1.0,-4.5" stroke="#e8eaf2" stroke-width="0.9"/><path d="M230.3,133.9 l-3.0,-5.4" stroke="#2c3c76" stroke-width="0.9"/><path d="M282.7,106.9 l0.1,-4.3" stroke="#2c3c76" stroke-width="0.9"/><path d="M199.7,161.4 l3.1,-2.2" stroke="#8a94b4" stroke-width="0.9"/><path d="M277.0,118.5 l3.7,-4.9" stroke="#b0b8d0" stroke-width="0.9"/><path d="M284.3,110.9 l-0.3,-5.0" stroke="#b0b8d0" stroke-width="0.9"/><path d="M232.7,142.5 l-3.5,-2.8" stroke="#8490b8" stroke-width="0.9"/><path d="M241.2,122.7 l4.7,-2.3" stroke="#b0b8d0" stroke-width="0.9"/><path d="M225.0,111.5 l-6.0,-2.0" stroke="#8490b8" stroke-width="0.9"/><path d="M225.5,117.2 l4.7,-3.0" stroke="#e8eaf2" stroke-width="0.9"/><path d="M205.3,186.9 l2.9,-4.5" stroke="#8a94b4" stroke-width="0.9"/><path d="M287.9,99.9 l-3.0,-4.4" stroke="#2c3c76" stroke-width="0.9"/><path d="M279.1,97.2 l5.2,-1.2" stroke="#e8eaf2" stroke-width="0.9"/><path d="M189.5,176.5 l1.6,-3.1" stroke="#6a76a4" stroke-width="0.9"/><path d="M211.1,113.8 l-2.8,-3.8" stroke="#6a76a4" stroke-width="0.9"/><path d="M205.2,182.5 l4.6,2.8" stroke="#d0d4e2" stroke-width="0.9"/><path d="M182.0,112.6 l-1.7,-4.4" stroke="#6a76a4" stroke-width="0.9"/><path d="M210.8,139.8 l-2.9,3.6" stroke="#6a76a4" stroke-width="0.9"/><path d="M271.8,114.3 l-0.3,5.6" stroke="#e8eaf2" stroke-width="0.9"/><path d="M299.1,111.6 l4.8,-0.7" stroke="#8490b8" stroke-width="0.9"/><path d="M234.4,139.8 l-2.5,-4.5" stroke="#e8eaf2" stroke-width="0.9"/><path d="M234.5,198.7 l2.0,-3.2" stroke="#e8eaf2" stroke-width="0.9"/><path d="M275.4,87.6 l-3.3,-4.8" stroke="#6a76a4" stroke-width="0.9"/><path d="M299.4,103.1 l-5.4,0.0" stroke="#8490b8" stroke-width="0.9"/><path d="M211.1,173.1 l1.2,-3.3" stroke="#d0d4e2" stroke-width="0.9"/><path d="M283.2,116.9 l-1.5,-6.0" stroke="#2c3c76" stroke-width="0.9"/><path d="M213.0,104.2 l-0.5,-4.2" stroke="#8a94b4" stroke-width="0.9"/><path d="M228.9,126.5 l3.6,-3.4" stroke="#2c3c76" stroke-width="0.9"/><path d="M178.6,183.6 l-1.9,-5.0" stroke="#d0d4e2" stroke-width="0.9"/><path d="M245.8,89.9 l-2.4,-5.4" stroke="#8a94b4" stroke-width="0.9"/><path d="M204.3,159.4 l-1.9,-5.9" stroke="#d0d4e2" stroke-width="0.9"/><path d="M183.9,136.6 l-0.5,-3.8" stroke="#a0a8c4" stroke-width="0.9"/><path d="M185.5,186.4 l-4.6,-4.5" stroke="#8a94b4" stroke-width="0.9"/><path d="M212.9,141.2 l0.8,-6.4" stroke="#6a76a4" stroke-width="0.9"/><path d="M190.1,196.2 l4.1,-0.7" stroke="#a0a8c4" stroke-width="0.9"/><path d="M220.6,94.7 l-2.8,-2.3" stroke="#a0a8c4" stroke-width="0.9"/><path d="M241.7,143.2 l-4.7,-3.0" stroke="#2c3c76" stroke-width="0.9"/><path d="M240.3,112.7 l4.0,-2.5" stroke="#2c3c76" stroke-width="0.9"/><path d="M215.3,136.1 l-2.0,-5.3" stroke="#b0b8d0" stroke-width="0.9"/><path d="M191.5,151.5 l2.2,-4.2" stroke="#6a76a4" stroke-width="0.9"/><path d="M268.1,132.6 l-0.2,-4.5" stroke="#2c3c76" stroke-width="0.9"/><path d="M237.1,163.2 l0.4,-5.3" stroke="#8490b8" stroke-width="0.9"/><path d="M189.2,174.1 l4.6,-3.6" stroke="#6a76a4" stroke-width="0.9"/><path d="M252.4,100.3 l4.0,-3.1" stroke="#2c3c76" stroke-width="0.9"/><path d="M235.1,158.2 l1.4,-3.8" stroke="#e8eaf2" stroke-width="0.9"/><path d="M228.2,118.3 l-4.3,2.1" stroke="#8490b8" stroke-width="0.9"/><path d="M236.5,118.7 l0.3,-4.4" stroke="#e8eaf2" stroke-width="0.9"/><path d="M220.9,109.2 l-3.9,-3.8" stroke="#b0b8d0" stroke-width="0.9"/><path d="M296.4,91.2 l-1.3,-4.9" stroke="#b0b8d0" stroke-width="0.9"/><path d="M303.0,104.4 l-3.7,-2.2" stroke="#2c3c76" stroke-width="0.9"/><path d="M205.8,163.9 l-1.4,-4.0" stroke="#d0d4e2" stroke-width="0.9"/><path d="M192.2,153.4 l1.4,4.6" stroke="#6a76a4" stroke-width="0.9"/><path d="M274.4,119.6 l-0.5,-4.6" stroke="#8490b8" stroke-width="0.9"/><path d="M272.8,104.9 l2.7,-2.8" stroke="#2c3c76" stroke-width="0.9"/><path d="M207.9,196.3 l-3.8,4.0" stroke="#6a76a4" stroke-width="0.9"/><path d="M247.5,122.3 l4.4,-3.2" stroke="#e8eaf2" stroke-width="0.9"/><path d="M194.8,144.1 l-1.5,-4.6" stroke="#d0d4e2" stroke-width="0.9"/><path d="M240.0,89.3 l4.2,0.3" stroke="#8a94b4" stroke-width="0.9"/><path d="M190.0,176.6 l-4.3,-3.8" stroke="#d0d4e2" stroke-width="0.9"/><path d="M186.6,159.2 l-3.6,0.4" stroke="#d0d4e2" stroke-width="0.9"/><path d="M275.7,113.0 l3.5,-2.1" stroke="#2c3c76" stroke-width="0.9"/><path d="M220.8,105.6 l-2.9,-5.4" stroke="#2c3c76" stroke-width="0.9"/><path d="M239.6,185.4 l-1.6,-3.9" stroke="#2c3c76" stroke-width="0.9"/><path d="M218.1,97.9 l0.5,-4.6" stroke="#d0d4e2" stroke-width="0.9"/><path d="M200.0,191.1 l-0.4,-5.6" stroke="#a0a8c4" stroke-width="0.9"/><path d="M188.6,193.8 l4.1,0.9" stroke="#d0d4e2" stroke-width="0.9"/><path d="M223.5,163.0 l-4.1,-2.7" stroke="#2c3c76" stroke-width="0.9"/><path d="M206.1,181.8 l-4.1,-4.5" stroke="#d0d4e2" stroke-width="0.9"/><path d="M206.1,190.1 l3.0,-4.0" stroke="#6a76a4" stroke-width="0.9"/><path d="M202.8,171.5 l-4.9,-0.5" stroke="#8a94b4" stroke-width="0.9"/><path d="M242.7,156.3 l4.3,-3.6" stroke="#b0b8d0" stroke-width="0.9"/><path d="M247.6,169.0 l1.6,-5.4" stroke="#b0b8d0" stroke-width="0.9"/><path d="M226.3,105.0 l-3.5,-5.3" stroke="#b0b8d0" stroke-width="0.9"/><path d="M237.3,154.0 l0.4,-3.8" stroke="#2c3c76" stroke-width="0.9"/><path d="M230.0,123.4 l-1.6,-5.2" stroke="#b0b8d0" stroke-width="0.9"/><path d="M260.1,109.2 l2.6,-4.3" stroke="#e8eaf2" stroke-width="0.9"/><path d="M209.3,107.8 l1.1,-5.7" stroke="#8a94b4" stroke-width="0.9"/><path d="M199.8,106.7 l2.3,-3.5" stroke="#6a76a4" stroke-width="0.9"/><path d="M183.1,148.6 l-3.5,5.3" stroke="#6a76a4" stroke-width="0.9"/><path d="M185.8,114.6 l-2.8,-5.0" stroke="#8a94b4" stroke-width="0.9"/><path d="M195.1,178.5 l-0.8,-4.8" stroke="#a0a8c4" stroke-width="0.9"/><path d="M258.1,84.4 l-3.6,-3.8" stroke="#6a76a4" stroke-width="0.9"/><path d="M189.9,165.1 l-3.5,4.2" stroke="#a0a8c4" stroke-width="0.9"/><path d="M229.7,179.8 l-3.9,0.5" stroke="#e8eaf2" stroke-width="0.9"/><path d="M201.9,106.6 l-1.4,-4.0" stroke="#a0a8c4" stroke-width="0.9"/><path d="M257.1,119.0 l-0.7,-4.0" stroke="#b0b8d0" stroke-width="0.9"/><path d="M261.4,102.7 l-2.6,-2.5" stroke="#2c3c76" stroke-width="0.9"/><path d="M210.9,167.2 l-3.7,-4.7" stroke="#a0a8c4" stroke-width="0.9"/><path d="M244.1,151.9 l0.6,-3.8" stroke="#2c3c76" stroke-width="0.9"/><path d="M211.9,103.2 l-5.9,-0.5" stroke="#8a94b4" stroke-width="0.9"/><path d="M189.4,115.2 l-3.2,-4.9" stroke="#8a94b4" stroke-width="0.9"/><path d="M241.5,83.3 l2.7,-4.8" stroke="#8a94b4" stroke-width="0.9"/><path d="M209.8,190.4 l1.6,-3.3" stroke="#a0a8c4" stroke-width="0.9"/><path d="M277.3,97.5 l4.0,-4.3" stroke="#e8eaf2" stroke-width="0.9"/><path d="M255.4,105.2 l-1.4,-3.4" stroke="#2c3c76" stroke-width="0.9"/><path d="M270.1,127.7 l1.3,-6.0" stroke="#8490b8" stroke-width="0.9"/><path d="M188.6,172.2 l0.0,-6.0" stroke="#8a94b4" stroke-width="0.9"/><path d="M208.9,130.6 l0.0,-6.2" stroke="#a0a8c4" stroke-width="0.9"/><path d="M239.2,172.3 l-2.6,-5.8" stroke="#2c3c76" stroke-width="0.9"/><path d="M241.4,83.1 l3.0,-3.4" stroke="#d0d4e2" stroke-width="0.9"/><path d="M195.3,176.0 l1.2,-4.7" stroke="#6a76a4" stroke-width="0.9"/><path d="M263.1,82.6 l-0.2,-3.6" stroke="#6a76a4" stroke-width="0.9"/><path d="M196.8,159.4 l2.6,-3.1" stroke="#6a76a4" stroke-width="0.9"/><path d="M229.9,91.3 l-1.7,-5.7" stroke="#d0d4e2" stroke-width="0.9"/><path d="M226.1,112.8 l1.3,-5.1" stroke="#b0b8d0" stroke-width="0.9"/><path d="M216.4,144.4 l2.7,-4.8" stroke="#2c3c76" stroke-width="0.9"/><path d="M281.9,89.3 l-0.1,4.7" stroke="#2c3c76" stroke-width="0.9"/><path d="M236.6,138.8 l3.8,-3.2" stroke="#8490b8" stroke-width="0.9"/><path d="M196.6,120.3 l0.2,-4.0" stroke="#d0d4e2" stroke-width="0.9"/><path d="M183.5,113.6 l5.1,-3.5" stroke="#8a94b4" stroke-width="0.9"/><path d="M207.3,189.5 l3.5,-1.9" stroke="#6a76a4" stroke-width="0.9"/><path d="M275.9,102.9 l5.1,0.8" stroke="#2c3c76" stroke-width="0.9"/><path d="M283.5,120.7 l-1.4,-5.4" stroke="#8490b8" stroke-width="0.9"/><path d="M228.6,178.7 l-4.1,-3.1" stroke="#b0b8d0" stroke-width="0.9"/><path d="M209.3,175.4 l-1.9,-4.7" stroke="#6a76a4" stroke-width="0.9"/><path d="M234.2,160.8 l3.7,-3.3" stroke="#2c3c76" stroke-width="0.9"/><path d="M228.1,128.1 l-2.2,-4.1" stroke="#2c3c76" stroke-width="0.9"/></g>
<g clip-path="url(#slabclipG)"><g transform="matrix(0.843,-0.49,0,0.919,250.5,144.5)">
<g>
<rect x="0" y="0" width="100" height="100" fill="url(#slabg)"/>
<ellipse cx="29" cy="50" rx="5" ry="24" fill="#b80c10" filter="url(#blur1)"/>
<ellipse cx="68" cy="42" rx="4.5" ry="22" fill="#2030b0" filter="url(#blur1)"/>
<ellipse cx="46" cy="40" rx="6" ry="14" fill="#c8d040" opacity="0.6" filter="url(#blur1)"/>
<path d="M2.6,1.9L5.6,-2.7M5.6,-2.7l-0.1,2.2M5.6,-2.7l-2.0,1.0M2.9,9.2L6.5,5.2M6.5,5.2l-0.4,2.2M6.5,5.2l-2.1,0.6M1.8,15.3L6.0,11.8M6.0,11.8l-0.7,2.1M6.0,11.8l-2.2,0.3M1.1,22.6L3.9,17.8M3.9,17.8l0.0,2.2M3.9,17.8l-1.9,1.0M2.3,30.7L4.2,25.5M4.2,25.5l0.4,2.2M4.2,25.5l-1.7,1.4M1.2,36.8L3.3,31.7M3.3,31.7l0.3,2.2M3.3,31.7l-1.8,1.3M1.8,44.6L3.5,39.4M3.5,39.4l0.5,2.1M3.5,39.4l-1.7,1.4M1.2,50.9L-0.4,45.7M-0.4,45.7l1.7,1.4M-0.4,45.7l-0.5,2.1M2.1,58.4L0.5,53.1M0.5,53.1l1.6,1.5M0.5,53.1l-0.5,2.1M2.2,64.7L2.1,59.2M2.1,59.2l1.2,1.9M2.1,59.2l-1.1,1.9M2.8,72.8L-0.8,68.6M-0.8,68.6l2.1,0.7M-0.8,68.6l0.4,2.2M2.2,79.7L0.2,74.5M0.2,74.5l1.7,1.3M0.2,74.5l-0.4,2.2M2.4,86.9L-1.8,83.3M-1.8,83.3l2.2,0.3M-1.8,83.3l0.7,2.1M1.4,93.4L-1.7,88.9M-1.7,88.9l2.0,0.9M-1.7,88.9l0.1,2.2M1.2,99.8L-1.9,95.3M-1.9,95.3l2.0,0.9M-1.9,95.3l0.1,2.2M9.6,2.7L13.8,-0.8M13.8,-0.8l-0.7,2.1M13.8,-0.8l-2.2,0.3M9.0,8.7L13.9,6.1M13.9,6.1l-1.1,1.9M13.9,6.1l-2.2,-0.1M9.4,15.3L13.8,12.0M13.8,12.0l-0.8,2.0M13.8,12.0l-2.2,0.2M8.8,23.9L11.5,19.1M11.5,19.1l0.1,2.2M11.5,19.1l-1.9,1.1M8.4,30.4L12.2,26.4M12.2,26.4l-0.5,2.2M12.2,26.4l-2.1,0.6M8.1,36.0L10.3,31.0M10.3,31.0l0.3,2.2M10.3,31.0l-1.8,1.3M8.5,43.9L8.5,38.4M8.5,38.4l1.1,1.9M8.5,38.4l-1.1,1.9M9.5,51.6L9.8,46.1M9.8,46.1l1.0,2.0M9.8,46.1l-1.2,1.8M9.7,57.3L7.7,52.2M7.7,52.2l1.8,1.3M7.7,52.2l-0.4,2.2M9.7,64.5L6.5,60.0M6.5,60.0l2.0,0.9M6.5,60.0l0.2,2.2M8.6,71.1L7.2,65.7M7.2,65.7l1.6,1.5M7.2,65.7l-0.6,2.1M9.9,78.8L5.8,75.1M5.8,75.1l2.2,0.4M5.8,75.1l0.6,2.1M9.3,86.8L5.0,83.3M5.0,83.3l2.2,0.3M5.0,83.3l0.7,2.1M9.8,93.4L6.1,89.4M6.1,89.4l2.1,0.6M6.1,89.4l0.5,2.2M9.2,100.0L4.9,96.6M4.9,96.6l2.2,0.3M4.9,96.6l0.8,2.1M16.8,1.6L21.6,-1.1M21.6,-1.1l-1.1,1.9M21.6,-1.1l-2.2,-0.1M16.1,9.8L20.1,5.9M20.1,5.9l-0.6,2.1M20.1,5.9l-2.1,0.5M15.0,16.0L18.6,11.9M18.6,11.9l-0.4,2.2M18.6,11.9l-2.1,0.7M16.9,22.4L21.1,18.9M21.1,18.9l-0.7,2.1M21.1,18.9l-2.2,0.3M16.5,29.9L20.2,25.8M20.2,25.8l-0.4,2.2M20.2,25.8l-2.1,0.6M17.0,37.2L20.0,32.6M20.0,32.6l-0.1,2.2M20.0,32.6l-2.0,0.9M15.1,44.1L16.2,38.7M16.2,38.7l0.7,2.1M16.2,38.7l-1.5,1.6M16.0,50.6L17.3,45.2M17.3,45.2l0.7,2.1M17.3,45.2l-1.5,1.6M16.9,58.1L14.2,53.3M14.2,53.3l1.9,1.1M14.2,53.3l-0.1,2.2M16.1,65.6L12.5,61.5M12.5,61.5l2.1,0.7M12.5,61.5l0.4,2.2M16.9,72.2L13.5,67.8M13.5,67.8l2.1,0.8M13.5,67.8l0.3,2.2M15.4,78.3L12.0,74.1M12.0,74.1l2.1,0.8M12.0,74.1l0.3,2.2M15.5,85.7L12.0,81.6M12.0,81.6l2.1,0.7M12.0,81.6l0.4,2.2M15.5,92.2L10.3,90.6M10.3,90.6l2.1,-0.6M10.3,90.6l1.5,1.6M15.8,100.9L10.7,98.9M10.7,98.9l2.2,-0.4M10.7,98.9l1.3,1.8M23.3,2.8L28.2,0.1M28.2,0.1l-1.1,1.9M28.2,0.1l-2.2,-0.1M22.7,9.1L28.1,8.0M28.1,8.0l-1.6,1.5M28.1,8.0l-2.1,-0.8M22.5,16.3L27.7,14.6M27.7,14.6l-1.5,1.7M27.7,14.6l-2.1,-0.5M22.9,23.9L28.3,22.8M28.3,22.8l-1.6,1.5M28.3,22.8l-2.1,-0.7M23.2,29.4L28.2,27.1M28.2,27.1l-1.2,1.8M28.2,27.1l-2.2,-0.2M22.2,36.3L26.8,33.2M26.8,33.2l-0.9,2.0M26.8,33.2l-2.2,0.1M22.2,44.8L22.6,39.3M22.6,39.3l1.0,2.0M22.6,39.3l-1.3,1.8M23.6,51.6L23.6,46.1M23.6,46.1l1.1,1.9M23.6,46.1l-1.1,1.9M23.5,57.4L21.2,52.4M21.2,52.4l1.8,1.2M21.2,52.4l-0.2,2.2M23.7,64.6L19.8,60.7M19.8,60.7l2.1,0.6M19.8,60.7l0.5,2.1M22.0,72.5L17.5,69.4M17.5,69.4l2.2,0.1M17.5,69.4l0.9,2.0M22.0,78.7L16.9,76.6M16.9,76.6l2.2,-0.3M16.9,76.6l1.3,1.8M23.7,86.3L18.7,84.0M18.7,84.0l2.2,-0.2M18.7,84.0l1.2,1.8M23.1,93.1L17.9,91.3M17.9,91.3l2.2,-0.4M17.9,91.3l1.4,1.7M23.1,99.6L17.7,98.9M17.7,98.9l2.0,-0.9M17.7,98.9l1.7,1.4M29.2,2.5L34.7,3.0M34.7,3.0l-2.0,1.0M34.7,3.0l-1.8,-1.3M29.8,8.1L35.3,8.7M35.3,8.7l-2.0,0.9M35.3,8.7l-1.7,-1.4M30.5,15.7L35.9,17.0M35.9,17.0l-2.1,0.7M35.9,17.0l-1.6,-1.6M29.7,23.8L35.2,23.6M35.2,23.6l-1.9,1.2M35.2,23.6l-1.9,-1.1M29.2,29.7L34.6,28.7M34.6,28.7l-1.7,1.4M34.6,28.7l-2.1,-0.8M30.8,38.0L36.0,39.7M36.0,39.7l-2.1,0.5M36.0,39.7l-1.4,-1.7M30.1,43.5L35.5,43.2M35.5,43.2l-1.8,1.2M35.5,43.2l-1.9,-1.0M29.7,51.3L25.2,48.1M25.2,48.1l2.2,0.2M25.2,48.1l0.9,2.0M29.4,57.6L24.2,55.8M24.2,55.8l2.1,-0.5M24.2,55.8l1.4,1.7M30.0,65.5L24.6,64.8M24.6,64.8l2.0,-0.9M24.6,64.8l1.7,1.4M29.3,72.8L23.8,72.7M23.8,72.7l1.9,-1.1M23.8,72.7l1.9,1.2M29.3,78.2L23.9,77.2M23.9,77.2l2.1,-0.8M23.9,77.2l1.7,1.5M30.1,85.1L24.7,84.0M24.7,84.0l2.1,-0.8M24.7,84.0l1.6,1.5M30.9,92.2L25.5,91.5M25.5,91.5l2.0,-0.9M25.5,91.5l1.7,1.4M29.4,100.1L24.1,98.7M24.1,98.7l2.1,-0.6M24.1,98.7l1.5,1.6M37.7,1.7L43.0,3.3M43.0,3.3l-2.1,0.5M43.0,3.3l-1.5,-1.6M36.9,9.5L41.7,12.3M41.7,12.3l-2.2,0.0M41.7,12.3l-1.1,-1.9M36.0,15.4L41.4,16.5M41.4,16.5l-2.1,0.7M41.4,16.5l-1.6,-1.5M37.8,22.2L42.1,25.6M42.1,25.6l-2.2,-0.3M42.1,25.6l-0.8,-2.1M37.9,29.9L42.4,33.1M42.4,33.1l-2.2,-0.2M42.4,33.1l-0.9,-2.0M37.8,37.4L40.6,42.1M40.6,42.1l-1.9,-1.1M40.6,42.1l0.0,-2.2M37.5,44.1L39.2,49.4M39.2,49.4l-1.6,-1.5M39.2,49.4l0.5,-2.1M37.7,50.3L37.1,55.8M37.1,55.8l-0.9,-2.0M37.1,55.8l1.3,-1.7M37.7,59.0L34.0,63.0M34.0,63.0l0.4,-2.2M34.0,63.0l2.1,-0.6M36.9,65.8L32.3,68.7M32.3,68.7l1.0,-2.0M32.3,68.7l2.2,-0.1M36.2,72.0L31.4,74.7M31.4,74.7l1.1,-1.9M31.4,74.7l2.2,0.1M37.4,79.6L32.0,80.5M32.0,80.5l1.7,-1.4M32.0,80.5l2.0,0.8M36.0,86.1L30.6,86.8M30.6,86.8l1.7,-1.4M30.6,86.8l2.0,0.9M36.4,93.5L31.0,94.3M31.0,94.3l1.7,-1.4M31.0,94.3l2.0,0.8M36.5,100.8L31.4,102.9M31.4,102.9l1.3,-1.8M31.4,102.9l2.2,0.3M43.0,1.9L48.1,3.9M48.1,3.9l-2.2,0.4M48.1,3.9l-1.4,-1.7M44.9,9.9L49.0,13.5M49.0,13.5l-2.2,-0.4M49.0,13.5l-0.7,-2.1M43.1,16.1L47.6,19.3M47.6,19.3l-2.2,-0.2M47.6,19.3l-0.9,-2.0M43.8,22.1L48.1,25.5M48.1,25.5l-2.2,-0.3M48.1,25.5l-0.8,-2.1M44.0,30.9L46.7,35.7M46.7,35.7l-1.9,-1.1M46.7,35.7l0.0,-2.2M44.8,36.2L48.4,40.3M48.4,40.3l-2.1,-0.7M48.4,40.3l-0.4,-2.2M44.1,44.2L45.9,49.4M45.9,49.4l-1.7,-1.4M45.9,49.4l0.4,-2.2M44.0,51.9L44.0,57.4M44.0,57.4l-1.1,-1.9M44.0,57.4l1.2,-1.9M44.8,57.1L44.8,62.6M44.8,62.6l-1.1,-1.9M44.8,62.6l1.1,-1.9M44.3,64.2L41.3,68.8M41.3,68.8l0.1,-2.2M41.3,68.8l2.0,-1.0M44.2,72.6L40.3,76.5M40.3,76.5l0.5,-2.1M40.3,76.5l2.1,-0.5M44.4,79.3L39.9,82.5M39.9,82.5l0.9,-2.0M39.9,82.5l2.2,-0.2M43.9,86.3L39.2,89.1M39.2,89.1l1.0,-1.9M39.2,89.1l2.2,0.0M43.4,92.4L38.5,94.9M38.5,94.9l1.1,-1.9M38.5,94.9l2.2,0.1M44.7,99.4L39.5,101.2M39.5,101.2l1.4,-1.7M39.5,101.2l2.2,0.5M51.5,2.3L54.7,6.8M54.7,6.8l-2.0,-0.8M54.7,6.8l-0.2,-2.2M51.2,8.2L55.4,11.8M55.4,11.8l-2.2,-0.4M55.4,11.8l-0.7,-2.1M51.4,15.2L55.8,18.5M55.8,18.5l-2.2,-0.2M55.8,18.5l-0.8,-2.0M51.8,24.0L56.0,27.5M56.0,27.5l-2.2,-0.4M56.0,27.5l-0.7,-2.1M50.5,29.6L53.9,34.0M53.9,34.0l-2.1,-0.8M53.9,34.0l-0.3,-2.2M51.0,37.2L53.4,42.1M53.4,42.1l-1.8,-1.2M53.4,42.1l0.2,-2.2M50.4,43.2L52.9,48.1M52.9,48.1l-1.9,-1.2M52.9,48.1l0.2,-2.2M51.4,51.5L52.1,57.0M52.1,57.0l-1.4,-1.7M52.1,57.0l0.9,-2.0M50.8,59.0L48.1,63.8M48.1,63.8l-0.1,-2.2M48.1,63.8l1.9,-1.1M51.1,64.4L48.3,69.1M48.3,69.1l0.0,-2.2M48.3,69.1l1.9,-1.0M51.5,71.2L50.2,76.5M50.2,76.5l-0.6,-2.1M50.2,76.5l1.6,-1.6M50.1,79.5L46.1,83.2M46.1,83.2l0.6,-2.1M46.1,83.2l2.2,-0.5M50.3,86.8L45.6,89.8M45.6,89.8l1.0,-2.0M45.6,89.8l2.2,-0.0M50.1,93.2L46.2,97.1M46.2,97.1l0.5,-2.1M46.2,97.1l2.1,-0.5M50.5,99.3L45.5,101.6M45.5,101.6l1.2,-1.8M45.5,101.6l2.2,0.2M58.7,1.1L53.8,3.6M53.8,3.6l1.2,-1.9M53.8,3.6l2.2,0.1M57.3,8.3L52.0,9.7M52.0,9.7l1.5,-1.6M52.0,9.7l2.1,0.6M58.3,15.9L53.5,18.7M53.5,18.7l1.1,-1.9M53.5,18.7l2.2,0.1M58.5,23.5L54.8,27.6M54.8,27.6l0.4,-2.2M54.8,27.6l2.1,-0.6M58.6,29.0L55.0,33.2M55.0,33.2l0.4,-2.2M55.0,33.2l2.1,-0.7M57.7,37.1L56.2,42.4M56.2,42.4l-0.6,-2.1M56.2,42.4l1.6,-1.5M58.6,43.0L57.2,48.3M57.2,48.3l-0.6,-2.1M57.2,48.3l1.6,-1.5M57.5,50.7L60.2,55.5M60.2,55.5l-1.9,-1.1M60.2,55.5l0.1,-2.2M57.3,57.1L59.0,62.3M59.0,62.3l-1.7,-1.5M59.0,62.3l0.5,-2.1M57.9,64.7L62.6,67.5M62.6,67.5l-2.2,0.0M62.6,67.5l-1.0,-1.9M57.2,71.9L62.1,74.5M62.1,74.5l-2.2,0.1M62.1,74.5l-1.1,-1.9M57.1,79.3L62.2,81.5M62.2,81.5l-2.2,0.3M62.2,81.5l-1.3,-1.8M58.8,86.9L63.8,89.2M63.8,89.2l-2.2,0.2M63.8,89.2l-1.2,-1.8M58.6,93.3L63.5,95.7M63.5,95.7l-2.2,0.2M63.5,95.7l-1.2,-1.9M57.4,100.5L62.0,103.6M62.0,103.6l-2.2,-0.1M62.0,103.6l-0.9,-2.0M65.4,1.9L60.4,4.0M60.4,4.0l1.3,-1.8M60.4,4.0l2.2,0.3M65.9,9.2L60.4,9.9M60.4,9.9l1.7,-1.4M60.4,9.9l2.0,0.9M64.3,16.9L59.4,19.3M59.4,19.3l1.2,-1.8M59.4,19.3l2.2,0.2M64.8,22.7L59.3,23.2M59.3,23.2l1.8,-1.3M59.3,23.2l2.0,0.9M64.2,30.7L59.4,33.4M59.4,33.4l1.1,-1.9M59.4,33.4l2.2,0.1M65.2,37.3L60.9,40.7M60.9,40.7l0.8,-2.0M60.9,40.7l2.2,-0.3M64.3,43.1L64.6,48.6M64.6,48.6l-1.3,-1.8M64.6,48.6l1.0,-2.0M64.8,50.2L66.9,55.2M66.9,55.2l-1.8,-1.3M66.9,55.2l0.3,-2.2M65.1,57.1L70.3,59.0M70.3,59.0l-2.2,0.4M70.3,59.0l-1.4,-1.7M65.1,65.4L70.0,67.9M70.0,67.9l-2.2,0.2M70.0,67.9l-1.2,-1.9M65.0,72.8L69.7,75.6M69.7,75.6l-2.2,-0.0M69.7,75.6l-1.0,-1.9M64.9,79.8L70.4,80.3M70.4,80.3l-2.0,1.0M70.4,80.3l-1.8,-1.3M64.8,86.4L70.3,86.5M70.3,86.5l-1.9,1.1M70.3,86.5l-1.9,-1.2M66.0,93.8L71.1,95.7M71.1,95.7l-2.2,0.4M71.1,95.7l-1.4,-1.7M64.9,99.6L70.4,99.5M70.4,99.5l-1.9,1.2M70.4,99.5l-1.9,-1.1M71.8,2.6L66.4,3.5M66.4,3.5l1.7,-1.4M66.4,3.5l2.0,0.8M71.4,8.7L65.9,8.9M65.9,8.9l1.8,-1.2M65.9,8.9l1.9,1.1M72.2,16.7L66.8,17.4M66.8,17.4l1.7,-1.4M66.8,17.4l2.0,0.9M71.2,23.6L65.8,22.5M65.8,22.5l2.1,-0.8M65.8,22.5l1.6,1.5M71.6,29.5L66.2,30.1M66.2,30.1l1.8,-1.3M66.2,30.1l2.0,0.9M72.0,37.7L66.5,36.8M66.5,36.8l2.0,-0.8M66.5,36.8l1.7,1.4M71.5,43.2L68.5,38.6M68.5,38.6l2.0,1.0M68.5,38.6l0.1,2.2M71.1,50.6L76.0,48.1M76.0,48.1l-1.2,1.9M76.0,48.1l-2.2,-0.2M72.9,58.9L77.9,56.6M77.9,56.6l-1.3,1.8M77.9,56.6l-2.2,-0.3M72.1,64.4L77.4,63.0M77.4,63.0l-1.5,1.6M77.4,63.0l-2.1,-0.6M72.5,71.7L77.6,69.8M77.6,69.8l-1.4,1.7M77.6,69.8l-2.2,-0.4M72.3,79.7L77.8,80.5M77.8,80.5l-2.0,0.9M77.8,80.5l-1.7,-1.4M71.3,86.5L76.7,87.6M76.7,87.6l-2.1,0.7M76.7,87.6l-1.6,-1.5M71.1,93.3L76.5,94.4M76.5,94.4l-2.1,0.7M76.5,94.4l-1.6,-1.5M72.5,100.7L77.9,99.4M77.9,99.4l-1.6,1.5M77.9,99.4l-2.1,-0.7M79.8,1.5L74.3,1.2M74.3,1.2l2.0,-1.0M74.3,1.2l1.8,1.3M78.2,8.8L72.9,7.2M72.9,7.2l2.1,-0.6M72.9,7.2l1.5,1.6M78.6,15.9L73.6,13.6M73.6,13.6l2.2,-0.2M73.6,13.6l1.2,1.8M78.2,23.1L73.5,20.2M73.5,20.2l2.2,0.0M73.5,20.2l1.0,2.0M78.8,30.0L76.0,25.3M76.0,25.3l1.9,1.0M76.0,25.3l0.0,2.2M79.8,36.9L76.2,32.7M76.2,32.7l2.1,0.7M76.2,32.7l0.4,2.2M78.4,43.5L77.6,38.1M77.6,38.1l1.4,1.7M77.6,38.1l-0.9,2.0M78.5,50.7L79.1,45.2M79.1,45.2l0.9,2.0M79.1,45.2l-1.3,1.7M79.0,58.0L81.9,53.3M81.9,53.3l0.0,2.2M81.9,53.3l-1.9,1.0M79.2,66.0L84.3,64.0M84.3,64.0l-1.3,1.7M84.3,64.0l-2.2,-0.4M78.8,71.1L83.4,68.2M83.4,68.2l-1.0,2.0M83.4,68.2l-2.2,0.0M78.1,79.0L83.2,77.0M83.2,77.0l-1.3,1.7M83.2,77.0l-2.2,-0.4M78.6,85.2L83.8,83.3M83.8,83.3l-1.4,1.7M83.8,83.3l-2.2,-0.4M78.9,93.9L84.4,93.2M84.4,93.2l-1.7,1.4M84.4,93.2l-2.0,-0.9M78.3,100.6L83.7,99.7M83.7,99.7l-1.7,1.4M83.7,99.7l-2.0,-0.8M85.2,1.6L81.0,-2.0M81.0,-2.0l2.2,0.3M81.0,-2.0l0.7,2.1M85.1,9.4L80.6,6.3M80.6,6.3l2.2,0.1M80.6,6.3l0.9,2.0M85.5,16.0L81.7,12.1M81.7,12.1l2.1,0.6M81.7,12.1l0.5,2.1M86.6,23.8L83.7,19.2M83.7,19.2l2.0,1.0M83.7,19.2l0.1,2.2M86.4,29.1L84.0,24.1M84.0,24.1l1.8,1.2M84.0,24.1l-0.2,2.2M86.5,37.3L84.0,32.5M84.0,32.5l1.9,1.1M84.0,32.5l-0.1,2.2M85.7,43.8L86.7,38.4M86.7,38.4l0.8,2.1M86.7,38.4l-1.5,1.6M85.6,50.1L87.8,45.0M87.8,45.0l0.3,2.2M87.8,45.0l-1.8,1.3M86.3,58.3L89.3,53.7M89.3,53.7l-0.1,2.2M89.3,53.7l-2.0,1.0M85.0,64.9L89.0,61.1M89.0,61.1l-0.6,2.1M89.0,61.1l-2.1,0.5M85.9,72.7L89.4,68.4M89.4,68.4l-0.3,2.2M89.4,68.4l-2.1,0.8M87.0,79.7L90.8,75.7M90.8,75.7l-0.5,2.1M90.8,75.7l-2.1,0.6M85.6,85.4L89.3,81.3M89.3,81.3l-0.4,2.2M89.3,81.3l-2.1,0.6M85.1,92.3L89.7,89.4M89.7,89.4l-1.0,2.0M89.7,89.4l-2.2,0.1M86.0,99.1L90.7,96.3M90.7,96.3l-1.0,1.9M90.7,96.3l-2.2,-0.0M93.7,2.5L90.1,-1.7M90.1,-1.7l2.1,0.7M90.1,-1.7l0.4,2.2M92.4,9.8L88.0,6.6M88.0,6.6l2.2,0.2M88.0,6.6l0.9,2.0M92.9,15.6L90.4,10.8M90.4,10.8l1.9,1.1M90.4,10.8l-0.1,2.2M92.5,23.9L90.6,18.8M90.6,18.8l1.7,1.4M90.6,18.8l-0.4,2.2M92.1,29.4L89.6,24.4M89.6,24.4l1.8,1.2M89.6,24.4l-0.2,2.2M93.4,37.1L93.2,31.6M93.2,31.6l1.2,1.8M93.2,31.6l-1.1,1.9M92.5,44.7L91.3,39.3M91.3,39.3l1.5,1.6M91.3,39.3l-0.7,2.1M93.6,51.2L94.4,45.8M94.4,45.8l0.9,2.0M94.4,45.8l-1.4,1.7M93.1,57.8L94.1,52.4M94.1,52.4l0.8,2.1M94.1,52.4l-1.4,1.7M93.1,64.5L95.4,59.5M95.4,59.5l0.3,2.2M95.4,59.5l-1.8,1.3M93.8,73.0L95.9,67.9M95.9,67.9l0.3,2.2M95.9,67.9l-1.8,1.3M92.6,79.5L95.5,74.8M95.5,74.8l0.0,2.2M95.5,74.8l-1.9,1.0M92.8,85.2L97.5,82.2M97.5,82.2l-1.0,2.0M97.5,82.2l-2.2,0.1M93.6,92.5L98.0,89.2M98.0,89.2l-0.8,2.0M98.0,89.2l-2.2,0.2M92.4,99.3L97.4,96.9M97.4,96.9l-1.2,1.8M97.4,96.9l-2.2,-0.2M100.9,2.4L96.5,-0.8M96.5,-0.8l2.2,0.2M96.5,-0.8l0.8,2.0M99.9,9.6L98.1,4.4M98.1,4.4l1.7,1.4M98.1,4.4l-0.4,2.2M100.8,15.1L98.8,10.0M98.8,10.0l1.7,1.3M98.8,10.0l-0.4,2.2M99.4,22.3L95.8,18.0M95.8,18.0l2.1,0.7M95.8,18.0l0.3,2.2M99.8,29.6L98.6,24.2M98.6,24.2l1.5,1.6M98.6,24.2l-0.7,2.1M100.4,37.2L99.4,31.8M99.4,31.8l1.5,1.6M99.4,31.8l-0.8,2.1M100.0,44.1L100.5,38.6M100.5,38.6l1.0,2.0M100.5,38.6l-1.3,1.8M99.7,51.0L100.6,45.6M100.6,45.6l0.8,2.0M100.6,45.6l-1.4,1.7M99.9,58.2L100.5,52.7M100.5,52.7l0.9,2.0M100.5,52.7l-1.3,1.7M99.8,65.7L103.2,61.4M103.2,61.4l-0.3,2.2M103.2,61.4l-2.1,0.8M100.3,71.8L104.1,67.8M104.1,67.8l-0.5,2.1M104.1,67.8l-2.1,0.6M99.5,79.6L103.2,75.6M103.2,75.6l-0.4,2.2M103.2,75.6l-2.1,0.6M99.1,86.4L101.9,81.6M101.9,81.6l0.0,2.2M101.9,81.6l-1.9,1.0M99.7,93.8L103.4,89.8M103.4,89.8l-0.4,2.2M103.4,89.8l-2.1,0.6M99.7,100.5L104.6,98.1M104.6,98.1l-1.2,1.8M104.6,98.1l-2.2,-0.2" stroke="#e020d8" stroke-width="1.6" stroke-linecap="round" fill="none"/>
</g>
<circle cx="88" cy="23" r="5.5" fill="#d8d8d8"/>
</g></g>
<path d="M178.3,217 L258.4,241.5 L258.4,248.8 L178.6,224.9Z" fill="url(#jet)" stroke="#333" stroke-width="0.4"/>
<g font-family='"Liberation Sans", sans-serif' font-size="11.5" fill="#222"><text x="192" y="240.3" textLength="6.4" lengthAdjust="spacingAndGlyphs">-1</text><text x="216" y="246.7" textLength="5" lengthAdjust="spacingAndGlyphs">0</text><text x="239.5" y="254.5" textLength="4.5" lengthAdjust="spacingAndGlyphs">1</text></g>
<text transform="translate(186,253) skewY(17)" font-family='"Liberation Sans", sans-serif' font-size="12.5" fill="#111" textLength="66" lengthAdjust="spacingAndGlyphs">∇×<tspan font-weight="bold">P</tspan> (×10<tspan font-size="7.5" dy="-4">9</tspan><tspan dy="4"> C m</tspan><tspan font-size="7.5" dy="-4">-3</tspan><tspan dy="4">)</tspan></text>
<path d="M334,121.4 L386.5,137.1 A80.5,80.5 0 0 0 344.5,173 L333.1,150.2Z" fill="#f2f2f2"/>
<path d="M334,121.4 L386.5,137.1 M333.1,150.2 L344.5,173" stroke="#c8c8c8" stroke-width="0.8" stroke-dasharray="2 2"/>
<circle cx="415.5" cy="213" r="80.5" fill="#fff" stroke="#d4d4d4" stroke-width="1.2"/>
<text x="372.0" y="168.1" font-family='"Liberation Sans", sans-serif' font-size="18.2" fill="#000" font-weight="bold" font-style="normal" text-anchor="start" >Last mode</text>
<path d="M376,195.4L432.5,198.9M396.6,185.2L452.9,189.1M376,195.4L396.6,185.2M432.5,198.9L432.5,259M452.9,189.1L452.9,249.2M432.5,198.9L452.9,189.1M432.5,259L376,255.5M452.9,249.2L396.6,245.7M432.5,259L452.9,249.2M376,255.5L376,195.4M396.6,245.7L396.6,185.2M376,255.5L396.6,245.7" stroke="#888" stroke-width="0.9" fill="none"/>
<path d="M404.5,227.2 L414.5,222.3 L425,217 M386.1,220.5 L442.4,224.6 M414.5,191.9 L414.5,252.6" stroke="#777" stroke-width="0.9"/>
<circle cx="396.6" cy="185.2" r="7" fill="url(#sphG)"/>
<path d="M406.6,180.7 V186.7" stroke="#000" stroke-width="1.8"/><path d="M404.0,186.2 L406.6,190.2 L409.20000000000005,186.2Z" fill="#000"/>
<circle cx="452.9" cy="189.1" r="7" fill="url(#sphG)"/>
<path d="M462.9,184.6 V190.6" stroke="#000" stroke-width="1.8"/><path d="M460.29999999999995,190.1 L462.9,194.1 L465.5,190.1Z" fill="#000"/>
<circle cx="452.9" cy="249.2" r="7" fill="url(#sphG)"/>
<path d="M462.9,244.7 V250.7" stroke="#000" stroke-width="1.8"/><path d="M460.29999999999995,250.2 L462.9,254.2 L465.5,250.2Z" fill="#000"/>
<circle cx="396.6" cy="245.7" r="7" fill="url(#sphG)"/>
<path d="M406.6,241.2 V247.2" stroke="#000" stroke-width="1.8"/><path d="M404.0,246.7 L406.6,250.7 L409.20000000000005,246.7Z" fill="#000"/>
<circle cx="414.5" cy="191.9" r="3.9" fill="url(#sphB)"/>
<path d="M421.0,195.4 V189.4" stroke="#0a2aa0" stroke-width="1.8"/><path d="M418.4,189.9 L421.0,185.9 L423.6,189.9Z" fill="#0a2aa0"/>
<circle cx="425" cy="217" r="3.9" fill="url(#sphB)"/>
<path d="M431.5,220.5 V214.5" stroke="#0a2aa0" stroke-width="1.8"/><path d="M428.9,215.0 L431.5,211.0 L434.1,215.0Z" fill="#0a2aa0"/>
<circle cx="442.4" cy="224.6" r="3.9" fill="url(#sphB)"/>
<path d="M448.9,228.1 V222.1" stroke="#0a2aa0" stroke-width="1.8"/><path d="M446.29999999999995,222.6 L448.9,218.6 L451.5,222.6Z" fill="#0a2aa0"/>
<circle cx="414.5" cy="252.6" r="3.9" fill="url(#sphB)"/>
<path d="M421.0,256.1 V250.1" stroke="#0a2aa0" stroke-width="1.8"/><path d="M418.4,250.6 L421.0,246.6 L423.6,250.6Z" fill="#0a2aa0"/>
<circle cx="414.5" cy="222.3" r="8" fill="url(#sphM)"/>
<path d="M414.8,210.5 V205.5" stroke="#a0184a" stroke-width="1.8"/><path d="M412.2,206.0 L414.8,202.0 L417.40000000000003,206.0Z" fill="#a0184a"/>
<circle cx="386.1" cy="220.5" r="3.9" fill="url(#sphB)"/>
<path d="M379.1,224.0 V218.0" stroke="#0a2aa0" stroke-width="1.8"/><path d="M376.5,218.5 L379.1,214.5 L381.70000000000005,218.5Z" fill="#0a2aa0"/>
<circle cx="404.5" cy="227.2" r="3.9" fill="url(#sphB)"/>
<path d="M397.5,235.7 V229.7" stroke="#0a2aa0" stroke-width="1.8"/><path d="M394.9,230.2 L397.5,226.2 L400.1,230.2Z" fill="#0a2aa0"/>
<circle cx="376" cy="195.4" r="7.2" fill="url(#sphK)"/>
<path d="M386,191.9 V197.9" stroke="#000" stroke-width="1.8"/><path d="M383.4,197.4 L386,201.4 L388.6,197.4Z" fill="#000"/>
<circle cx="432.5" cy="198.9" r="7.2" fill="url(#sphK)"/>
<path d="M442.5,195.4 V201.4" stroke="#000" stroke-width="1.8"/><path d="M439.9,200.9 L442.5,204.9 L445.1,200.9Z" fill="#000"/>
<circle cx="432.5" cy="259" r="7.2" fill="url(#sphK)"/>
<path d="M442.5,255.5 V261.5" stroke="#000" stroke-width="1.8"/><path d="M439.9,261.0 L442.5,265.0 L445.1,261.0Z" fill="#000"/>
<circle cx="376" cy="255.5" r="7.2" fill="url(#sphK)"/>
<path d="M386,252.0 V258.0" stroke="#000" stroke-width="1.8"/><path d="M383.4,257.5 L386,261.5 L388.6,257.5Z" fill="#000"/>
<rect x="272.6" y="226" width="6.4" height="100" fill="url(#shaft)"/>
<path d="M268.8,325.5 L281.8,325.5 L274.7,341.6Z" fill="#7c8084"/>
<path d="M158.9,371.3 L319.4,430.6 L318.2,489.4 L160.6,425.9Z" fill="#e9ebf2"/>
<path d="M319.4,430.6 L435.9,355.3 L435.9,411.8 L318.2,489.4Z" fill="#e4e7ef"/>
<path d="M160.0,371.7V425.7M161.6,372.3V426.3M163.2,372.9V426.9M164.8,373.5V427.6M166.4,374.1V428.2M168.0,374.7V428.9M169.6,375.3V429.5M171.2,375.8V430.2M172.8,376.4V430.8M174.4,377.0V431.5M176.0,377.6V432.1M177.6,378.2V432.7M179.2,378.8V433.4M180.8,379.4V434.0M182.4,380.0V434.7M184.0,380.6V435.3M185.6,381.2V436.0M187.2,381.8V436.6M188.8,382.3V437.2M190.4,382.9V437.9M192.0,383.5V438.5M193.6,384.1V439.2M195.2,384.7V439.8M196.8,385.3V440.5M198.4,385.9V441.1M200.0,386.5V441.8M201.6,387.1V442.4M203.2,387.7V443.0M204.8,388.3V443.7M206.4,388.9V444.3M208.0,389.4V445.0M209.6,390.0V445.6M211.2,390.6V446.3M212.8,391.2V446.9M214.4,391.8V447.5M216.0,392.4V448.2M217.6,393.0V448.8M219.2,393.6V449.5M220.8,394.2V450.1M222.4,394.8V450.8M224.0,395.4V451.4M225.6,395.9V452.0M227.2,396.5V452.7M228.8,397.1V453.3M230.4,397.7V454.0M232.0,398.3V454.6M233.6,398.9V455.3M235.2,399.5V455.9M236.8,400.1V456.6M238.4,400.7V457.2M240.0,401.3V457.8M241.6,401.9V458.5M243.2,402.4V459.1M244.8,403.0V459.8M246.4,403.6V460.4M248.0,404.2V461.1M249.6,404.8V461.7M251.2,405.4V462.3M252.8,406.0V463.0M254.4,406.6V463.6M256.0,407.2V464.3M257.6,407.8V464.9M259.2,408.4V465.6M260.8,409.0V466.2M262.4,409.5V466.9M264.0,410.1V467.5M265.6,410.7V468.1M267.2,411.3V468.8M268.8,411.9V469.4M270.4,412.5V470.1M272.0,413.1V470.7M273.6,413.7V471.4M275.2,414.3V472.0M276.8,414.9V472.6M278.4,415.5V473.3M280.0,416.0V473.9M281.6,416.6V474.6M283.2,417.2V475.2M284.8,417.8V475.9M286.4,418.4V476.5M288.0,419.0V477.2M289.6,419.6V477.8M291.2,420.2V478.4M292.8,420.8V479.1M294.4,421.4V479.7M296.0,422.0V480.4M297.6,422.5V481.0M299.2,423.1V481.7M300.8,423.7V482.3M302.4,424.3V482.9M304.0,424.9V483.6M305.6,425.5V484.2M307.2,426.1V484.9M308.8,426.7V485.5M310.4,427.3V486.2M312.0,427.9V486.8M313.6,428.5V487.5M315.2,429.1V488.1M316.8,429.6V488.7M320.0,430.2V488.2M321.6,429.2V487.1M323.2,428.1V486.1M324.8,427.1V485.0M326.4,426.1V483.9M328.0,425.0V482.9M329.6,424.0V481.8M331.2,423.0V480.7M332.8,421.9V479.7M334.4,420.9V478.6M336.0,419.9V477.6M337.6,418.8V476.5M339.2,417.8V475.4M340.8,416.8V474.4M342.4,415.7V473.3M344.0,414.7V472.2M345.6,413.7V471.2M347.2,412.6V470.1M348.8,411.6V469.0M350.4,410.6V468.0M352.0,409.5V466.9M353.6,408.5V465.8M355.2,407.5V464.8M356.8,406.4V463.7M358.4,405.4V462.6M360.0,404.4V461.6M361.6,403.3V460.5M363.2,402.3V459.4M364.8,401.3V458.4M366.4,400.2V457.3M368.0,399.2V456.3M369.6,398.2V455.2M371.2,397.1V454.1M372.8,396.1V453.1M374.4,395.0V452.0M376.0,394.0V450.9M377.6,393.0V449.9M379.2,391.9V448.8M380.8,390.9V447.7M382.4,389.9V446.7M384.0,388.8V445.6M385.6,387.8V444.5M387.2,386.8V443.5M388.8,385.7V442.4M390.4,384.7V441.3M392.0,383.7V440.3M393.6,382.6V439.2M395.2,381.6V438.1M396.8,380.6V437.1M398.4,379.5V436.0M400.0,378.5V435.0M401.6,377.5V433.9M403.2,376.4V432.8M404.8,375.4V431.8M406.4,374.4V430.7M408.0,373.3V429.6M409.6,372.3V428.6M411.2,371.3V427.5M412.8,370.2V426.4M414.4,369.2V425.4M416.0,368.2V424.3M417.6,367.1V423.2M419.2,366.1V422.2M420.8,365.1V421.1M422.4,364.0V420.0M424.0,363.0V419.0M425.6,362.0V417.9M427.2,360.9V416.8M428.8,359.9V415.8M430.4,358.8V414.7M432.0,357.8V413.7M433.6,356.8V412.6" stroke="#b4bad0" stroke-width="0.6" opacity="0.7"/>
<g clip-path="url(#lclip)"><g fill="#44538e" opacity="0.9" filter="url(#blur3)"><ellipse cx="180" cy="414" rx="10" ry="16"/><ellipse cx="209" cy="426" rx="9" ry="15"/><ellipse cx="240" cy="422" rx="8" ry="13"/><ellipse cx="240" cy="446" rx="9" ry="14"/><ellipse cx="262" cy="436" rx="9" ry="15"/><ellipse cx="283" cy="459" rx="10" ry="15"/><ellipse cx="301" cy="437" rx="8" ry="14"/></g></g>
<g clip-path="url(#rclip)"><g fill="#44538e" opacity="0.9" filter="url(#blur3)"><ellipse cx="323" cy="462" rx="9" ry="15"/><ellipse cx="338" cy="437" rx="9" ry="15"/><ellipse cx="366" cy="437" rx="10" ry="15"/><ellipse cx="392" cy="408" rx="10" ry="16"/><ellipse cx="423" cy="399" rx="10" ry="16"/><ellipse cx="372" cy="414" rx="7" ry="11"/></g></g>
<path d="M160.0,371.7V425.7M161.6,372.3V426.3M163.2,372.9V426.9M164.8,373.5V427.6M166.4,374.1V428.2M168.0,374.7V428.9M169.6,375.3V429.5M171.2,375.8V430.2M172.8,376.4V430.8M174.4,377.0V431.5M176.0,377.6V432.1M177.6,378.2V432.7M179.2,378.8V433.4M180.8,379.4V434.0M182.4,380.0V434.7M184.0,380.6V435.3M185.6,381.2V436.0M187.2,381.8V436.6M188.8,382.3V437.2M190.4,382.9V437.9M192.0,383.5V438.5M193.6,384.1V439.2M195.2,384.7V439.8M196.8,385.3V440.5M198.4,385.9V441.1M200.0,386.5V441.8M201.6,387.1V442.4M203.2,387.7V443.0M204.8,388.3V443.7M206.4,388.9V444.3M208.0,389.4V445.0M209.6,390.0V445.6M211.2,390.6V446.3M212.8,391.2V446.9M214.4,391.8V447.5M216.0,392.4V448.2M217.6,393.0V448.8M219.2,393.6V449.5M220.8,394.2V450.1M222.4,394.8V450.8M224.0,395.4V451.4M225.6,395.9V452.0M227.2,396.5V452.7M228.8,397.1V453.3M230.4,397.7V454.0M232.0,398.3V454.6M233.6,398.9V455.3M235.2,399.5V455.9M236.8,400.1V456.6M238.4,400.7V457.2M240.0,401.3V457.8M241.6,401.9V458.5M243.2,402.4V459.1M244.8,403.0V459.8M246.4,403.6V460.4M248.0,404.2V461.1M249.6,404.8V461.7M251.2,405.4V462.3M252.8,406.0V463.0M254.4,406.6V463.6M256.0,407.2V464.3M257.6,407.8V464.9M259.2,408.4V465.6M260.8,409.0V466.2M262.4,409.5V466.9M264.0,410.1V467.5M265.6,410.7V468.1M267.2,411.3V468.8M268.8,411.9V469.4M270.4,412.5V470.1M272.0,413.1V470.7M273.6,413.7V471.4M275.2,414.3V472.0M276.8,414.9V472.6M278.4,415.5V473.3M280.0,416.0V473.9M281.6,416.6V474.6M283.2,417.2V475.2M284.8,417.8V475.9M286.4,418.4V476.5M288.0,419.0V477.2M289.6,419.6V477.8M291.2,420.2V478.4M292.8,420.8V479.1M294.4,421.4V479.7M296.0,422.0V480.4M297.6,422.5V481.0M299.2,423.1V481.7M300.8,423.7V482.3M302.4,424.3V482.9M304.0,424.9V483.6M305.6,425.5V484.2M307.2,426.1V484.9M308.8,426.7V485.5M310.4,427.3V486.2M312.0,427.9V486.8M313.6,428.5V487.5M315.2,429.1V488.1M316.8,429.6V488.7M320.0,430.2V488.2M321.6,429.2V487.1M323.2,428.1V486.1M324.8,427.1V485.0M326.4,426.1V483.9M328.0,425.0V482.9M329.6,424.0V481.8M331.2,423.0V480.7M332.8,421.9V479.7M334.4,420.9V478.6M336.0,419.9V477.6M337.6,418.8V476.5M339.2,417.8V475.4M340.8,416.8V474.4M342.4,415.7V473.3M344.0,414.7V472.2M345.6,413.7V471.2M347.2,412.6V470.1M348.8,411.6V469.0M350.4,410.6V468.0M352.0,409.5V466.9M353.6,408.5V465.8M355.2,407.5V464.8M356.8,406.4V463.7M358.4,405.4V462.6M360.0,404.4V461.6M361.6,403.3V460.5M363.2,402.3V459.4M364.8,401.3V458.4M366.4,400.2V457.3M368.0,399.2V456.3M369.6,398.2V455.2M371.2,397.1V454.1M372.8,396.1V453.1M374.4,395.0V452.0M376.0,394.0V450.9M377.6,393.0V449.9M379.2,391.9V448.8M380.8,390.9V447.7M382.4,389.9V446.7M384.0,388.8V445.6M385.6,387.8V444.5M387.2,386.8V443.5M388.8,385.7V442.4M390.4,384.7V441.3M392.0,383.7V440.3M393.6,382.6V439.2M395.2,381.6V438.1M396.8,380.6V437.1M398.4,379.5V436.0M400.0,378.5V435.0M401.6,377.5V433.9M403.2,376.4V432.8M404.8,375.4V431.8M406.4,374.4V430.7M408.0,373.3V429.6M409.6,372.3V428.6M411.2,371.3V427.5M412.8,370.2V426.4M414.4,369.2V425.4M416.0,368.2V424.3M417.6,367.1V423.2M419.2,366.1V422.2M420.8,365.1V421.1M422.4,364.0V420.0M424.0,363.0V419.0M425.6,362.0V417.9M427.2,360.9V416.8M428.8,359.9V415.8M430.4,358.8V414.7M432.0,357.8V413.7M433.6,356.8V412.6" stroke="#f4f6fa" stroke-width="0.5" opacity="0.6"/>
<path d="M158.9,371.3 L282.9,305.9 L435.9,355.3 L319.4,430.6Z" fill="#d8e096"/>
<g clip-path="url(#topclip)"><g filter="url(#blur1)"><g fill="none" stroke="#eea050" stroke-width="2.8" opacity="0.8"><ellipse cx="176.9" cy="371.9" rx="9.0" ry="5.5"/><ellipse cx="205.9" cy="374.8" rx="10.9" ry="6.2"/><ellipse cx="218.1" cy="389.2" rx="10.2" ry="5.6"/><ellipse cx="252.4" cy="393.2" rx="9.5" ry="5.2"/><ellipse cx="270.4" cy="405.9" rx="10.6" ry="5.5"/><ellipse cx="300.8" cy="412.0" rx="9.8" ry="5.7"/><ellipse cx="312.4" cy="423.7" rx="9.0" ry="5.1"/><ellipse cx="192.6" cy="365.4" rx="8.9" ry="5.3"/><ellipse cx="224.8" cy="368.5" rx="10.3" ry="5.7"/><ellipse cx="236.4" cy="382.6" rx="8.9" ry="5.0"/><ellipse cx="265.3" cy="385.6" rx="9.8" ry="5.8"/><ellipse cx="285.1" cy="399.5" rx="9.9" ry="5.2"/><ellipse cx="311.9" cy="403.4" rx="10.0" ry="5.9"/><ellipse cx="329.7" cy="417.4" rx="9.8" ry="5.4"/><ellipse cx="204.9" cy="354.4" rx="10.4" ry="6.2"/><ellipse cx="235.2" cy="360.3" rx="8.5" ry="4.4"/><ellipse cx="257.7" cy="372.4" rx="8.7" ry="4.4"/><ellipse cx="280.0" cy="376.9" rx="8.6" ry="4.8"/><ellipse cx="296.5" cy="390.3" rx="8.9" ry="5.2"/><ellipse cx="331.4" cy="392.4" rx="10.8" ry="5.7"/><ellipse cx="341.3" cy="406.1" rx="8.2" ry="5.0"/><ellipse cx="224.9" cy="349.0" rx="9.0" ry="5.0"/><ellipse cx="254.3" cy="352.5" rx="11.0" ry="6.5"/><ellipse cx="273.6" cy="364.3" rx="9.3" ry="5.0"/><ellipse cx="297.5" cy="369.0" rx="8.2" ry="4.6"/><ellipse cx="311.4" cy="381.3" rx="10.4" ry="5.8"/><ellipse cx="349.0" cy="386.1" rx="9.9" ry="5.9"/><ellipse cx="361.2" cy="397.9" rx="8.0" ry="4.9"/><ellipse cx="241.5" cy="340.1" rx="9.4" ry="5.5"/><ellipse cx="271.8" cy="342.8" rx="9.0" ry="4.6"/><ellipse cx="281.8" cy="355.0" rx="9.5" ry="5.0"/><ellipse cx="318.2" cy="359.0" rx="8.6" ry="4.5"/><ellipse cx="338.0" cy="372.4" rx="10.7" ry="5.5"/><ellipse cx="360.9" cy="377.6" rx="9.0" ry="5.3"/><ellipse cx="380.4" cy="389.4" rx="10.4" ry="5.7"/><ellipse cx="255.6" cy="329.4" rx="10.3" ry="5.6"/><ellipse cx="285.7" cy="334.2" rx="8.7" ry="4.5"/><ellipse cx="301.6" cy="345.9" rx="8.1" ry="4.4"/><ellipse cx="336.7" cy="350.9" rx="10.6" ry="6.2"/><ellipse cx="347.1" cy="363.4" rx="8.2" ry="4.8"/><ellipse cx="379.8" cy="367.5" rx="8.2" ry="4.9"/><ellipse cx="394.1" cy="380.6" rx="10.6" ry="6.5"/><ellipse cx="274.2" cy="322.1" rx="9.6" ry="5.7"/><ellipse cx="304.1" cy="324.4" rx="8.2" ry="4.8"/><ellipse cx="319.9" cy="340.4" rx="8.4" ry="5.1"/><ellipse cx="352.7" cy="341.4" rx="8.2" ry="4.8"/><ellipse cx="363.7" cy="356.8" rx="10.6" ry="6.1"/><ellipse cx="395.3" cy="359.8" rx="8.4" ry="4.9"/><ellipse cx="413.4" cy="372.2" rx="8.1" ry="4.9"/><ellipse cx="290.5" cy="312.4" rx="10.1" ry="5.4"/><ellipse cx="322.8" cy="316.3" rx="9.2" ry="4.9"/><ellipse cx="336.9" cy="330.7" rx="10.1" ry="5.5"/><ellipse cx="368.0" cy="332.7" rx="9.7" ry="4.9"/><ellipse cx="386.4" cy="346.6" rx="10.2" ry="5.6"/><ellipse cx="408.8" cy="350.7" rx="10.4" ry="6.2"/><ellipse cx="424.5" cy="363.1" rx="10.4" ry="6.1"/></g><g fill="#eaf0dc" stroke="none"><ellipse cx="176.9" cy="371.9" rx="6.5" ry="3.7"/><ellipse cx="205.9" cy="374.8" rx="7.9" ry="4.1"/><ellipse cx="218.1" cy="389.2" rx="7.4" ry="3.7"/><ellipse cx="252.4" cy="393.2" rx="6.8" ry="3.4"/><ellipse cx="270.4" cy="405.9" rx="7.7" ry="3.6"/><ellipse cx="300.8" cy="412.0" rx="7.1" ry="3.8"/><ellipse cx="312.4" cy="423.7" rx="6.5" ry="3.4"/><ellipse cx="192.6" cy="365.4" rx="6.4" ry="3.5"/><ellipse cx="224.8" cy="368.5" rx="7.4" ry="3.7"/><ellipse cx="236.4" cy="382.6" rx="6.4" ry="3.3"/><ellipse cx="265.3" cy="385.6" rx="7.0" ry="3.8"/><ellipse cx="285.1" cy="399.5" rx="7.2" ry="3.4"/><ellipse cx="311.9" cy="403.4" rx="7.2" ry="3.9"/><ellipse cx="329.7" cy="417.4" rx="7.0" ry="3.5"/><ellipse cx="204.9" cy="354.4" rx="7.5" ry="4.1"/><ellipse cx="235.2" cy="360.3" rx="6.1" ry="2.9"/><ellipse cx="257.7" cy="372.4" rx="6.3" ry="2.9"/><ellipse cx="280.0" cy="376.9" rx="6.2" ry="3.2"/><ellipse cx="296.5" cy="390.3" rx="6.4" ry="3.5"/><ellipse cx="331.4" cy="392.4" rx="7.8" ry="3.8"/><ellipse cx="341.3" cy="406.1" rx="5.9" ry="3.3"/><ellipse cx="224.9" cy="349.0" rx="6.5" ry="3.3"/><ellipse cx="254.3" cy="352.5" rx="7.9" ry="4.3"/><ellipse cx="273.6" cy="364.3" rx="6.7" ry="3.3"/><ellipse cx="297.5" cy="369.0" rx="5.9" ry="3.0"/><ellipse cx="311.4" cy="381.3" rx="7.5" ry="3.8"/><ellipse cx="349.0" cy="386.1" rx="7.1" ry="3.9"/><ellipse cx="361.2" cy="397.9" rx="5.8" ry="3.2"/><ellipse cx="241.5" cy="340.1" rx="6.7" ry="3.7"/><ellipse cx="271.8" cy="342.8" rx="6.5" ry="3.0"/><ellipse cx="281.8" cy="355.0" rx="6.9" ry="3.3"/><ellipse cx="318.2" cy="359.0" rx="6.2" ry="3.0"/><ellipse cx="338.0" cy="372.4" rx="7.7" ry="3.6"/><ellipse cx="360.9" cy="377.6" rx="6.5" ry="3.5"/><ellipse cx="380.4" cy="389.4" rx="7.5" ry="3.8"/><ellipse cx="255.6" cy="329.4" rx="7.4" ry="3.7"/><ellipse cx="285.7" cy="334.2" rx="6.3" ry="3.0"/><ellipse cx="301.6" cy="345.9" rx="5.8" ry="2.9"/><ellipse cx="336.7" cy="350.9" rx="7.6" ry="4.1"/><ellipse cx="347.1" cy="363.4" rx="5.9" ry="3.1"/><ellipse cx="379.8" cy="367.5" rx="5.9" ry="3.2"/><ellipse cx="394.1" cy="380.6" rx="7.6" ry="4.3"/><ellipse cx="274.2" cy="322.1" rx="6.9" ry="3.8"/><ellipse cx="304.1" cy="324.4" rx="5.9" ry="3.2"/><ellipse cx="319.9" cy="340.4" rx="6.0" ry="3.3"/><ellipse cx="352.7" cy="341.4" rx="5.9" ry="3.1"/><ellipse cx="363.7" cy="356.8" rx="7.6" ry="4.0"/><ellipse cx="395.3" cy="359.8" rx="6.1" ry="3.2"/><ellipse cx="413.4" cy="372.2" rx="5.8" ry="3.3"/><ellipse cx="290.5" cy="312.4" rx="7.3" ry="3.6"/><ellipse cx="322.8" cy="316.3" rx="6.6" ry="3.2"/><ellipse cx="336.9" cy="330.7" rx="7.3" ry="3.6"/><ellipse cx="368.0" cy="332.7" rx="7.0" ry="3.3"/><ellipse cx="386.4" cy="346.6" rx="7.3" ry="3.7"/><ellipse cx="408.8" cy="350.7" rx="7.5" ry="4.1"/><ellipse cx="424.5" cy="363.1" rx="7.5" ry="4.0"/></g><path d="M183.0,367.8 A9.0,5.5 0 0 1 185.9,372.3 M195.0,374.3 A10.9,6.2 0 0 1 202.2,369.0 M251.2,388.1 A9.5,5.2 0 0 1 260.6,390.7 M310.6,412.0 A9.8,5.7 0 0 1 308.4,415.6 M303.0,406.4 A9.8,5.7 0 0 1 308.7,408.6 M321.1,424.9 A9.0,5.1 0 0 1 312.7,428.8 M308.6,428.4 A9.0,5.1 0 0 1 303.4,423.4 M186.0,361.8 A8.9,5.3 0 0 1 192.5,360.1 M234.5,366.5 A10.3,5.7 0 0 1 235.0,369.3 M319.6,399.6 A10.0,5.9 0 0 1 321.9,403.1 M308.4,409.0 A10.0,5.9 0 0 1 302.4,405.2 M320.6,419.4 A9.8,5.4 0 0 1 320.5,415.5 M327.4,412.1 A9.8,5.4 0 0 1 336.7,413.6 M213.2,350.6 A10.4,6.2 0 0 1 215.3,354.3 M206.5,348.2 A10.4,6.2 0 0 1 215.1,353.0 M265.1,370.1 A8.7,4.4 0 0 1 265.0,374.8 M287.9,391.6 A8.9,5.2 0 0 1 290.7,386.4 M341.3,394.7 A10.8,5.7 0 0 1 337.2,397.2 M218.8,352.7 A9.0,5.0 0 0 1 216.1,348.1 M233.4,350.7 A9.0,5.0 0 0 1 225.4,354.1 M243.4,353.5 A11.0,6.5 0 0 1 245.6,348.5 M292.9,372.8 A8.2,4.6 0 0 1 289.4,368.1 M320.3,378.3 A10.4,5.8 0 0 1 320.8,383.7 M353.6,399.5 A8.0,4.9 0 0 1 353.3,397.0 M243.9,345.5 A9.4,5.5 0 0 1 235.6,344.5 M310.4,357.1 A8.6,4.5 0 0 1 313.3,355.3 M326.8,358.9 A8.6,4.5 0 0 1 325.1,361.6 M327.4,371.9 A10.7,5.5 0 0 1 334.1,367.3 M340.9,367.1 A10.7,5.5 0 0 1 348.2,370.7 M354.9,381.5 A9.0,5.3 0 0 1 352.7,375.5 M373.6,385.1 A10.4,5.7 0 0 1 378.8,383.8 M375.5,394.5 A10.4,5.7 0 0 1 370.2,388.2 M265.8,328.4 A10.3,5.6 0 0 1 263.4,333.0 M291.7,330.9 A8.7,4.5 0 0 1 294.3,335.0 M290.0,330.2 A8.7,4.5 0 0 1 294.3,334.9 M309.6,346.4 A8.1,4.4 0 0 1 305.0,349.8 M327.1,348.3 A10.6,6.2 0 0 1 330.7,345.7 M326.1,350.7 A10.6,6.2 0 0 1 333.4,345.0 M371.8,368.6 A8.2,4.9 0 0 1 372.2,365.7 M400.2,385.9 A10.6,6.5 0 0 1 391.6,386.9 M401.0,385.5 A10.6,6.5 0 0 1 390.7,386.7 M276.2,327.6 A9.6,5.7 0 0 1 267.3,326.1 M305.3,319.7 A8.2,4.8 0 0 1 311.9,323.1 M321.6,335.4 A8.4,5.1 0 0 1 327.5,338.3 M323.6,335.8 A8.4,5.1 0 0 1 327.5,338.3 M358.4,338.0 A8.2,4.8 0 0 1 359.9,343.6 M353.4,358.2 A10.6,6.1 0 0 1 355.9,352.7 M369.1,351.6 A10.6,6.1 0 0 1 374.0,355.7 M386.9,360.2 A8.4,4.9 0 0 1 387.6,357.8 M286.2,317.3 A10.1,5.4 0 0 1 281.6,314.9 M313.9,315.0 A9.2,4.9 0 0 1 318.6,312.0 M343.8,326.7 A10.1,5.5 0 0 1 347.0,330.5 M364.5,337.3 A9.7,4.9 0 0 1 358.5,333.6 M374.1,336.6 A9.7,4.9 0 0 1 365.2,337.4 M383.5,351.9 A10.2,5.6 0 0 1 377.2,349.0 M422.7,369.1 A10.4,6.1 0 0 1 415.3,365.9 M414.1,362.7 A10.4,6.1 0 0 1 418.5,358.1" fill="none" stroke="#d0301c" stroke-width="2.4"/><g fill="#a8e4e0"><circle cx="176.0" cy="371.5" r="1.6"/><circle cx="203.5" cy="375.5" r="1.6"/><circle cx="219.3" cy="390.2" r="1.6"/><circle cx="272.4" cy="406.1" r="1.6"/><circle cx="302.5" cy="411.9" r="1.6"/><circle cx="286.0" cy="400.2" r="1.6"/><circle cx="313.1" cy="403.8" r="1.6"/><circle cx="203.9" cy="354.6" r="1.6"/><circle cx="237.0" cy="359.3" r="1.6"/><circle cx="294.3" cy="391.6" r="1.6"/><circle cx="252.9" cy="352.6" r="1.6"/><circle cx="273.9" cy="365.2" r="1.6"/><circle cx="300.1" cy="367.9" r="1.6"/><circle cx="312.1" cy="381.5" r="1.6"/><circle cx="363.0" cy="396.6" r="1.6"/><circle cx="284.1" cy="354.3" r="1.6"/><circle cx="320.9" cy="358.6" r="1.6"/><circle cx="336.3" cy="373.1" r="1.6"/><circle cx="359.8" cy="376.8" r="1.6"/><circle cx="378.1" cy="390.8" r="1.6"/><circle cx="283.6" cy="334.3" r="1.6"/><circle cx="349.2" cy="362.0" r="1.6"/><circle cx="381.2" cy="367.3" r="1.6"/><circle cx="301.8" cy="323.8" r="1.6"/><circle cx="317.9" cy="339.0" r="1.6"/><circle cx="353.8" cy="340.4" r="1.6"/><circle cx="361.3" cy="355.9" r="1.6"/><circle cx="398.0" cy="358.9" r="1.6"/><circle cx="415.5" cy="371.7" r="1.6"/><circle cx="290.2" cy="312.3" r="1.6"/><circle cx="323.9" cy="317.5" r="1.6"/><circle cx="339.2" cy="331.6" r="1.6"/><circle cx="409.5" cy="351.9" r="1.6"/></g></g></g>
<rect x="272.6" y="300" width="6.4" height="26" fill="url(#shaft)"/>
<path d="M268.8,325.5 L281.8,325.5 L274.7,341.6Z" fill="#7c8084"/>
<path d="M294.7,294.6 L421.8,336.5 L421.8,344 L294.7,301.6Z" fill="url(#pbar)" stroke="#333" stroke-width="0.4"/>
<g font-family='"Liberation Sans", sans-serif' font-size="11.5" fill="#222" lengthAdjust="spacingAndGlyphs"><text x="308" y="297.6" textLength="11.5" lengthAdjust="spacingAndGlyphs">-10</text><text x="355.8" y="311.8" textLength="5" lengthAdjust="spacingAndGlyphs">0</text><text x="399.6" y="328.2" textLength="8" lengthAdjust="spacingAndGlyphs">10</text></g>
<text transform="translate(338.5,295.5) skewY(19)" font-family='"Liberation Sans", sans-serif' font-size="11.5" fill="#222" textLength="39" lengthAdjust="spacingAndGlyphs">P (μC cm<tspan font-size="7.5" dy="-4">-2</tspan><tspan dy="4">)</tspan></text>
<text transform="translate(203.0,48.3) skewY(15.4)" font-family='"Liberation Sans", sans-serif' font-size="22.5" font-weight="bold" textLength="135" lengthAdjust="spacingAndGlyphs">Collective modes</text>
<text transform="translate(160.0,331.0) skewY(17.4)" font-family='"Liberation Sans", sans-serif' font-size="22" font-weight="bold" textLength="163" lengthAdjust="spacingAndGlyphs">Transient polar phase</text>
<clipPath id="axclip"><ellipse cx="457.3" cy="440.7" rx="20.5" ry="26" transform="rotate(-22 457.3 440.7)"/></clipPath>
<g clip-path="url(#axclip)"><path d="M457.3,440.5 L457.3,400.5 L462.5,400.8Z" fill="#f6f6fb" stroke="#f6f6fb" stroke-width="0.6"/><path d="M457.3,440.5 L462.5,400.8 L467.7,401.9Z" fill="#eeeff5" stroke="#eeeff5" stroke-width="0.6"/><path d="M457.3,440.5 L467.7,401.9 L472.6,403.5Z" fill="#e6e7f0" stroke="#e6e7f0" stroke-width="0.6"/><path d="M457.3,440.5 L472.6,403.5 L477.3,405.9Z" fill="#dee0eb" stroke="#dee0eb" stroke-width="0.6"/><path d="M457.3,440.5 L477.3,405.9 L481.7,408.8Z" fill="#d6d8e5" stroke="#d6d8e5" stroke-width="0.6"/><path d="M457.3,440.5 L481.7,408.8 L485.6,412.2Z" fill="#ced1df" stroke="#ced1df" stroke-width="0.6"/><path d="M457.3,440.5 L485.6,412.2 L489.0,416.1Z" fill="#c6c9da" stroke="#c6c9da" stroke-width="0.6"/><path d="M457.3,440.5 L489.0,416.1 L491.9,420.5Z" fill="#bec1d4" stroke="#bec1d4" stroke-width="0.6"/><path d="M457.3,440.5 L491.9,420.5 L494.3,425.2Z" fill="#b6b9ce" stroke="#b6b9ce" stroke-width="0.6"/><path d="M457.3,440.5 L494.3,425.2 L495.9,430.1Z" fill="#adb2c8" stroke="#adb2c8" stroke-width="0.6"/><path d="M457.3,440.5 L495.9,430.1 L497.0,435.3Z" fill="#a5a9c2" stroke="#a5a9c2" stroke-width="0.6"/><path d="M457.3,440.5 L497.0,435.3 L497.3,440.5Z" fill="#9ca1bc" stroke="#9ca1bc" stroke-width="0.6"/><path d="M457.3,440.5 L497.3,440.5 L497.0,445.7Z" fill="#9399b6" stroke="#9399b6" stroke-width="0.6"/><path d="M457.3,440.5 L497.0,445.7 L495.9,450.9Z" fill="#8a91b0" stroke="#8a91b0" stroke-width="0.6"/><path d="M457.3,440.5 L495.9,450.9 L494.3,455.8Z" fill="#8188aa" stroke="#8188aa" stroke-width="0.6"/><path d="M457.3,440.5 L494.3,455.8 L491.9,460.5Z" fill="#787fa3" stroke="#787fa3" stroke-width="0.6"/><path d="M457.3,440.5 L491.9,460.5 L489.0,464.9Z" fill="#6e769d" stroke="#6e769d" stroke-width="0.6"/><path d="M457.3,440.5 L489.0,464.9 L485.6,468.8Z" fill="#646d96" stroke="#646d96" stroke-width="0.6"/><path d="M457.3,440.5 L485.6,468.8 L481.7,472.2Z" fill="#5a638f" stroke="#5a638f" stroke-width="0.6"/><path d="M457.3,440.5 L481.7,472.2 L477.3,475.1Z" fill="#505987" stroke="#505987" stroke-width="0.6"/><path d="M457.3,440.5 L477.3,475.1 L472.6,477.5Z" fill="#454f80" stroke="#454f80" stroke-width="0.6"/><path d="M457.3,440.5 L472.6,477.5 L467.7,479.1Z" fill="#394478" stroke="#394478" stroke-width="0.6"/><path d="M457.3,440.5 L467.7,479.1 L462.5,480.2Z" fill="#2d386f" stroke="#2d386f" stroke-width="0.6"/><path d="M457.3,440.5 L462.5,480.2 L457.3,480.5Z" fill="#1e2a65" stroke="#1e2a65" stroke-width="0.6"/><path d="M457.3,440.5 L457.3,480.5 L452.1,480.2Z" fill="#1e2a65" stroke="#1e2a65" stroke-width="0.6"/><path d="M457.3,440.5 L452.1,480.2 L446.9,479.1Z" fill="#2d386f" stroke="#2d386f" stroke-width="0.6"/><path d="M457.3,440.5 L446.9,479.1 L442.0,477.5Z" fill="#394478" stroke="#394478" stroke-width="0.6"/><path d="M457.3,440.5 L442.0,477.5 L437.3,475.1Z" fill="#454f80" stroke="#454f80" stroke-width="0.6"/><path d="M457.3,440.5 L437.3,475.1 L432.9,472.2Z" fill="#505987" stroke="#505987" stroke-width="0.6"/><path d="M457.3,440.5 L432.9,472.2 L429.0,468.8Z" fill="#5a638f" stroke="#5a638f" stroke-width="0.6"/><path d="M457.3,440.5 L429.0,468.8 L425.6,464.9Z" fill="#646d96" stroke="#646d96" stroke-width="0.6"/><path d="M457.3,440.5 L425.6,464.9 L422.7,460.5Z" fill="#6e769d" stroke="#6e769d" stroke-width="0.6"/><path d="M457.3,440.5 L422.7,460.5 L420.3,455.8Z" fill="#787fa3" stroke="#787fa3" stroke-width="0.6"/><path d="M457.3,440.5 L420.3,455.8 L418.7,450.9Z" fill="#8188aa" stroke="#8188aa" stroke-width="0.6"/><path d="M457.3,440.5 L418.7,450.9 L417.6,445.7Z" fill="#8a91b0" stroke="#8a91b0" stroke-width="0.6"/><path d="M457.3,440.5 L417.6,445.7 L417.3,440.5Z" fill="#9399b6" stroke="#9399b6" stroke-width="0.6"/><path d="M457.3,440.5 L417.3,440.5 L417.6,435.3Z" fill="#9ca1bc" stroke="#9ca1bc" stroke-width="0.6"/><path d="M457.3,440.5 L417.6,435.3 L418.7,430.1Z" fill="#a5a9c2" stroke="#a5a9c2" stroke-width="0.6"/><path d="M457.3,440.5 L418.7,430.1 L420.3,425.2Z" fill="#adb2c8" stroke="#adb2c8" stroke-width="0.6"/><path d="M457.3,440.5 L420.3,425.2 L422.7,420.5Z" fill="#b6b9ce" stroke="#b6b9ce" stroke-width="0.6"/><path d="M457.3,440.5 L422.7,420.5 L425.6,416.1Z" fill="#bec1d4" stroke="#bec1d4" stroke-width="0.6"/><path d="M457.3,440.5 L425.6,416.1 L429.0,412.2Z" fill="#c6c9da" stroke="#c6c9da" stroke-width="0.6"/><path d="M457.3,440.5 L429.0,412.2 L432.9,408.8Z" fill="#ced1df" stroke="#ced1df" stroke-width="0.6"/><path d="M457.3,440.5 L432.9,408.8 L437.3,405.9Z" fill="#d6d8e5" stroke="#d6d8e5" stroke-width="0.6"/><path d="M457.3,440.5 L437.3,405.9 L442.0,403.5Z" fill="#dee0eb" stroke="#dee0eb" stroke-width="0.6"/><path d="M457.3,440.5 L442.0,403.5 L446.9,401.9Z" fill="#e6e7f0" stroke="#e6e7f0" stroke-width="0.6"/><path d="M457.3,440.5 L446.9,401.9 L452.1,400.8Z" fill="#eeeff5" stroke="#eeeff5" stroke-width="0.6"/><path d="M457.3,440.5 L452.1,400.8 L457.3,400.5Z" fill="#f6f6fb" stroke="#f6f6fb" stroke-width="0.6"/></g>
<path d="M457.3,415.7 V440.5 L477.6,449.2" stroke="#000" stroke-width="1.5" fill="none"/>
<text x="447.8" y="410.8" font-family='"Liberation Sans", sans-serif' font-size="12" fill="#222" textLength="19.5" lengthAdjust="spacingAndGlyphs">[001]</text><text x="467.8" y="414.3" font-family='"Liberation Sans", sans-serif' font-size="7.5" fill="#222">pc</text>
<text x="481.3" y="456.3" font-family='"Liberation Sans", sans-serif' font-size="12" fill="#222" textLength="20" lengthAdjust="spacingAndGlyphs">[010]</text><text x="501.8" y="459.8" font-family='"Liberation Sans", sans-serif' font-size="7.5" fill="#222">pc</text>
<text x="48.6" y="34.0" font-family='"Liberation Sans", sans-serif' font-size="21.2" fill="#000" font-weight="bold" font-style="normal" text-anchor="start" >a</text>
<text x="540.3" y="33.8" font-family='"Liberation Sans", sans-serif' font-size="21.2" fill="#000" font-weight="bold" font-style="normal" text-anchor="start" >b</text>
<text x="48.6" y="523.8" font-family='"Liberation Sans", sans-serif' font-size="21.2" fill="#000" font-weight="bold" font-style="normal" text-anchor="start" >c</text>
<text x="48.6" y="759.6" font-family='"Liberation Sans", sans-serif' font-size="21.2" fill="#000" font-weight="bold" font-style="normal" text-anchor="start" >d</text>
<text x="476.0" y="591.6" font-family='"Liberation Sans", sans-serif' font-size="21.2" fill="#000" font-weight="bold" font-style="normal" text-anchor="start" >e</text>
<text x="1017.5" y="590.8" font-family='"Liberation Sans", sans-serif' font-size="21.2" fill="#000" font-weight="bold" font-style="normal" text-anchor="start" >f</text>
</svg></body></html>
